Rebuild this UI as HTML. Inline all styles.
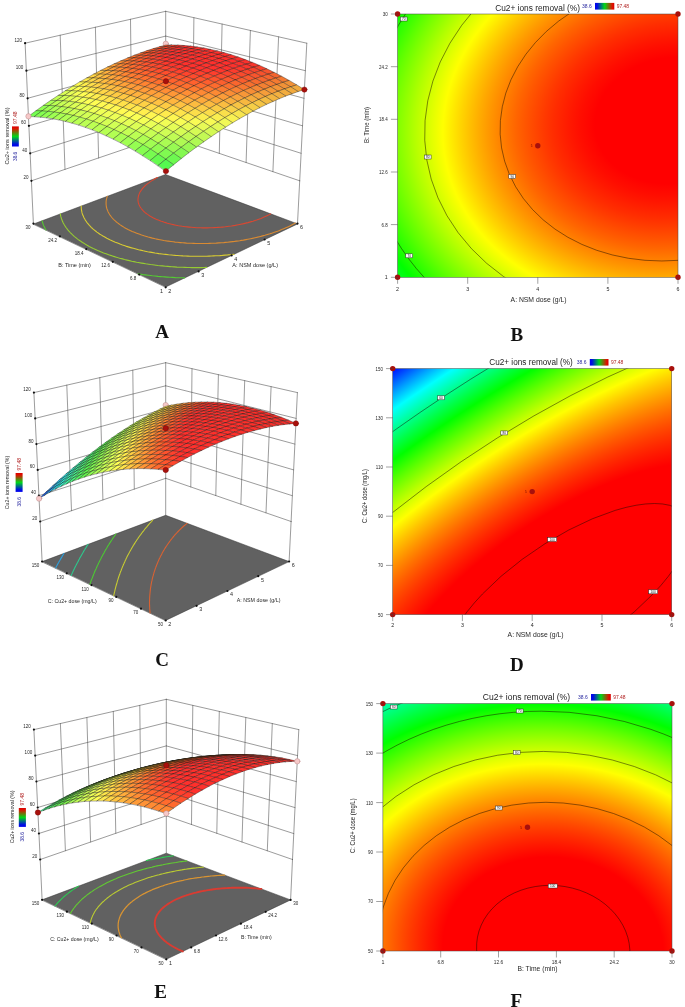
<!DOCTYPE html>
<html><head><meta charset="utf-8"><title>Figure</title><style>html,body{margin:0;padding:0;background:#fff}svg{display:block}</style></head><body>
<svg width="685" height="1007" viewBox="0 0 685 1007" font-family="Liberation Sans, sans-serif">
<rect width="685" height="1007" fill="#fff"/>
<g stroke-linejoin="round" stroke-linecap="round">
<path d="M25.1 43.2L31.4 180.8M60.2 35.2L65.0 169.4M95.4 27.2L98.6 158.0M130.5 19.3L132.1 146.6M165.7 11.3L165.7 135.1M193.9 17.7L192.5 144.3M222.1 24.1L219.3 153.4M250.4 30.4L246.1 162.6M278.6 36.8L272.9 171.7M306.8 43.2L299.7 180.8M25.1 43.2L165.7 11.3M165.7 11.3L306.8 43.2M26.4 70.7L165.7 36.1M165.7 36.1L305.4 70.7M27.6 98.3L165.7 60.8M165.7 60.8L304.0 98.3M28.9 125.8L165.7 85.6M165.7 85.6L302.5 125.8M30.2 153.3L165.7 110.4M165.7 110.4L301.1 153.3M31.4 180.8L165.7 135.1M165.7 135.1L299.7 180.8M31.4 180.8L33.4 223.6M299.7 180.8L297.5 223.6M165.7 135.1L165.7 174.9" stroke="#4a4a4a" stroke-width="0.55" fill="none"/>
<polygon points="165.7,287.0 297.6,223.9 165.5,174.5 33.5,224.0" fill="#616161" stroke="#333" stroke-width="0.5"/>
<polyline points="184.7,277.9 182.4,277.8 180.1,277.8 177.8,277.7 175.4,277.6 172.6,277.4 169.8,277.3 167.0,277.1 164.7,276.9 162.6,276.8 160.5,276.6 158.0,276.4 154.9,276.0 152.4,275.8 150.5,275.5 148.5,275.3 145.1,274.9 142.8,274.6 141.0,274.3 138.1,273.9 138.1,273.9" fill="none" stroke="#54cb32" stroke-width="1.1"/>
<polyline points="45.9,229.9 45.2,228.7 44.9,228.0 44.4,227.0 43.8,225.9 43.5,225.2 43.2,224.4 42.8,223.1 42.5,222.3 42.3,221.5 42.1,220.8" fill="none" stroke="#54cb32" stroke-width="1.1"/>
<polyline points="206.6,267.4 204.0,267.5 201.5,267.6 199.1,267.6 196.6,267.6 194.2,267.6 191.9,267.6 189.5,267.5 187.2,267.5 184.9,267.4 182.3,267.3 179.6,267.2 176.9,267.1 174.1,266.9 171.9,266.8 169.9,266.6 167.8,266.4 165.4,266.2 162.4,265.9 159.9,265.7 157.9,265.5 156.0,265.2 152.7,264.8 150.5,264.5 148.7,264.2 145.7,263.8 143.4,263.4 141.6,263.1 138.3,262.5 136.6,262.2 133.9,261.6 131.7,261.2 129.4,260.6 127.1,260.1 124.5,259.5 122.5,258.9 119.6,258.2 118.2,257.8 115.4,256.9 112.7,256.1 111.3,255.6 108.7,254.8 106.1,253.8 103.6,252.9 102.4,252.4 100.1,251.5 97.7,250.5 95.5,249.5 93.3,248.5 91.2,247.4 89.2,246.4 87.2,245.3 86.2,244.7 84.4,243.6 82.5,242.5 80.8,241.3 79.6,240.5 78.3,239.6 76.7,238.4 75.8,237.6 74.5,236.6 73.1,235.3 72.4,234.7 71.1,233.4 70.5,232.8 69.3,231.5 68.7,230.9 67.6,229.6 67.1,228.9 66.4,228.0 65.6,226.9 65.2,226.2 64.4,225.0 63.9,224.1 63.5,223.4 62.9,222.3 62.5,221.3 62.2,220.6 61.9,219.8 61.4,218.6 61.2,217.7 60.9,216.9 60.8,216.2 60.5,215.2 60.4,214.1 60.3,213.9" fill="none" stroke="#96cb32" stroke-width="1.1"/>
<polyline points="234.2,254.2 231.5,254.5 229.6,254.7 227.7,254.9 225.2,255.1 222.4,255.4 219.8,255.6 217.8,255.7 215.7,255.8 213.6,255.9 211.5,256.0 209.1,256.1 206.6,256.2 204.1,256.2 201.7,256.3 199.3,256.3 196.9,256.3 194.6,256.3 192.4,256.2 190.1,256.2 187.9,256.1 185.5,256.0 182.9,255.9 180.2,255.7 177.4,255.5 175.4,255.4 173.4,255.2 171.4,255.0 168.6,254.8 165.7,254.4 163.9,254.2 162.0,254.0 158.8,253.6 156.7,253.2 155.0,253.0 151.6,252.4 150.0,252.1 147.6,251.7 145.1,251.2 143.3,250.8 140.5,250.1 138.6,249.7 136.0,249.0 133.3,248.3 131.7,247.9 129.0,247.1 126.6,246.4 125.0,245.8 122.5,245.0 120.0,244.1 117.6,243.1 115.3,242.2 114.2,241.7 112.0,240.7 109.8,239.7 108.8,239.2 106.8,238.2 104.8,237.1 102.9,236.0 101.1,234.9 99.9,234.2 98.6,233.2 96.9,232.1 95.9,231.3 94.7,230.3 93.2,229.1 92.5,228.5 91.2,227.3 90.6,226.6 89.4,225.4 88.8,224.7 87.9,223.6 87.2,222.8 86.7,222.1 85.8,220.8 85.3,220.1 84.9,219.3 84.1,218.0 83.8,217.3 83.5,216.6 83.0,215.6 82.6,214.5 82.3,213.7 82.1,213.0 81.9,212.2 81.7,211.2 81.5,210.2 81.4,209.2 81.3,208.5 81.3,207.7 81.2,206.9 81.2,206.1 81.2,206.1" fill="none" stroke="#d8cb32" stroke-width="1.1"/>
<polyline points="295.3,223.1 293.5,224.1 291.7,225.0 289.8,226.0 287.8,226.9 285.8,227.8 283.7,228.7 281.6,229.6 279.5,230.4 278.3,230.9 276.0,231.7 273.6,232.6 271.2,233.4 269.9,233.8 267.4,234.5 264.9,235.3 263.5,235.6 260.8,236.4 259.4,236.7 256.6,237.4 255.1,237.7 252.2,238.4 250.7,238.7 247.7,239.3 246.1,239.6 243.4,240.1 241.3,240.4 239.7,240.7 236.5,241.1 234.6,241.4 232.8,241.6 230.3,241.9 227.5,242.2 225.6,242.4 223.7,242.6 221.6,242.7 218.9,242.9 216.2,243.1 213.9,243.2 211.8,243.3 209.7,243.4 207.6,243.5 205.4,243.5 203.1,243.5 200.8,243.5 198.5,243.5 196.1,243.5 193.6,243.4 191.1,243.3 188.6,243.2 186.5,243.1 184.5,242.9 182.6,242.8 180.3,242.6 177.3,242.3 175.1,242.1 173.3,241.8 171.0,241.5 168.1,241.1 166.4,240.9 163.9,240.5 161.5,240.0 159.9,239.7 156.8,239.1 155.3,238.8 152.4,238.1 150.6,237.6 148.2,237.0 145.5,236.2 144.1,235.8 141.6,235.0 139.1,234.1 136.7,233.2 134.4,232.3 132.2,231.4 130.1,230.4 128.0,229.4 126.1,228.4 124.2,227.4 122.4,226.3 121.6,225.7 119.9,224.6 118.4,223.5 117.6,222.9 116.1,221.7 115.5,221.1 114.1,219.9 113.5,219.3 112.3,218.0 111.8,217.4 111.1,216.5 110.3,215.4 109.8,214.8 109.2,213.8 108.6,212.7 108.2,212.0 107.9,211.3 107.5,210.3 107.1,209.2 106.8,208.5 106.6,207.7 106.4,207.0 106.3,206.2 106.2,205.2 106.1,204.3 106.1,203.4 106.1,202.5 106.1,201.6 106.2,200.8 106.3,200.0 106.5,199.2 106.7,198.4 106.9,197.6 107.1,196.8 107.3,196.3" fill="none" stroke="#d98a32" stroke-width="1.1"/>
<polyline points="270.7,213.9 269.0,214.8 267.1,215.7 265.2,216.6 263.1,217.5 261.0,218.4 258.8,219.2 256.6,220.0 254.2,220.8 253.0,221.2 250.5,221.9 248.0,222.6 246.7,222.9 243.9,223.6 242.6,223.9 239.7,224.5 238.2,224.8 235.2,225.4 233.7,225.6 231.5,226.0 228.8,226.3 227.1,226.5 225.3,226.8 222.4,227.1 220.1,227.3 218.2,227.4 216.3,227.5 214.4,227.6 212.0,227.8 209.6,227.8 207.3,227.9 205.0,227.9 202.9,227.9 200.7,227.8 198.7,227.7 196.6,227.7 194.0,227.5 191.3,227.3 189.1,227.1 187.3,226.9 185.4,226.7 182.2,226.3 180.6,226.0 178.5,225.7 175.9,225.2 174.4,224.9 171.5,224.2 169.5,223.7 167.4,223.2 164.8,222.4 162.4,221.6 161.2,221.2 158.9,220.3 156.7,219.4 154.6,218.5 153.5,218.0 151.7,217.0 149.9,216.0 148.3,214.9 147.5,214.4 146.0,213.2 145.2,212.7 143.9,211.5 143.3,210.9 142.2,209.6 141.6,209.0 141.1,208.3 140.3,207.1 139.8,206.3 139.5,205.6 139.1,204.9 138.7,203.8 138.4,202.9 138.2,202.0 138.1,201.2 138.0,200.5 138.0,199.7 138.0,198.9 138.1,198.0 138.2,197.2 138.4,196.3 138.6,195.4 138.9,194.6 139.2,193.9 139.5,193.2 139.8,192.5 140.3,191.6 141.0,190.6 141.5,189.9 141.9,189.3 142.6,188.4 143.5,187.5 144.0,186.9 144.9,186.0 145.8,185.2 146.4,184.7 147.7,183.6 148.4,183.1 149.8,182.1 150.5,181.6 152.0,180.6 153.2,179.9 154.3,179.2 155.9,178.3 157.5,177.5 157.5,177.5" fill="none" stroke="#d94832" stroke-width="1.1"/>
<circle cx="33.4" cy="223.6" r="1.1" fill="#111"/>
<circle cx="59.9" cy="236.3" r="1.1" fill="#111"/>
<circle cx="86.3" cy="249.1" r="1.1" fill="#111"/>
<circle cx="112.8" cy="261.8" r="1.1" fill="#111"/>
<circle cx="139.2" cy="274.6" r="1.1" fill="#111"/>
<circle cx="165.7" cy="287.3" r="1.1" fill="#111"/>
<circle cx="198.6" cy="271.4" r="1.1" fill="#111"/>
<circle cx="231.6" cy="255.4" r="1.1" fill="#111"/>
<circle cx="264.6" cy="239.5" r="1.1" fill="#111"/>
<circle cx="297.5" cy="223.6" r="1.1" fill="#111"/>
<circle cx="25.1" cy="43.2" r="1.1" fill="#111"/>
<circle cx="26.4" cy="70.7" r="1.1" fill="#111"/>
<circle cx="27.6" cy="98.3" r="1.1" fill="#111"/>
<circle cx="28.9" cy="125.8" r="1.1" fill="#111"/>
<circle cx="30.2" cy="153.3" r="1.1" fill="#111"/>
<circle cx="31.4" cy="180.8" r="1.1" fill="#111"/>
<circle cx="165.8" cy="43.8" r="2.7" fill="#f6c9c9" stroke="#b88" stroke-width="0.5"/>
<polygon points="165.8,46.6 172.0,44.9 165.8,45.0 159.6,46.7" fill="#ff582e" stroke="#151510" stroke-opacity="0.85" stroke-width="0.42"/>
<polygon points="159.5,48.5 165.8,46.6 159.6,46.7 153.3,48.6" fill="#ff5a2e" stroke="#151510" stroke-opacity="0.85" stroke-width="0.42"/>
<polygon points="172.1,46.8 178.3,45.1 172.0,44.9 165.8,46.6" fill="#ff472d" stroke="#151510" stroke-opacity="0.85" stroke-width="0.42"/>
<polygon points="153.2,50.6 159.5,48.5 153.3,48.6 147.0,50.6" fill="#ff5e2e" stroke="#151510" stroke-opacity="0.85" stroke-width="0.42"/>
<polygon points="165.8,48.7 172.1,46.8 165.8,46.6 159.5,48.5" fill="#ff492d" stroke="#151510" stroke-opacity="0.85" stroke-width="0.42"/>
<polygon points="178.4,47.2 184.6,45.5 178.3,45.1 172.1,46.8" fill="#ff392d" stroke="#151510" stroke-opacity="0.85" stroke-width="0.42"/>
<polygon points="159.4,50.8 165.8,48.7 159.5,48.5 153.2,50.6" fill="#ff4d2d" stroke="#151510" stroke-opacity="0.85" stroke-width="0.42"/>
<polygon points="172.1,49.1 178.4,47.2 172.1,46.8 165.8,48.7" fill="#ff3b2d" stroke="#151510" stroke-opacity="0.85" stroke-width="0.42"/>
<polygon points="146.8,52.9 153.2,50.6 147.0,50.6 140.6,52.9" fill="#ff642e" stroke="#151510" stroke-opacity="0.85" stroke-width="0.42"/>
<polygon points="184.9,47.8 191.1,46.1 184.6,45.5 178.4,47.2" fill="#ff312d" stroke="#151510" stroke-opacity="0.85" stroke-width="0.42"/>
<polygon points="140.3,55.3 146.8,52.9 140.6,52.9 134.1,55.3" fill="#ff6b2e" stroke="#151510" stroke-opacity="0.85" stroke-width="0.42"/>
<polygon points="153.0,53.0 159.4,50.8 153.2,50.6 146.8,52.9" fill="#ff532d" stroke="#151510" stroke-opacity="0.85" stroke-width="0.42"/>
<polygon points="165.8,51.2 172.1,49.1 165.8,48.7 159.4,50.8" fill="#ff3e2d" stroke="#151510" stroke-opacity="0.85" stroke-width="0.42"/>
<polygon points="178.6,49.7 184.9,47.8 178.4,47.2 172.1,49.1" fill="#ff312d" stroke="#151510" stroke-opacity="0.85" stroke-width="0.42"/>
<polygon points="191.4,48.7 197.6,47.0 191.1,46.1 184.9,47.8" fill="#ff302d" stroke="#151510" stroke-opacity="0.85" stroke-width="0.42"/>
<polygon points="146.5,55.5 153.0,53.0 146.8,52.9 140.3,55.3" fill="#ff5a2e" stroke="#151510" stroke-opacity="0.85" stroke-width="0.42"/>
<polygon points="185.1,50.6 191.4,48.7 184.9,47.8 178.6,49.7" fill="#ff302d" stroke="#151510" stroke-opacity="0.85" stroke-width="0.42"/>
<polygon points="133.7,57.9 140.3,55.3 134.1,55.3 127.5,58.0" fill="#ff752f" stroke="#151510" stroke-opacity="0.85" stroke-width="0.42"/>
<polygon points="159.4,53.4 165.8,51.2 159.4,50.8 153.0,53.0" fill="#ff442d" stroke="#151510" stroke-opacity="0.85" stroke-width="0.42"/>
<polygon points="172.2,51.8 178.6,49.7 172.1,49.1 165.8,51.2" fill="#ff322d" stroke="#151510" stroke-opacity="0.85" stroke-width="0.42"/>
<polygon points="198.0,49.8 204.2,48.0 197.6,47.0 191.4,48.7" fill="#ff302c" stroke="#151510" stroke-opacity="0.85" stroke-width="0.42"/>
<polygon points="127.1,60.8 133.7,57.9 127.5,58.0 120.9,60.8" fill="#ff8232" stroke="#151510" stroke-opacity="0.85" stroke-width="0.42"/>
<polygon points="140.0,58.1 146.5,55.5 140.3,55.3 133.7,57.9" fill="#ff632e" stroke="#151510" stroke-opacity="0.85" stroke-width="0.42"/>
<polygon points="152.9,55.9 159.4,53.4 153.0,53.0 146.5,55.5" fill="#ff4b2d" stroke="#151510" stroke-opacity="0.85" stroke-width="0.42"/>
<polygon points="165.8,54.1 172.2,51.8 165.8,51.2 159.4,53.4" fill="#ff372d" stroke="#151510" stroke-opacity="0.85" stroke-width="0.42"/>
<polygon points="178.7,52.7 185.1,50.6 178.6,49.7 172.2,51.8" fill="#ff312d" stroke="#151510" stroke-opacity="0.85" stroke-width="0.42"/>
<polygon points="191.7,51.7 198.0,49.8 191.4,48.7 185.1,50.6" fill="#ff302c" stroke="#151510" stroke-opacity="0.85" stroke-width="0.42"/>
<polygon points="204.7,51.1 210.9,49.4 204.2,48.0 198.0,49.8" fill="#ff302c" stroke="#151510" stroke-opacity="0.85" stroke-width="0.42"/>
<polygon points="120.4,63.8 127.1,60.8 120.9,60.8 114.2,63.8" fill="#ff9035" stroke="#151510" stroke-opacity="0.85" stroke-width="0.42"/>
<polygon points="133.3,61.0 140.0,58.1 133.7,57.9 127.1,60.8" fill="#ff6e2e" stroke="#151510" stroke-opacity="0.85" stroke-width="0.42"/>
<polygon points="146.3,58.5 152.9,55.9 146.5,55.5 140.0,58.1" fill="#ff542d" stroke="#151510" stroke-opacity="0.85" stroke-width="0.42"/>
<polygon points="159.3,56.5 165.8,54.1 159.4,53.4 152.9,55.9" fill="#ff3e2d" stroke="#151510" stroke-opacity="0.85" stroke-width="0.42"/>
<polygon points="172.3,54.9 178.7,52.7 172.2,51.8 165.8,54.1" fill="#ff312d" stroke="#151510" stroke-opacity="0.85" stroke-width="0.42"/>
<polygon points="185.3,53.7 191.7,51.7 185.1,50.6 178.7,52.7" fill="#ff302d" stroke="#151510" stroke-opacity="0.85" stroke-width="0.42"/>
<polygon points="198.4,53.0 204.7,51.1 198.0,49.8 191.7,51.7" fill="#ff302c" stroke="#151510" stroke-opacity="0.85" stroke-width="0.42"/>
<polygon points="211.4,52.6 217.6,50.9 210.9,49.4 204.7,51.1" fill="#ff302c" stroke="#151510" stroke-opacity="0.85" stroke-width="0.42"/>
<polygon points="126.6,64.0 133.3,61.0 127.1,60.8 120.4,63.8" fill="#ff7c31" stroke="#151510" stroke-opacity="0.85" stroke-width="0.42"/>
<polygon points="139.7,61.4 146.3,58.5 140.0,58.1 133.3,61.0" fill="#ff5f2e" stroke="#151510" stroke-opacity="0.85" stroke-width="0.42"/>
<polygon points="165.8,57.4 172.3,54.9 165.8,54.1 159.3,56.5" fill="#ff342d" stroke="#151510" stroke-opacity="0.85" stroke-width="0.42"/>
<polygon points="192.0,55.1 198.4,53.0 191.7,51.7 185.3,53.7" fill="#ff302c" stroke="#151510" stroke-opacity="0.85" stroke-width="0.42"/>
<polygon points="205.1,54.5 211.4,52.6 204.7,51.1 198.4,53.0" fill="#ff302c" stroke="#151510" stroke-opacity="0.85" stroke-width="0.42"/>
<polygon points="113.6,67.0 120.4,63.8 114.2,63.8 107.5,67.0" fill="#ffa039" stroke="#151510" stroke-opacity="0.85" stroke-width="0.42"/>
<polygon points="152.7,59.2 159.3,56.5 152.9,55.9 146.3,58.5" fill="#ff472d" stroke="#151510" stroke-opacity="0.85" stroke-width="0.42"/>
<polygon points="178.9,56.0 185.3,53.7 178.7,52.7 172.3,54.9" fill="#ff302d" stroke="#151510" stroke-opacity="0.85" stroke-width="0.42"/>
<polygon points="218.2,54.4 224.4,52.7 217.6,50.9 211.4,52.6" fill="#ff302c" stroke="#151510" stroke-opacity="0.85" stroke-width="0.42"/>
<polygon points="106.8,70.4 113.6,67.0 107.5,67.0 100.6,70.4" fill="#ffb13d" stroke="#151510" stroke-opacity="0.85" stroke-width="0.42"/>
<polygon points="119.8,67.2 126.6,64.0 120.4,63.8 113.6,67.0" fill="#ff8c34" stroke="#151510" stroke-opacity="0.85" stroke-width="0.42"/>
<polygon points="132.9,64.4 139.7,61.4 133.3,61.0 126.6,64.0" fill="#ff6b2e" stroke="#151510" stroke-opacity="0.85" stroke-width="0.42"/>
<polygon points="146.1,62.0 152.7,59.2 146.3,58.5 139.7,61.4" fill="#ff522d" stroke="#151510" stroke-opacity="0.85" stroke-width="0.42"/>
<polygon points="159.2,60.1 165.8,57.4 159.3,56.5 152.7,59.2" fill="#ff3d2d" stroke="#151510" stroke-opacity="0.85" stroke-width="0.42"/>
<polygon points="172.4,58.5 178.9,56.0 172.3,54.9 165.8,57.4" fill="#ff312d" stroke="#151510" stroke-opacity="0.85" stroke-width="0.42"/>
<polygon points="185.6,57.4 192.0,55.1 185.3,53.7 178.9,56.0" fill="#ff302d" stroke="#151510" stroke-opacity="0.85" stroke-width="0.42"/>
<polygon points="198.8,56.7 205.1,54.5 198.4,53.0 192.0,55.1" fill="#ff302c" stroke="#151510" stroke-opacity="0.85" stroke-width="0.42"/>
<polygon points="212.0,56.4 218.2,54.4 211.4,52.6 205.1,54.5" fill="#ff302c" stroke="#151510" stroke-opacity="0.85" stroke-width="0.42"/>
<polygon points="225.1,56.5 231.3,54.7 224.4,52.7 218.2,54.4" fill="#fe302c" stroke="#151510" stroke-opacity="0.85" stroke-width="0.42"/>
<polygon points="113.0,70.7 119.8,67.2 113.6,67.0 106.8,70.4" fill="#ff9e39" stroke="#151510" stroke-opacity="0.85" stroke-width="0.42"/>
<polygon points="152.6,62.9 159.2,60.1 152.7,59.2 146.1,62.0" fill="#ff472d" stroke="#151510" stroke-opacity="0.85" stroke-width="0.42"/>
<polygon points="179.1,59.9 185.6,57.4 178.9,56.0 172.4,58.5" fill="#ff312d" stroke="#151510" stroke-opacity="0.85" stroke-width="0.42"/>
<polygon points="218.9,58.4 225.1,56.5 218.2,54.4 212.0,56.4" fill="#ff302c" stroke="#151510" stroke-opacity="0.85" stroke-width="0.42"/>
<polygon points="99.9,74.1 106.8,70.4 100.6,70.4 93.7,74.1" fill="#ffc342" stroke="#151510" stroke-opacity="0.85" stroke-width="0.42"/>
<polygon points="126.2,67.7 132.9,64.4 126.6,64.0 119.8,67.2" fill="#ff7b30" stroke="#151510" stroke-opacity="0.85" stroke-width="0.42"/>
<polygon points="139.4,65.1 146.1,62.0 139.7,61.4 132.9,64.4" fill="#ff5e2e" stroke="#151510" stroke-opacity="0.85" stroke-width="0.42"/>
<polygon points="165.8,61.2 172.4,58.5 165.8,57.4 159.2,60.1" fill="#ff352d" stroke="#151510" stroke-opacity="0.85" stroke-width="0.42"/>
<polygon points="192.3,59.0 198.8,56.7 192.0,55.1 185.6,57.4" fill="#ff302c" stroke="#151510" stroke-opacity="0.85" stroke-width="0.42"/>
<polygon points="205.6,58.5 212.0,56.4 205.1,54.5 198.8,56.7" fill="#ff302c" stroke="#151510" stroke-opacity="0.85" stroke-width="0.42"/>
<polygon points="232.1,58.8 238.3,57.0 231.3,54.7 225.1,56.5" fill="#fd302c" stroke="#151510" stroke-opacity="0.85" stroke-width="0.42"/>
<polygon points="92.9,77.9 99.9,74.1 93.7,74.1 86.8,77.9" fill="#ffd547" stroke="#151510" stroke-opacity="0.85" stroke-width="0.42"/>
<polygon points="106.1,74.3 113.0,70.7 106.8,70.4 99.9,74.1" fill="#ffb13d" stroke="#151510" stroke-opacity="0.85" stroke-width="0.42"/>
<polygon points="119.3,71.1 126.2,67.7 119.8,67.2 113.0,70.7" fill="#ff8d34" stroke="#151510" stroke-opacity="0.85" stroke-width="0.42"/>
<polygon points="132.6,68.4 139.4,65.1 132.9,64.4 126.2,67.7" fill="#ff6c2e" stroke="#151510" stroke-opacity="0.85" stroke-width="0.42"/>
<polygon points="145.9,66.0 152.6,62.9 146.1,62.0 139.4,65.1" fill="#ff542d" stroke="#151510" stroke-opacity="0.85" stroke-width="0.42"/>
<polygon points="159.2,64.1 165.8,61.2 159.2,60.1 152.6,62.9" fill="#ff3f2d" stroke="#151510" stroke-opacity="0.85" stroke-width="0.42"/>
<polygon points="172.5,62.6 179.1,59.9 172.4,58.5 165.8,61.2" fill="#ff312d" stroke="#151510" stroke-opacity="0.85" stroke-width="0.42"/>
<polygon points="185.8,61.5 192.3,59.0 185.6,57.4 179.1,59.9" fill="#ff302d" stroke="#151510" stroke-opacity="0.85" stroke-width="0.42"/>
<polygon points="199.2,60.8 205.6,58.5 198.8,56.7 192.3,59.0" fill="#ff302c" stroke="#151510" stroke-opacity="0.85" stroke-width="0.42"/>
<polygon points="212.5,60.6 218.9,58.4 212.0,56.4 205.6,58.5" fill="#ff302c" stroke="#151510" stroke-opacity="0.85" stroke-width="0.42"/>
<polygon points="225.9,60.7 232.1,58.8 225.1,56.5 218.9,58.4" fill="#fe302c" stroke="#151510" stroke-opacity="0.85" stroke-width="0.42"/>
<polygon points="239.2,61.3 245.3,59.6 238.3,57.0 232.1,58.8" fill="#fc302d" stroke="#151510" stroke-opacity="0.85" stroke-width="0.42"/>
<polygon points="85.8,82.0 92.9,77.9 86.8,77.9 79.7,81.9" fill="#ffe94d" stroke="#151510" stroke-opacity="0.85" stroke-width="0.42"/>
<polygon points="99.1,78.2 106.1,74.3 99.9,74.1 92.9,77.9" fill="#ffc442" stroke="#151510" stroke-opacity="0.85" stroke-width="0.42"/>
<polygon points="112.4,74.8 119.3,71.1 113.0,70.7 106.1,74.3" fill="#ffa039" stroke="#151510" stroke-opacity="0.85" stroke-width="0.42"/>
<polygon points="125.7,71.8 132.6,68.4 126.2,67.7 119.3,71.1" fill="#ff7e31" stroke="#151510" stroke-opacity="0.85" stroke-width="0.42"/>
<polygon points="139.0,69.3 145.9,66.0 139.4,65.1 132.6,68.4" fill="#ff622e" stroke="#151510" stroke-opacity="0.85" stroke-width="0.42"/>
<polygon points="152.4,67.1 159.2,64.1 152.6,62.9 145.9,66.0" fill="#ff4b2d" stroke="#151510" stroke-opacity="0.85" stroke-width="0.42"/>
<polygon points="165.8,65.4 172.5,62.6 165.8,61.2 159.2,64.1" fill="#ff392d" stroke="#151510" stroke-opacity="0.85" stroke-width="0.42"/>
<polygon points="179.2,64.2 185.8,61.5 179.1,59.9 172.5,62.6" fill="#ff312d" stroke="#151510" stroke-opacity="0.85" stroke-width="0.42"/>
<polygon points="192.7,63.3 199.2,60.8 192.3,59.0 185.8,61.5" fill="#ff302d" stroke="#151510" stroke-opacity="0.85" stroke-width="0.42"/>
<polygon points="206.1,62.9 212.5,60.6 205.6,58.5 199.2,60.8" fill="#ff302c" stroke="#151510" stroke-opacity="0.85" stroke-width="0.42"/>
<polygon points="219.5,62.9 225.9,60.7 218.9,58.4 212.5,60.6" fill="#ff302c" stroke="#151510" stroke-opacity="0.85" stroke-width="0.42"/>
<polygon points="232.9,63.3 239.2,61.3 232.1,58.8 225.9,60.7" fill="#fd302d" stroke="#151510" stroke-opacity="0.85" stroke-width="0.42"/>
<polygon points="246.3,64.2 252.5,62.4 245.3,59.6 239.2,61.3" fill="#fa312d" stroke="#151510" stroke-opacity="0.85" stroke-width="0.42"/>
<polygon points="92.0,82.3 99.1,78.2 92.9,77.9 85.8,82.0" fill="#ffd848" stroke="#151510" stroke-opacity="0.85" stroke-width="0.42"/>
<polygon points="105.3,78.7 112.4,74.8 106.1,74.3 99.1,78.2" fill="#ffb53e" stroke="#151510" stroke-opacity="0.85" stroke-width="0.42"/>
<polygon points="132.2,72.8 139.0,69.3 132.6,68.4 125.7,71.8" fill="#ff712e" stroke="#151510" stroke-opacity="0.85" stroke-width="0.42"/>
<polygon points="159.1,68.5 165.8,65.4 159.2,64.1 152.4,67.1" fill="#ff452d" stroke="#151510" stroke-opacity="0.85" stroke-width="0.42"/>
<polygon points="172.6,67.1 179.2,64.2 172.5,62.6 165.8,65.4" fill="#ff362d" stroke="#151510" stroke-opacity="0.85" stroke-width="0.42"/>
<polygon points="199.6,65.4 206.1,62.9 199.2,60.8 192.7,63.3" fill="#ff302d" stroke="#151510" stroke-opacity="0.85" stroke-width="0.42"/>
<polygon points="226.6,65.5 232.9,63.3 225.9,60.7 219.5,62.9" fill="#fe302d" stroke="#151510" stroke-opacity="0.85" stroke-width="0.42"/>
<polygon points="240.1,66.1 246.3,64.2 239.2,61.3 232.9,63.3" fill="#fb312d" stroke="#151510" stroke-opacity="0.85" stroke-width="0.42"/>
<polygon points="78.7,86.3 85.8,82.0 79.7,81.9 72.6,86.2" fill="#fffc53" stroke="#151510" stroke-opacity="0.85" stroke-width="0.42"/>
<polygon points="118.7,75.5 125.7,71.8 119.3,71.1 112.4,74.8" fill="#ff9236" stroke="#151510" stroke-opacity="0.85" stroke-width="0.42"/>
<polygon points="145.6,70.4 152.4,67.1 145.9,66.0 139.0,69.3" fill="#ff592e" stroke="#151510" stroke-opacity="0.85" stroke-width="0.42"/>
<polygon points="186.1,66.0 192.7,63.3 185.8,61.5 179.2,64.2" fill="#ff312d" stroke="#151510" stroke-opacity="0.85" stroke-width="0.42"/>
<polygon points="213.1,65.2 219.5,62.9 212.5,60.6 206.1,62.9" fill="#ff302d" stroke="#151510" stroke-opacity="0.85" stroke-width="0.42"/>
<polygon points="253.5,67.2 259.7,65.4 252.5,62.4 246.3,64.2" fill="#f9362d" stroke="#151510" stroke-opacity="0.85" stroke-width="0.42"/>
<polygon points="71.5,90.7 78.7,86.3 72.6,86.2 65.4,90.7" fill="#efff56" stroke="#151510" stroke-opacity="0.85" stroke-width="0.42"/>
<polygon points="84.8,86.5 92.0,82.3 85.8,82.0 78.7,86.3" fill="#ffed4e" stroke="#151510" stroke-opacity="0.85" stroke-width="0.42"/>
<polygon points="98.3,82.8 105.3,78.7 99.1,78.2 92.0,82.3" fill="#ffc944" stroke="#151510" stroke-opacity="0.85" stroke-width="0.42"/>
<polygon points="111.7,79.4 118.7,75.5 112.4,74.8 105.3,78.7" fill="#ffa73b" stroke="#151510" stroke-opacity="0.85" stroke-width="0.42"/>
<polygon points="125.2,76.5 132.2,72.8 125.7,71.8 118.7,75.5" fill="#ff8633" stroke="#151510" stroke-opacity="0.85" stroke-width="0.42"/>
<polygon points="138.7,73.9 145.6,70.4 139.0,69.3 132.2,72.8" fill="#ff692e" stroke="#151510" stroke-opacity="0.85" stroke-width="0.42"/>
<polygon points="152.3,71.8 159.1,68.5 152.4,67.1 145.6,70.4" fill="#ff532d" stroke="#151510" stroke-opacity="0.85" stroke-width="0.42"/>
<polygon points="165.8,70.2 172.6,67.1 165.8,65.4 159.1,68.5" fill="#ff422d" stroke="#151510" stroke-opacity="0.85" stroke-width="0.42"/>
<polygon points="179.4,69.0 186.1,66.0 179.2,64.2 172.6,67.1" fill="#ff352d" stroke="#151510" stroke-opacity="0.85" stroke-width="0.42"/>
<polygon points="193.0,68.1 199.6,65.4 192.7,63.3 186.1,66.0" fill="#ff312d" stroke="#151510" stroke-opacity="0.85" stroke-width="0.42"/>
<polygon points="206.6,67.8 213.1,65.2 206.1,62.9 199.6,65.4" fill="#ff312d" stroke="#151510" stroke-opacity="0.85" stroke-width="0.42"/>
<polygon points="220.2,67.8 226.6,65.5 219.5,62.9 213.1,65.2" fill="#fe312d" stroke="#151510" stroke-opacity="0.85" stroke-width="0.42"/>
<polygon points="233.7,68.3 240.1,66.1 232.9,63.3 226.6,65.5" fill="#fc312d" stroke="#151510" stroke-opacity="0.85" stroke-width="0.42"/>
<polygon points="247.3,69.2 253.5,67.2 246.3,64.2 240.1,66.1" fill="#fa362d" stroke="#151510" stroke-opacity="0.85" stroke-width="0.42"/>
<polygon points="260.8,70.6 266.9,68.8 259.7,65.4 253.5,67.2" fill="#f7432d" stroke="#151510" stroke-opacity="0.85" stroke-width="0.42"/>
<polygon points="77.6,91.1 84.8,86.5 78.7,86.3 71.5,90.7" fill="#fdff54" stroke="#151510" stroke-opacity="0.85" stroke-width="0.42"/>
<polygon points="118.2,80.4 125.2,76.5 118.7,75.5 111.7,79.4" fill="#ff9b38" stroke="#151510" stroke-opacity="0.85" stroke-width="0.42"/>
<polygon points="145.4,75.4 152.3,71.8 145.6,70.4 138.7,73.9" fill="#ff632e" stroke="#151510" stroke-opacity="0.85" stroke-width="0.42"/>
<polygon points="186.3,71.1 193.0,68.1 186.1,66.0 179.4,69.0" fill="#ff362d" stroke="#151510" stroke-opacity="0.85" stroke-width="0.42"/>
<polygon points="213.7,70.4 220.2,67.8 213.1,65.2 206.6,67.8" fill="#ff312d" stroke="#151510" stroke-opacity="0.85" stroke-width="0.42"/>
<polygon points="254.6,72.6 260.8,70.6 253.5,67.2 247.3,69.2" fill="#f8442d" stroke="#151510" stroke-opacity="0.85" stroke-width="0.42"/>
<polygon points="64.2,95.4 71.5,90.7 65.4,90.7 58.2,95.4" fill="#daff55" stroke="#151510" stroke-opacity="0.85" stroke-width="0.42"/>
<polygon points="91.1,87.1 98.3,82.8 92.0,82.3 84.8,86.5" fill="#ffdf4a" stroke="#151510" stroke-opacity="0.85" stroke-width="0.42"/>
<polygon points="104.6,83.5 111.7,79.4 105.3,78.7 98.3,82.8" fill="#ffbc40" stroke="#151510" stroke-opacity="0.85" stroke-width="0.42"/>
<polygon points="131.8,77.7 138.7,73.9 132.2,72.8 125.2,76.5" fill="#ff7c31" stroke="#151510" stroke-opacity="0.85" stroke-width="0.42"/>
<polygon points="159.0,73.5 165.8,70.2 159.1,68.5 152.3,71.8" fill="#ff4f2d" stroke="#151510" stroke-opacity="0.85" stroke-width="0.42"/>
<polygon points="172.7,72.1 179.4,69.0 172.6,67.1 165.8,70.2" fill="#ff412d" stroke="#151510" stroke-opacity="0.85" stroke-width="0.42"/>
<polygon points="200.0,70.5 206.6,67.8 199.6,65.4 193.0,68.1" fill="#ff312d" stroke="#151510" stroke-opacity="0.85" stroke-width="0.42"/>
<polygon points="227.3,70.7 233.7,68.3 226.6,65.5 220.2,67.8" fill="#fd312d" stroke="#151510" stroke-opacity="0.85" stroke-width="0.42"/>
<polygon points="241.0,71.4 247.3,69.2 240.1,66.1 233.7,68.3" fill="#fb382d" stroke="#151510" stroke-opacity="0.85" stroke-width="0.42"/>
<polygon points="268.2,74.2 274.3,72.4 266.9,68.8 260.8,70.6" fill="#f6532d" stroke="#151510" stroke-opacity="0.85" stroke-width="0.42"/>
<polygon points="70.3,95.8 77.6,91.1 71.5,90.7 64.2,95.4" fill="#e8ff56" stroke="#151510" stroke-opacity="0.85" stroke-width="0.42"/>
<polygon points="261.9,76.3 268.2,74.2 260.8,70.6 254.6,72.6" fill="#f7532d" stroke="#151510" stroke-opacity="0.85" stroke-width="0.42"/>
<polygon points="56.9,100.4 64.2,95.4 58.2,95.4 50.8,100.3" fill="#c3ff54" stroke="#151510" stroke-opacity="0.85" stroke-width="0.42"/>
<polygon points="83.9,91.6 91.1,87.1 84.8,86.5 77.6,91.1" fill="#fff450" stroke="#151510" stroke-opacity="0.85" stroke-width="0.42"/>
<polygon points="97.4,87.8 104.6,83.5 98.3,82.8 91.1,87.1" fill="#ffd246" stroke="#151510" stroke-opacity="0.85" stroke-width="0.42"/>
<polygon points="111.1,84.5 118.2,80.4 111.7,79.4 104.6,83.5" fill="#ffb13d" stroke="#151510" stroke-opacity="0.85" stroke-width="0.42"/>
<polygon points="124.7,81.6 131.8,77.7 125.2,76.5 118.2,80.4" fill="#ff9135" stroke="#151510" stroke-opacity="0.85" stroke-width="0.42"/>
<polygon points="138.4,79.1 145.4,75.4 138.7,73.9 131.8,77.7" fill="#ff742f" stroke="#151510" stroke-opacity="0.85" stroke-width="0.42"/>
<polygon points="152.1,77.0 159.0,73.5 152.3,71.8 145.4,75.4" fill="#ff5f2e" stroke="#151510" stroke-opacity="0.85" stroke-width="0.42"/>
<polygon points="165.8,75.4 172.7,72.1 165.8,70.2 159.0,73.5" fill="#ff4e2d" stroke="#151510" stroke-opacity="0.85" stroke-width="0.42"/>
<polygon points="179.6,74.2 186.3,71.1 179.4,69.0 172.7,72.1" fill="#ff422d" stroke="#151510" stroke-opacity="0.85" stroke-width="0.42"/>
<polygon points="193.3,73.5 200.0,70.5 193.0,68.1 186.3,71.1" fill="#ff3a2d" stroke="#151510" stroke-opacity="0.85" stroke-width="0.42"/>
<polygon points="207.1,73.2 213.7,70.4 206.6,67.8 200.0,70.5" fill="#ff362d" stroke="#151510" stroke-opacity="0.85" stroke-width="0.42"/>
<polygon points="220.8,73.3 227.3,70.7 220.2,67.8 213.7,70.4" fill="#fe372d" stroke="#151510" stroke-opacity="0.85" stroke-width="0.42"/>
<polygon points="234.5,73.8 241.0,71.4 233.7,68.3 227.3,70.7" fill="#fc3c2d" stroke="#151510" stroke-opacity="0.85" stroke-width="0.42"/>
<polygon points="248.3,74.8 254.6,72.6 247.3,69.2 241.0,71.4" fill="#f9462d" stroke="#151510" stroke-opacity="0.85" stroke-width="0.42"/>
<polygon points="275.6,78.1 281.7,76.3 274.3,72.4 268.2,74.2" fill="#f4642e" stroke="#151510" stroke-opacity="0.85" stroke-width="0.42"/>
<polygon points="49.4,105.5 56.9,100.4 50.8,100.3 43.4,105.4" fill="#abff53" stroke="#151510" stroke-opacity="0.85" stroke-width="0.42"/>
<polygon points="63.0,100.7 70.3,95.8 64.2,95.4 56.9,100.4" fill="#d2ff55" stroke="#151510" stroke-opacity="0.85" stroke-width="0.42"/>
<polygon points="76.6,96.3 83.9,91.6 77.6,91.1 70.3,95.8" fill="#f5ff56" stroke="#151510" stroke-opacity="0.85" stroke-width="0.42"/>
<polygon points="90.2,92.4 97.4,87.8 91.1,87.1 83.9,91.6" fill="#ffe84c" stroke="#151510" stroke-opacity="0.85" stroke-width="0.42"/>
<polygon points="103.9,88.8 111.1,84.5 104.6,83.5 97.4,87.8" fill="#ffc743" stroke="#151510" stroke-opacity="0.85" stroke-width="0.42"/>
<polygon points="117.6,85.7 124.7,81.6 118.2,80.4 111.1,84.5" fill="#ffa83b" stroke="#151510" stroke-opacity="0.85" stroke-width="0.42"/>
<polygon points="131.4,83.1 138.4,79.1 131.8,77.7 124.7,81.6" fill="#ff8a34" stroke="#151510" stroke-opacity="0.85" stroke-width="0.42"/>
<polygon points="145.1,80.8 152.1,77.0 145.4,75.4 138.4,79.1" fill="#ff702e" stroke="#151510" stroke-opacity="0.85" stroke-width="0.42"/>
<polygon points="158.9,79.0 165.8,75.4 159.0,73.5 152.1,77.0" fill="#ff5d2e" stroke="#151510" stroke-opacity="0.85" stroke-width="0.42"/>
<polygon points="172.8,77.6 179.6,74.2 172.7,72.1 165.8,75.4" fill="#ff4f2d" stroke="#151510" stroke-opacity="0.85" stroke-width="0.42"/>
<polygon points="186.6,76.7 193.3,73.5 186.3,71.1 179.6,74.2" fill="#ff452d" stroke="#151510" stroke-opacity="0.85" stroke-width="0.42"/>
<polygon points="200.4,76.2 207.1,73.2 200.0,70.5 193.3,73.5" fill="#ff402d" stroke="#151510" stroke-opacity="0.85" stroke-width="0.42"/>
<polygon points="214.2,76.1 220.8,73.3 213.7,70.4 207.1,73.2" fill="#ff3f2d" stroke="#151510" stroke-opacity="0.85" stroke-width="0.42"/>
<polygon points="228.1,76.5 234.5,73.8 227.3,70.7 220.8,73.3" fill="#fc422d" stroke="#151510" stroke-opacity="0.85" stroke-width="0.42"/>
<polygon points="241.9,77.3 248.3,74.8 241.0,71.4 234.5,73.8" fill="#fa4a2d" stroke="#151510" stroke-opacity="0.85" stroke-width="0.42"/>
<polygon points="255.6,78.5 261.9,76.3 254.6,72.6 248.3,74.8" fill="#f8552e" stroke="#151510" stroke-opacity="0.85" stroke-width="0.42"/>
<polygon points="269.4,80.2 275.6,78.1 268.2,74.2 261.9,76.3" fill="#f5642e" stroke="#151510" stroke-opacity="0.85" stroke-width="0.42"/>
<polygon points="283.1,82.3 289.2,80.4 281.7,76.3 275.6,78.1" fill="#f37931" stroke="#151510" stroke-opacity="0.85" stroke-width="0.42"/>
<polygon points="42.0,110.9 49.4,105.5 43.4,105.4 36.0,110.7" fill="#90ff51" stroke="#151510" stroke-opacity="0.85" stroke-width="0.42"/>
<polygon points="55.5,105.9 63.0,100.7 56.9,100.4 49.4,105.5" fill="#baff53" stroke="#151510" stroke-opacity="0.85" stroke-width="0.42"/>
<polygon points="69.2,101.3 76.6,96.3 70.3,95.8 63.0,100.7" fill="#dfff55" stroke="#151510" stroke-opacity="0.85" stroke-width="0.42"/>
<polygon points="82.9,97.2 90.2,92.4 83.9,91.6 76.6,96.3" fill="#fffe53" stroke="#151510" stroke-opacity="0.85" stroke-width="0.42"/>
<polygon points="96.6,93.4 103.9,88.8 97.4,87.8 90.2,92.4" fill="#ffde49" stroke="#151510" stroke-opacity="0.85" stroke-width="0.42"/>
<polygon points="124.2,87.2 131.4,83.1 124.7,81.6 117.6,85.7" fill="#ffa139" stroke="#151510" stroke-opacity="0.85" stroke-width="0.42"/>
<polygon points="138.1,84.8 145.1,80.8 138.4,79.1 131.4,83.1" fill="#ff8633" stroke="#151510" stroke-opacity="0.85" stroke-width="0.42"/>
<polygon points="165.9,81.2 172.8,77.6 165.8,75.4 158.9,79.0" fill="#ff5e2e" stroke="#151510" stroke-opacity="0.85" stroke-width="0.42"/>
<polygon points="193.7,79.3 200.4,76.2 193.3,73.5 186.6,76.7" fill="#ff4b2d" stroke="#151510" stroke-opacity="0.85" stroke-width="0.42"/>
<polygon points="207.6,79.1 214.2,76.1 207.1,73.2 200.4,76.2" fill="#ff492d" stroke="#151510" stroke-opacity="0.85" stroke-width="0.42"/>
<polygon points="235.4,79.9 241.9,77.3 234.5,73.8 228.1,76.5" fill="#fb4f2d" stroke="#151510" stroke-opacity="0.85" stroke-width="0.42"/>
<polygon points="249.2,81.0 255.6,78.5 248.3,74.8 241.9,77.3" fill="#f9592e" stroke="#151510" stroke-opacity="0.85" stroke-width="0.42"/>
<polygon points="263.1,82.5 269.4,80.2 261.9,76.3 255.6,78.5" fill="#f6662e" stroke="#151510" stroke-opacity="0.85" stroke-width="0.42"/>
<polygon points="276.9,84.4 283.1,82.3 275.6,78.1 269.4,80.2" fill="#f47a31" stroke="#151510" stroke-opacity="0.85" stroke-width="0.42"/>
<polygon points="290.7,86.8 296.8,84.9 289.2,80.4 283.1,82.3" fill="#f19137" stroke="#151510" stroke-opacity="0.85" stroke-width="0.42"/>
<polygon points="110.4,90.1 117.6,85.7 111.1,84.5 103.9,88.8" fill="#ffbf41" stroke="#151510" stroke-opacity="0.85" stroke-width="0.42"/>
<polygon points="152.0,82.8 158.9,79.0 152.1,77.0 145.1,80.8" fill="#ff6e2e" stroke="#151510" stroke-opacity="0.85" stroke-width="0.42"/>
<polygon points="179.8,80.0 186.6,76.7 179.6,74.2 172.8,77.6" fill="#ff532d" stroke="#151510" stroke-opacity="0.85" stroke-width="0.42"/>
<polygon points="221.5,79.3 228.1,76.5 220.8,73.3 214.2,76.1" fill="#fd4a2d" stroke="#151510" stroke-opacity="0.85" stroke-width="0.42"/>
<polygon points="34.4,116.5 42.0,110.9 36.0,110.7 28.5,116.3" fill="#74ff50" stroke="#151510" stroke-opacity="0.85" stroke-width="0.42"/>
<polygon points="48.0,111.3 55.5,105.9 49.4,105.5 42.0,110.9" fill="#a0ff52" stroke="#151510" stroke-opacity="0.85" stroke-width="0.42"/>
<polygon points="61.7,106.5 69.2,101.3 63.0,100.7 55.5,105.9" fill="#c7ff54" stroke="#151510" stroke-opacity="0.85" stroke-width="0.42"/>
<polygon points="75.5,102.2 82.9,97.2 76.6,96.3 69.2,101.3" fill="#eaff56" stroke="#151510" stroke-opacity="0.85" stroke-width="0.42"/>
<polygon points="89.3,98.2 96.6,93.4 90.2,92.4 82.9,97.2" fill="#fff550" stroke="#151510" stroke-opacity="0.85" stroke-width="0.42"/>
<polygon points="103.1,94.7 110.4,90.1 103.9,88.8 96.6,93.4" fill="#ffd647" stroke="#151510" stroke-opacity="0.85" stroke-width="0.42"/>
<polygon points="117.0,91.6 124.2,87.2 117.6,85.7 110.4,90.1" fill="#ffb83f" stroke="#151510" stroke-opacity="0.85" stroke-width="0.42"/>
<polygon points="130.9,89.0 138.1,84.8 131.4,83.1 124.2,87.2" fill="#ff9c38" stroke="#151510" stroke-opacity="0.85" stroke-width="0.42"/>
<polygon points="144.9,86.8 152.0,82.8 145.1,80.8 138.1,84.8" fill="#ff8432" stroke="#151510" stroke-opacity="0.85" stroke-width="0.42"/>
<polygon points="158.9,85.0 165.9,81.2 158.9,79.0 152.0,82.8" fill="#ff6f2e" stroke="#151510" stroke-opacity="0.85" stroke-width="0.42"/>
<polygon points="172.8,83.7 179.8,80.0 172.8,77.6 165.9,81.2" fill="#ff622e" stroke="#151510" stroke-opacity="0.85" stroke-width="0.42"/>
<polygon points="186.8,82.8 193.7,79.3 186.6,76.7 179.8,80.0" fill="#ff592e" stroke="#151510" stroke-opacity="0.85" stroke-width="0.42"/>
<polygon points="200.8,82.3 207.6,79.1 200.4,76.2 193.7,79.3" fill="#ff542d" stroke="#151510" stroke-opacity="0.85" stroke-width="0.42"/>
<polygon points="214.8,82.3 221.5,79.3 214.2,76.1 207.6,79.1" fill="#fe532d" stroke="#151510" stroke-opacity="0.85" stroke-width="0.42"/>
<polygon points="228.8,82.7 235.4,79.9 228.1,76.5 221.5,79.3" fill="#fc572e" stroke="#151510" stroke-opacity="0.85" stroke-width="0.42"/>
<polygon points="242.8,83.6 249.2,81.0 241.9,77.3 235.4,79.9" fill="#f95e2e" stroke="#151510" stroke-opacity="0.85" stroke-width="0.42"/>
<polygon points="256.7,84.9 263.1,82.5 255.6,78.5 249.2,81.0" fill="#f76a2e" stroke="#151510" stroke-opacity="0.85" stroke-width="0.42"/>
<polygon points="270.6,86.7 276.9,84.4 269.4,80.2 263.1,82.5" fill="#f57c31" stroke="#151510" stroke-opacity="0.85" stroke-width="0.42"/>
<polygon points="284.5,88.9 290.7,86.8 283.1,82.3 276.9,84.4" fill="#f29237" stroke="#151510" stroke-opacity="0.85" stroke-width="0.42"/>
<polygon points="298.3,91.5 304.4,89.6 296.8,84.9 290.7,86.8" fill="#f0aa3e" stroke="#151510" stroke-opacity="0.85" stroke-width="0.42"/>
<polygon points="40.5,117.0 48.0,111.3 42.0,110.9 34.4,116.5" fill="#84ff51" stroke="#151510" stroke-opacity="0.85" stroke-width="0.42"/>
<polygon points="109.7,96.2 117.0,91.6 110.4,90.1 103.1,94.7" fill="#ffd045" stroke="#151510" stroke-opacity="0.85" stroke-width="0.42"/>
<polygon points="151.8,89.0 158.9,85.0 152.0,82.8 144.9,86.8" fill="#ff8533" stroke="#151510" stroke-opacity="0.85" stroke-width="0.42"/>
<polygon points="179.9,86.4 186.8,82.8 179.8,80.0 172.8,83.7" fill="#ff672e" stroke="#151510" stroke-opacity="0.85" stroke-width="0.42"/>
<polygon points="222.2,85.8 228.8,82.7 221.5,79.3 214.8,82.3" fill="#fc602e" stroke="#151510" stroke-opacity="0.85" stroke-width="0.42"/>
<polygon points="292.2,93.7 298.3,91.5 290.7,86.8 284.5,88.9" fill="#f1aa3e" stroke="#151510" stroke-opacity="0.85" stroke-width="0.42"/>
<polygon points="54.2,112.0 61.7,106.5 55.5,105.9 48.0,111.3" fill="#aeff53" stroke="#151510" stroke-opacity="0.85" stroke-width="0.42"/>
<polygon points="68.0,107.4 75.5,102.2 69.2,101.3 61.7,106.5" fill="#d3ff55" stroke="#151510" stroke-opacity="0.85" stroke-width="0.42"/>
<polygon points="81.9,103.2 89.3,98.2 82.9,97.2 75.5,102.2" fill="#f3ff56" stroke="#151510" stroke-opacity="0.85" stroke-width="0.42"/>
<polygon points="95.8,99.5 103.1,94.7 96.6,93.4 89.3,98.2" fill="#ffed4e" stroke="#151510" stroke-opacity="0.85" stroke-width="0.42"/>
<polygon points="123.7,93.4 130.9,89.0 124.2,87.2 117.0,91.6" fill="#ffb43e" stroke="#151510" stroke-opacity="0.85" stroke-width="0.42"/>
<polygon points="137.7,91.0 144.9,86.8 138.1,84.8 130.9,89.0" fill="#ff9a38" stroke="#151510" stroke-opacity="0.85" stroke-width="0.42"/>
<polygon points="165.9,87.5 172.8,83.7 165.9,81.2 158.9,85.0" fill="#ff732f" stroke="#151510" stroke-opacity="0.85" stroke-width="0.42"/>
<polygon points="194.0,85.7 200.8,82.3 193.7,79.3 186.8,82.8" fill="#ff612e" stroke="#151510" stroke-opacity="0.85" stroke-width="0.42"/>
<polygon points="208.1,85.5 214.8,82.3 207.6,79.1 200.8,82.3" fill="#fe5e2e" stroke="#151510" stroke-opacity="0.85" stroke-width="0.42"/>
<polygon points="236.2,86.5 242.8,83.6 235.4,79.9 228.8,82.7" fill="#fa662e" stroke="#151510" stroke-opacity="0.85" stroke-width="0.42"/>
<polygon points="250.3,87.6 256.7,84.9 249.2,81.0 242.8,83.6" fill="#f8702e" stroke="#151510" stroke-opacity="0.85" stroke-width="0.42"/>
<polygon points="264.3,89.2 270.6,86.7 263.1,82.5 256.7,84.9" fill="#f58032" stroke="#151510" stroke-opacity="0.85" stroke-width="0.42"/>
<polygon points="278.2,91.2 284.5,88.9 276.9,84.4 270.6,86.7" fill="#f39437" stroke="#151510" stroke-opacity="0.85" stroke-width="0.42"/>
<polygon points="46.6,117.6 54.2,112.0 48.0,111.3 40.5,117.0" fill="#92ff51" stroke="#151510" stroke-opacity="0.85" stroke-width="0.42"/>
<polygon points="74.4,108.5 81.9,103.2 75.5,102.2 68.0,107.4" fill="#dcff55" stroke="#151510" stroke-opacity="0.85" stroke-width="0.42"/>
<polygon points="102.4,101.1 109.7,96.2 103.1,94.7 95.8,99.5" fill="#ffe74c" stroke="#151510" stroke-opacity="0.85" stroke-width="0.42"/>
<polygon points="116.4,98.0 123.7,93.4 117.0,91.6 109.7,96.2" fill="#ffcb44" stroke="#151510" stroke-opacity="0.85" stroke-width="0.42"/>
<polygon points="144.6,93.3 151.8,89.0 144.9,86.8 137.7,91.0" fill="#ff9b38" stroke="#151510" stroke-opacity="0.85" stroke-width="0.42"/>
<polygon points="158.8,91.5 165.9,87.5 158.9,85.0 151.8,89.0" fill="#ff8833" stroke="#151510" stroke-opacity="0.85" stroke-width="0.42"/>
<polygon points="172.9,90.2 179.9,86.4 172.8,83.7 165.9,87.5" fill="#ff7930" stroke="#151510" stroke-opacity="0.85" stroke-width="0.42"/>
<polygon points="187.1,89.4 194.0,85.7 186.8,82.8 179.9,86.4" fill="#ff6f2e" stroke="#151510" stroke-opacity="0.85" stroke-width="0.42"/>
<polygon points="215.4,89.1 222.2,85.8 214.8,82.3 208.1,85.5" fill="#fd6b2e" stroke="#151510" stroke-opacity="0.85" stroke-width="0.42"/>
<polygon points="229.6,89.6 236.2,86.5 228.8,82.7 222.2,85.8" fill="#fb6f2e" stroke="#151510" stroke-opacity="0.85" stroke-width="0.42"/>
<polygon points="257.8,91.9 264.3,89.2 256.7,84.9 250.3,87.6" fill="#f68634" stroke="#151510" stroke-opacity="0.85" stroke-width="0.42"/>
<polygon points="285.9,96.0 292.2,93.7 284.5,88.9 278.2,91.2" fill="#f2ac3e" stroke="#151510" stroke-opacity="0.85" stroke-width="0.42"/>
<polygon points="60.5,112.9 68.0,107.4 61.7,106.5 54.2,112.0" fill="#b9ff53" stroke="#151510" stroke-opacity="0.85" stroke-width="0.42"/>
<polygon points="88.3,104.6 95.8,99.5 89.3,98.2 81.9,103.2" fill="#fbff55" stroke="#151510" stroke-opacity="0.85" stroke-width="0.42"/>
<polygon points="130.5,95.4 137.7,91.0 130.9,89.0 123.7,93.4" fill="#ffb23d" stroke="#151510" stroke-opacity="0.85" stroke-width="0.42"/>
<polygon points="201.3,89.0 208.1,85.5 200.8,82.3 194.0,85.7" fill="#ff6b2e" stroke="#151510" stroke-opacity="0.85" stroke-width="0.42"/>
<polygon points="243.7,90.5 250.3,87.6 242.8,83.6 236.2,86.5" fill="#f97830" stroke="#151510" stroke-opacity="0.85" stroke-width="0.42"/>
<polygon points="271.9,93.7 278.2,91.2 270.6,86.7 264.3,89.2" fill="#f49838" stroke="#151510" stroke-opacity="0.85" stroke-width="0.42"/>
<polygon points="66.8,114.0 74.4,108.5 68.0,107.4 60.5,112.9" fill="#c3ff54" stroke="#151510" stroke-opacity="0.85" stroke-width="0.42"/>
<polygon points="94.9,106.2 102.4,101.1 95.8,99.5 88.3,104.6" fill="#fffe53" stroke="#151510" stroke-opacity="0.85" stroke-width="0.42"/>
<polygon points="165.9,94.3 172.9,90.2 165.9,87.5 158.8,91.5" fill="#ff8e35" stroke="#151510" stroke-opacity="0.85" stroke-width="0.42"/>
<polygon points="237.1,93.6 243.7,90.5 236.2,86.5 229.6,89.6" fill="#f98233" stroke="#151510" stroke-opacity="0.85" stroke-width="0.42"/>
<polygon points="265.4,96.5 271.9,93.7 264.3,89.2 257.8,91.9" fill="#f59d3a" stroke="#151510" stroke-opacity="0.85" stroke-width="0.42"/>
<polygon points="52.8,118.6 60.5,112.9 54.2,112.0 46.6,117.6" fill="#9eff52" stroke="#151510" stroke-opacity="0.85" stroke-width="0.42"/>
<polygon points="80.8,109.9 88.3,104.6 81.9,103.2 74.4,108.5" fill="#e4ff55" stroke="#151510" stroke-opacity="0.85" stroke-width="0.42"/>
<polygon points="109.0,102.9 116.4,98.0 109.7,96.2 102.4,101.1" fill="#ffe34b" stroke="#151510" stroke-opacity="0.85" stroke-width="0.42"/>
<polygon points="123.2,100.1 130.5,95.4 123.7,93.4 116.4,98.0" fill="#ffc944" stroke="#151510" stroke-opacity="0.85" stroke-width="0.42"/>
<polygon points="137.4,97.7 144.6,93.3 137.7,91.0 130.5,95.4" fill="#ffb23e" stroke="#151510" stroke-opacity="0.85" stroke-width="0.42"/>
<polygon points="151.6,95.8 158.8,91.5 151.8,89.0 144.6,93.3" fill="#ff9e39" stroke="#151510" stroke-opacity="0.85" stroke-width="0.42"/>
<polygon points="180.1,93.3 187.1,89.4 179.9,86.4 172.9,90.2" fill="#ff8232" stroke="#151510" stroke-opacity="0.85" stroke-width="0.42"/>
<polygon points="194.4,92.7 201.3,89.0 194.0,85.7 187.1,89.4" fill="#ff7b30" stroke="#151510" stroke-opacity="0.85" stroke-width="0.42"/>
<polygon points="208.6,92.6 215.4,89.1 208.1,85.5 201.3,89.0" fill="#fd7930" stroke="#151510" stroke-opacity="0.85" stroke-width="0.42"/>
<polygon points="222.8,92.9 229.6,89.6 222.2,85.8 215.4,89.1" fill="#fb7b31" stroke="#151510" stroke-opacity="0.85" stroke-width="0.42"/>
<polygon points="251.3,94.8 257.8,91.9 250.3,87.6 243.7,90.5" fill="#f78e36" stroke="#151510" stroke-opacity="0.85" stroke-width="0.42"/>
<polygon points="279.6,98.6 285.9,96.0 278.2,91.2 271.9,93.7" fill="#f3b03f" stroke="#151510" stroke-opacity="0.85" stroke-width="0.42"/>
<polygon points="59.2,119.7 66.8,114.0 60.5,112.9 52.8,118.6" fill="#a8ff52" stroke="#151510" stroke-opacity="0.85" stroke-width="0.42"/>
<polygon points="73.3,115.4 80.8,109.9 74.4,108.5 66.8,114.0" fill="#cbff54" stroke="#151510" stroke-opacity="0.85" stroke-width="0.42"/>
<polygon points="87.4,111.5 94.9,106.2 88.3,104.6 80.8,109.9" fill="#e9ff56" stroke="#151510" stroke-opacity="0.85" stroke-width="0.42"/>
<polygon points="101.6,108.0 109.0,102.9 102.4,101.1 94.9,106.2" fill="#fffa52" stroke="#151510" stroke-opacity="0.85" stroke-width="0.42"/>
<polygon points="130.1,102.5 137.4,97.7 130.5,95.4 123.2,100.1" fill="#ffca44" stroke="#151510" stroke-opacity="0.85" stroke-width="0.42"/>
<polygon points="158.7,98.6 165.9,94.3 158.8,91.5 151.6,95.8" fill="#ffa43a" stroke="#151510" stroke-opacity="0.85" stroke-width="0.42"/>
<polygon points="173.0,97.4 180.1,93.3 172.9,90.2 165.9,94.3" fill="#ff9737" stroke="#151510" stroke-opacity="0.85" stroke-width="0.42"/>
<polygon points="201.7,96.3 208.6,92.6 201.3,89.0 194.4,92.7" fill="#fe8934" stroke="#151510" stroke-opacity="0.85" stroke-width="0.42"/>
<polygon points="230.3,97.0 237.1,93.6 229.6,89.6 222.8,92.9" fill="#fa8e35" stroke="#151510" stroke-opacity="0.85" stroke-width="0.42"/>
<polygon points="244.6,98.0 251.3,94.8 243.7,90.5 237.1,93.6" fill="#f89738" stroke="#151510" stroke-opacity="0.85" stroke-width="0.42"/>
<polygon points="258.9,99.4 265.4,96.5 257.8,91.9 251.3,94.8" fill="#f6a53b" stroke="#151510" stroke-opacity="0.85" stroke-width="0.42"/>
<polygon points="273.2,101.4 279.6,98.6 271.9,93.7 265.4,96.5" fill="#f3b540" stroke="#151510" stroke-opacity="0.85" stroke-width="0.42"/>
<polygon points="115.8,105.0 123.2,100.1 116.4,98.0 109.0,102.9" fill="#ffe14a" stroke="#151510" stroke-opacity="0.85" stroke-width="0.42"/>
<polygon points="144.4,100.3 151.6,95.8 144.6,93.3 137.4,97.7" fill="#ffb53e" stroke="#151510" stroke-opacity="0.85" stroke-width="0.42"/>
<polygon points="187.4,96.6 194.4,92.7 187.1,89.4 180.1,93.3" fill="#ff8e35" stroke="#151510" stroke-opacity="0.85" stroke-width="0.42"/>
<polygon points="216.0,96.4 222.8,92.9 215.4,89.1 208.6,92.6" fill="#fc8a34" stroke="#151510" stroke-opacity="0.85" stroke-width="0.42"/>
<polygon points="65.6,121.2 73.3,115.4 66.8,114.0 59.2,119.7" fill="#b0ff53" stroke="#151510" stroke-opacity="0.85" stroke-width="0.42"/>
<polygon points="79.8,117.1 87.4,111.5 80.8,109.9 73.3,115.4" fill="#d0ff55" stroke="#151510" stroke-opacity="0.85" stroke-width="0.42"/>
<polygon points="94.1,113.4 101.6,108.0 94.9,106.2 87.4,111.5" fill="#edff56" stroke="#151510" stroke-opacity="0.85" stroke-width="0.42"/>
<polygon points="108.4,110.2 115.8,105.0 109.0,102.9 101.6,108.0" fill="#fff852" stroke="#151510" stroke-opacity="0.85" stroke-width="0.42"/>
<polygon points="122.7,107.4 130.1,102.5 123.2,100.1 115.8,105.0" fill="#ffe14a" stroke="#151510" stroke-opacity="0.85" stroke-width="0.42"/>
<polygon points="137.1,105.1 144.4,100.3 137.4,97.7 130.1,102.5" fill="#ffcc44" stroke="#151510" stroke-opacity="0.85" stroke-width="0.42"/>
<polygon points="151.5,103.2 158.7,98.6 151.6,95.8 144.4,100.3" fill="#ffba40" stroke="#151510" stroke-opacity="0.85" stroke-width="0.42"/>
<polygon points="165.9,101.7 173.0,97.4 165.9,94.3 158.7,98.6" fill="#ffac3c" stroke="#151510" stroke-opacity="0.85" stroke-width="0.42"/>
<polygon points="180.3,100.8 187.4,96.6 180.1,93.3 173.0,97.4" fill="#ffa139" stroke="#151510" stroke-opacity="0.85" stroke-width="0.42"/>
<polygon points="194.7,100.2 201.7,96.3 194.4,92.7 187.4,96.6" fill="#fe9b38" stroke="#151510" stroke-opacity="0.85" stroke-width="0.42"/>
<polygon points="209.1,100.1 216.0,96.4 208.6,92.6 201.7,96.3" fill="#fd9938" stroke="#151510" stroke-opacity="0.85" stroke-width="0.42"/>
<polygon points="223.5,100.5 230.3,97.0 222.8,92.9 216.0,96.4" fill="#fb9c39" stroke="#151510" stroke-opacity="0.85" stroke-width="0.42"/>
<polygon points="237.9,101.3 244.6,98.0 237.1,93.6 230.3,97.0" fill="#f9a33b" stroke="#151510" stroke-opacity="0.85" stroke-width="0.42"/>
<polygon points="252.3,102.6 258.9,99.4 251.3,94.8 244.6,98.0" fill="#f6ad3e" stroke="#151510" stroke-opacity="0.85" stroke-width="0.42"/>
<polygon points="266.6,104.3 273.2,101.4 265.4,96.5 258.9,99.4" fill="#f4bc42" stroke="#151510" stroke-opacity="0.85" stroke-width="0.42"/>
<polygon points="72.1,122.9 79.8,117.1 73.3,115.4 65.6,121.2" fill="#b6ff53" stroke="#151510" stroke-opacity="0.85" stroke-width="0.42"/>
<polygon points="144.1,107.9 151.5,103.2 144.4,100.3 137.1,105.1" fill="#ffd146" stroke="#151510" stroke-opacity="0.85" stroke-width="0.42"/>
<polygon points="187.6,104.4 194.7,100.2 187.4,96.6 180.3,100.8" fill="#ffae3d" stroke="#151510" stroke-opacity="0.85" stroke-width="0.42"/>
<polygon points="260.0,107.6 266.6,104.3 258.9,99.4 252.3,102.6" fill="#f5c444" stroke="#151510" stroke-opacity="0.85" stroke-width="0.42"/>
<polygon points="86.5,119.0 94.1,113.4 87.4,111.5 79.8,117.1" fill="#d4ff55" stroke="#151510" stroke-opacity="0.85" stroke-width="0.42"/>
<polygon points="100.8,115.6 108.4,110.2 101.6,108.0 94.1,113.4" fill="#efff56" stroke="#151510" stroke-opacity="0.85" stroke-width="0.42"/>
<polygon points="115.2,112.6 122.7,107.4 115.8,105.0 108.4,110.2" fill="#fff852" stroke="#151510" stroke-opacity="0.85" stroke-width="0.42"/>
<polygon points="129.7,110.0 137.1,105.1 130.1,102.5 122.7,107.4" fill="#ffe34b" stroke="#151510" stroke-opacity="0.85" stroke-width="0.42"/>
<polygon points="158.6,106.3 165.9,101.7 158.7,98.6 151.5,103.2" fill="#ffc242" stroke="#151510" stroke-opacity="0.85" stroke-width="0.42"/>
<polygon points="173.1,105.1 180.3,100.8 173.0,97.4 165.9,101.7" fill="#ffb63f" stroke="#151510" stroke-opacity="0.85" stroke-width="0.42"/>
<polygon points="202.1,104.1 209.1,100.1 201.7,96.3 194.7,100.2" fill="#fdaa3c" stroke="#151510" stroke-opacity="0.85" stroke-width="0.42"/>
<polygon points="216.6,104.3 223.5,100.5 216.0,96.4 209.1,100.1" fill="#fbab3c" stroke="#151510" stroke-opacity="0.85" stroke-width="0.42"/>
<polygon points="231.1,104.9 237.9,101.3 230.3,97.0 223.5,100.5" fill="#f9af3e" stroke="#151510" stroke-opacity="0.85" stroke-width="0.42"/>
<polygon points="245.6,106.0 252.3,102.6 244.6,98.0 237.9,101.3" fill="#f7b840" stroke="#151510" stroke-opacity="0.85" stroke-width="0.42"/>
<polygon points="78.8,124.8 86.5,119.0 79.8,117.1 72.1,122.9" fill="#baff53" stroke="#151510" stroke-opacity="0.85" stroke-width="0.42"/>
<polygon points="107.7,118.0 115.2,112.6 108.4,110.2 100.8,115.6" fill="#efff56" stroke="#151510" stroke-opacity="0.85" stroke-width="0.42"/>
<polygon points="136.7,113.0 144.1,107.9 137.1,105.1 129.7,110.0" fill="#ffe84c" stroke="#151510" stroke-opacity="0.85" stroke-width="0.42"/>
<polygon points="151.3,111.1 158.6,106.3 151.5,103.2 144.1,107.9" fill="#ffd848" stroke="#151510" stroke-opacity="0.85" stroke-width="0.42"/>
<polygon points="180.5,108.8 187.6,104.4 180.3,100.8 173.1,105.1" fill="#ffc242" stroke="#151510" stroke-opacity="0.85" stroke-width="0.42"/>
<polygon points="195.1,108.3 202.1,104.1 194.7,100.2 187.6,104.4" fill="#fdbc40" stroke="#151510" stroke-opacity="0.85" stroke-width="0.42"/>
<polygon points="224.2,108.8 231.1,104.9 223.5,100.5 216.6,104.3" fill="#fabd41" stroke="#151510" stroke-opacity="0.85" stroke-width="0.42"/>
<polygon points="253.3,111.0 260.0,107.6 252.3,102.6 245.6,106.0" fill="#f6ce47" stroke="#151510" stroke-opacity="0.85" stroke-width="0.42"/>
<polygon points="93.2,121.2 100.8,115.6 94.1,113.4 86.5,119.0" fill="#d6ff55" stroke="#151510" stroke-opacity="0.85" stroke-width="0.42"/>
<polygon points="122.2,115.3 129.7,110.0 122.7,107.4 115.2,112.6" fill="#fffa52" stroke="#151510" stroke-opacity="0.85" stroke-width="0.42"/>
<polygon points="165.9,109.7 173.1,105.1 165.9,101.7 158.6,106.3" fill="#ffcb44" stroke="#151510" stroke-opacity="0.85" stroke-width="0.42"/>
<polygon points="209.7,108.3 216.6,104.3 209.1,100.1 202.1,104.1" fill="#fcbb40" stroke="#151510" stroke-opacity="0.85" stroke-width="0.42"/>
<polygon points="238.8,109.6 245.6,106.0 237.9,101.3 231.1,104.9" fill="#f8c444" stroke="#151510" stroke-opacity="0.85" stroke-width="0.42"/>
<polygon points="100.0,123.7 107.7,118.0 100.8,115.6 93.2,121.2" fill="#d7ff55" stroke="#151510" stroke-opacity="0.85" stroke-width="0.42"/>
<polygon points="129.2,118.2 136.7,113.0 129.7,110.0 122.2,115.3" fill="#fffe53" stroke="#151510" stroke-opacity="0.85" stroke-width="0.42"/>
<polygon points="202.6,112.6 209.7,108.3 202.1,104.1 195.1,108.3" fill="#fccc45" stroke="#151510" stroke-opacity="0.85" stroke-width="0.42"/>
<polygon points="231.9,113.5 238.8,109.6 231.1,104.9 224.2,108.8" fill="#f8d147" stroke="#151510" stroke-opacity="0.85" stroke-width="0.42"/>
<polygon points="85.5,127.1 93.2,121.2 86.5,119.0 78.8,124.8" fill="#bcff53" stroke="#151510" stroke-opacity="0.85" stroke-width="0.42"/>
<polygon points="114.6,120.7 122.2,115.3 115.2,112.6 107.7,118.0" fill="#edff56" stroke="#151510" stroke-opacity="0.85" stroke-width="0.42"/>
<polygon points="143.9,116.2 151.3,111.1 144.1,107.9 136.7,113.0" fill="#ffee4e" stroke="#151510" stroke-opacity="0.85" stroke-width="0.42"/>
<polygon points="158.5,114.6 165.9,109.7 158.6,106.3 151.3,111.1" fill="#ffe14a" stroke="#151510" stroke-opacity="0.85" stroke-width="0.42"/>
<polygon points="173.2,113.5 180.5,108.8 173.1,105.1 165.9,109.7" fill="#ffd747" stroke="#151510" stroke-opacity="0.85" stroke-width="0.42"/>
<polygon points="187.9,112.8 195.1,108.3 187.6,104.4 180.5,108.8" fill="#fecf46" stroke="#151510" stroke-opacity="0.85" stroke-width="0.42"/>
<polygon points="217.3,112.8 224.2,108.8 216.6,104.3 209.7,108.3" fill="#facc45" stroke="#151510" stroke-opacity="0.85" stroke-width="0.42"/>
<polygon points="246.6,114.7 253.3,111.0 245.6,106.0 238.8,109.6" fill="#f6d94a" stroke="#151510" stroke-opacity="0.85" stroke-width="0.42"/>
<polygon points="92.3,129.6 100.0,123.7 93.2,121.2 85.5,127.1" fill="#bcff53" stroke="#151510" stroke-opacity="0.85" stroke-width="0.42"/>
<polygon points="107.0,126.4 114.6,120.7 107.7,118.0 100.0,123.7" fill="#d5ff55" stroke="#151510" stroke-opacity="0.85" stroke-width="0.42"/>
<polygon points="121.6,123.7 129.2,118.2 122.2,115.3 114.6,120.7" fill="#e9ff56" stroke="#151510" stroke-opacity="0.85" stroke-width="0.42"/>
<polygon points="136.4,121.5 143.9,116.2 136.7,113.0 129.2,118.2" fill="#faff55" stroke="#151510" stroke-opacity="0.85" stroke-width="0.42"/>
<polygon points="165.9,118.3 173.2,113.5 165.9,109.7 158.5,114.6" fill="#ffeb4d" stroke="#151510" stroke-opacity="0.85" stroke-width="0.42"/>
<polygon points="195.4,117.0 202.6,112.6 195.1,108.3 187.9,112.8" fill="#fcde4a" stroke="#151510" stroke-opacity="0.85" stroke-width="0.42"/>
<polygon points="210.2,117.1 217.3,112.8 209.7,108.3 202.6,112.6" fill="#fbdc4a" stroke="#151510" stroke-opacity="0.85" stroke-width="0.42"/>
<polygon points="224.9,117.6 231.9,113.5 224.2,108.8 217.3,112.8" fill="#f9df4b" stroke="#151510" stroke-opacity="0.85" stroke-width="0.42"/>
<polygon points="239.7,118.6 246.6,114.7 238.8,109.6 231.9,113.5" fill="#f7e54e" stroke="#151510" stroke-opacity="0.85" stroke-width="0.42"/>
<polygon points="151.1,119.7 158.5,114.6 151.3,111.1 143.9,116.2" fill="#fff651" stroke="#151510" stroke-opacity="0.85" stroke-width="0.42"/>
<polygon points="180.6,117.5 187.9,112.8 180.5,108.8 173.2,113.5" fill="#fee34b" stroke="#151510" stroke-opacity="0.85" stroke-width="0.42"/>
<polygon points="99.2,132.4 107.0,126.4 100.0,123.7 92.3,129.6" fill="#bbff53" stroke="#151510" stroke-opacity="0.85" stroke-width="0.42"/>
<polygon points="114.0,129.5 121.6,123.7 114.6,120.7 107.0,126.4" fill="#d1ff55" stroke="#151510" stroke-opacity="0.85" stroke-width="0.42"/>
<polygon points="128.8,127.0 136.4,121.5 129.2,118.2 121.6,123.7" fill="#e4ff56" stroke="#151510" stroke-opacity="0.85" stroke-width="0.42"/>
<polygon points="158.4,123.5 165.9,118.3 158.5,114.6 151.1,119.7" fill="#feff54" stroke="#151510" stroke-opacity="0.85" stroke-width="0.42"/>
<polygon points="173.3,122.4 180.6,117.5 173.2,113.5 165.9,118.3" fill="#fef651" stroke="#151510" stroke-opacity="0.85" stroke-width="0.42"/>
<polygon points="203.0,121.6 210.2,117.1 202.6,112.6 195.4,117.0" fill="#fbed4f" stroke="#151510" stroke-opacity="0.85" stroke-width="0.42"/>
<polygon points="217.9,121.9 224.9,117.6 217.3,112.8 210.2,117.1" fill="#f9ee50" stroke="#151510" stroke-opacity="0.85" stroke-width="0.42"/>
<polygon points="232.7,122.7 239.7,118.6 231.9,113.5 224.9,117.6" fill="#f8f152" stroke="#151510" stroke-opacity="0.85" stroke-width="0.42"/>
<polygon points="143.6,125.0 151.1,119.7 143.9,116.2 136.4,121.5" fill="#f3ff56" stroke="#151510" stroke-opacity="0.85" stroke-width="0.42"/>
<polygon points="188.2,121.8 195.4,117.0 187.9,112.8 180.6,117.5" fill="#fdf050" stroke="#151510" stroke-opacity="0.85" stroke-width="0.42"/>
<polygon points="106.2,135.5 114.0,129.5 107.0,126.4 99.2,132.4" fill="#b7ff53" stroke="#151510" stroke-opacity="0.85" stroke-width="0.42"/>
<polygon points="225.7,127.1 232.7,122.7 224.9,117.6 217.9,121.9" fill="#f1f856" stroke="#151510" stroke-opacity="0.85" stroke-width="0.42"/>
<polygon points="121.1,132.8 128.8,127.0 121.6,123.7 114.0,129.5" fill="#ccff54" stroke="#151510" stroke-opacity="0.85" stroke-width="0.42"/>
<polygon points="150.9,128.8 158.4,123.5 151.1,119.7 143.6,125.0" fill="#eaff56" stroke="#151510" stroke-opacity="0.85" stroke-width="0.42"/>
<polygon points="165.9,127.6 173.3,122.4 165.9,118.3 158.4,123.5" fill="#f2fe56" stroke="#151510" stroke-opacity="0.85" stroke-width="0.42"/>
<polygon points="180.8,126.7 188.2,121.8 180.6,117.5 173.3,122.4" fill="#f7fd56" stroke="#151510" stroke-opacity="0.85" stroke-width="0.42"/>
<polygon points="210.7,126.5 217.9,121.9 210.2,117.1 203.0,121.6" fill="#f7fa55" stroke="#151510" stroke-opacity="0.85" stroke-width="0.42"/>
<polygon points="136.0,130.6 143.6,125.0 136.4,121.5 128.8,127.0" fill="#ddff55" stroke="#151510" stroke-opacity="0.85" stroke-width="0.42"/>
<polygon points="195.8,126.4 203.0,121.6 195.4,117.0 188.2,121.8" fill="#f9fb55" stroke="#151510" stroke-opacity="0.85" stroke-width="0.42"/>
<polygon points="113.4,138.9 121.1,132.8 114.0,129.5 106.2,135.5" fill="#b2ff53" stroke="#151510" stroke-opacity="0.85" stroke-width="0.42"/>
<polygon points="143.3,134.5 150.9,128.8 143.6,125.0 136.0,130.6" fill="#d3ff55" stroke="#151510" stroke-opacity="0.85" stroke-width="0.42"/>
<polygon points="158.4,133.0 165.9,127.6 158.4,123.5 150.9,128.8" fill="#defe55" stroke="#151510" stroke-opacity="0.85" stroke-width="0.42"/>
<polygon points="173.4,132.0 180.8,126.7 173.3,122.4 165.9,127.6" fill="#e5fd56" stroke="#151510" stroke-opacity="0.85" stroke-width="0.42"/>
<polygon points="188.4,131.4 195.8,126.4 188.2,121.8 180.8,126.7" fill="#e8fc56" stroke="#151510" stroke-opacity="0.85" stroke-width="0.42"/>
<polygon points="218.5,131.7 225.7,127.1 217.9,121.9 210.7,126.5" fill="#e3f856" stroke="#151510" stroke-opacity="0.85" stroke-width="0.42"/>
<polygon points="128.3,136.4 136.0,130.6 128.8,127.0 121.1,132.8" fill="#c4ff54" stroke="#151510" stroke-opacity="0.85" stroke-width="0.42"/>
<polygon points="203.5,131.3 210.7,126.5 203.0,121.6 195.8,126.4" fill="#e7fa56" stroke="#151510" stroke-opacity="0.85" stroke-width="0.42"/>
<polygon points="135.6,140.4 143.3,134.5 136.0,130.6 128.3,136.4" fill="#bbff53" stroke="#151510" stroke-opacity="0.85" stroke-width="0.42"/>
<polygon points="196.1,136.4 203.5,131.3 195.8,126.4 188.4,131.4" fill="#d6fa55" stroke="#151510" stroke-opacity="0.85" stroke-width="0.42"/>
<polygon points="120.6,142.5 128.3,136.4 121.1,132.8 113.4,138.9" fill="#aaff53" stroke="#151510" stroke-opacity="0.85" stroke-width="0.42"/>
<polygon points="150.8,138.7 158.4,133.0 150.9,128.8 143.3,134.5" fill="#c7fe54" stroke="#151510" stroke-opacity="0.85" stroke-width="0.42"/>
<polygon points="165.9,137.4 173.4,132.0 165.9,127.6 158.4,133.0" fill="#d0fd55" stroke="#151510" stroke-opacity="0.85" stroke-width="0.42"/>
<polygon points="181.0,136.7 188.4,131.4 180.8,126.7 173.4,132.0" fill="#d5fc55" stroke="#151510" stroke-opacity="0.85" stroke-width="0.42"/>
<polygon points="211.3,136.6 218.5,131.7 210.7,126.5 203.5,131.3" fill="#d4f955" stroke="#151510" stroke-opacity="0.85" stroke-width="0.42"/>
<polygon points="127.9,146.5 135.6,140.4 128.3,136.4 120.6,142.5" fill="#a1ff52" stroke="#151510" stroke-opacity="0.85" stroke-width="0.42"/>
<polygon points="143.1,144.6 150.8,138.7 143.3,134.5 135.6,140.4" fill="#affe53" stroke="#151510" stroke-opacity="0.85" stroke-width="0.42"/>
<polygon points="188.7,141.7 196.1,136.4 188.4,131.4 181.0,136.7" fill="#c3fa54" stroke="#151510" stroke-opacity="0.85" stroke-width="0.42"/>
<polygon points="203.9,141.7 211.3,136.6 203.5,131.3 196.1,136.4" fill="#c3f954" stroke="#151510" stroke-opacity="0.85" stroke-width="0.42"/>
<polygon points="158.3,143.2 165.9,137.4 158.4,133.0 150.8,138.7" fill="#bafd53" stroke="#151510" stroke-opacity="0.85" stroke-width="0.42"/>
<polygon points="173.5,142.2 181.0,136.7 173.4,132.0 165.9,137.4" fill="#c0fc54" stroke="#151510" stroke-opacity="0.85" stroke-width="0.42"/>
<polygon points="135.3,150.8 143.1,144.6 135.6,140.4 127.9,146.5" fill="#95fe52" stroke="#151510" stroke-opacity="0.85" stroke-width="0.42"/>
<polygon points="150.6,149.1 158.3,143.2 150.8,138.7 143.1,144.6" fill="#a1fd52" stroke="#151510" stroke-opacity="0.85" stroke-width="0.42"/>
<polygon points="165.9,148.0 173.5,142.2 165.9,137.4 158.3,143.2" fill="#aafc53" stroke="#151510" stroke-opacity="0.85" stroke-width="0.42"/>
<polygon points="181.2,147.3 188.7,141.7 181.0,136.7 173.5,142.2" fill="#affa53" stroke="#151510" stroke-opacity="0.85" stroke-width="0.42"/>
<polygon points="196.5,147.0 203.9,141.7 196.1,136.4 188.7,141.7" fill="#b0f953" stroke="#151510" stroke-opacity="0.85" stroke-width="0.42"/>
<polygon points="158.2,154.0 165.9,148.0 158.3,143.2 150.6,149.1" fill="#92fb51" stroke="#151510" stroke-opacity="0.85" stroke-width="0.42"/>
<polygon points="173.6,153.1 181.2,147.3 173.5,142.2 165.9,148.0" fill="#98fa52" stroke="#151510" stroke-opacity="0.85" stroke-width="0.42"/>
<polygon points="142.8,155.4 150.6,149.1 143.1,144.6 135.3,150.8" fill="#87fd51" stroke="#151510" stroke-opacity="0.85" stroke-width="0.42"/>
<polygon points="189.0,152.6 196.5,147.0 188.7,141.7 181.2,147.3" fill="#9bf952" stroke="#151510" stroke-opacity="0.85" stroke-width="0.42"/>
<polygon points="165.9,159.2 173.6,153.1 165.9,148.0 158.2,154.0" fill="#80fa51" stroke="#151510" stroke-opacity="0.85" stroke-width="0.42"/>
<polygon points="150.4,160.3 158.2,154.0 150.6,149.1 142.8,155.4" fill="#78fb50" stroke="#151510" stroke-opacity="0.85" stroke-width="0.42"/>
<polygon points="181.4,158.5 189.0,152.6 181.2,147.3 173.6,153.1" fill="#85f951" stroke="#151510" stroke-opacity="0.85" stroke-width="0.42"/>
<polygon points="158.1,165.5 165.9,159.2 158.2,154.0 150.4,160.3" fill="#66fa4f" stroke="#151510" stroke-opacity="0.85" stroke-width="0.42"/>
<polygon points="173.7,164.7 181.4,158.5 173.6,153.1 165.9,159.2" fill="#6df950" stroke="#151510" stroke-opacity="0.85" stroke-width="0.42"/>
<polygon points="165.9,171.1 173.7,164.7 165.9,159.2 158.1,165.5" fill="#55f950" stroke="#151510" stroke-opacity="0.85" stroke-width="0.42"/>
<circle cx="28.5" cy="116.3" r="2.7" fill="#f6c9c9" stroke="#b88" stroke-width="0.5"/>
<circle cx="165.9" cy="171.1" r="2.7" fill="#a8100c" stroke="#7a0a08" stroke-width="0.4"/>
<circle cx="304.4" cy="89.6" r="2.7" fill="#a8100c" stroke="#7a0a08" stroke-width="0.4"/>
<circle cx="165.9" cy="81.2" r="2.7" fill="#a8100c" stroke="#7a0a08" stroke-width="0.4"/>
</g>
<text x="22.1" y="41.6" font-size="5.4" text-anchor="end" fill="#262626"  textLength="7.6" lengthAdjust="spacingAndGlyphs">120</text>
<text x="23.4" y="69.1" font-size="5.4" text-anchor="end" fill="#262626"  textLength="7.6" lengthAdjust="spacingAndGlyphs">100</text>
<text x="24.6" y="96.7" font-size="5.4" text-anchor="end" fill="#262626"  textLength="5.0" lengthAdjust="spacingAndGlyphs">80</text>
<text x="25.9" y="124.2" font-size="5.4" text-anchor="end" fill="#262626"  textLength="5.0" lengthAdjust="spacingAndGlyphs">60</text>
<text x="27.2" y="151.7" font-size="5.4" text-anchor="end" fill="#262626"  textLength="5.0" lengthAdjust="spacingAndGlyphs">40</text>
<text x="28.4" y="179.2" font-size="5.4" text-anchor="end" fill="#262626"  textLength="5.0" lengthAdjust="spacingAndGlyphs">20</text>
<text x="30.6" y="229.0" font-size="5.4" text-anchor="end" fill="#262626"  textLength="5.0" lengthAdjust="spacingAndGlyphs">30</text>
<text x="57.1" y="241.7" font-size="5.4" text-anchor="end" fill="#262626"  textLength="8.8" lengthAdjust="spacingAndGlyphs">24.2</text>
<text x="83.5" y="254.5" font-size="5.4" text-anchor="end" fill="#262626"  textLength="8.8" lengthAdjust="spacingAndGlyphs">18.4</text>
<text x="110.0" y="267.2" font-size="5.4" text-anchor="end" fill="#262626"  textLength="8.8" lengthAdjust="spacingAndGlyphs">12.6</text>
<text x="136.4" y="280.0" font-size="5.4" text-anchor="end" fill="#262626"  textLength="6.3" lengthAdjust="spacingAndGlyphs">6.8</text>
<text x="162.9" y="292.7" font-size="5.4" text-anchor="end" fill="#262626" >1</text>
<text x="168.3" y="292.7" font-size="5.4" text-anchor="start" fill="#262626" >2</text>
<text x="201.2" y="276.8" font-size="5.4" text-anchor="start" fill="#262626" >3</text>
<text x="234.2" y="260.8" font-size="5.4" text-anchor="start" fill="#262626" >4</text>
<text x="267.2" y="244.9" font-size="5.4" text-anchor="start" fill="#262626" >5</text>
<text x="300.1" y="229.0" font-size="5.4" text-anchor="start" fill="#262626" >6</text>
<text x="74.6" y="267.0" font-size="6.0" text-anchor="middle" fill="#262626"  textLength="32.6" lengthAdjust="spacingAndGlyphs">B: Time (min)</text>
<text x="255.2" y="267.3" font-size="6.0" text-anchor="middle" fill="#262626"  textLength="45.7" lengthAdjust="spacingAndGlyphs">A: NSM dose (g/L)</text>
<text x="8.7" y="136.0" font-size="5.9" text-anchor="middle" fill="#262626" transform="rotate(-90 8.7 136.0)"  textLength="57.0" lengthAdjust="spacingAndGlyphs">Cu2+ ions removal (%)</text>
<defs><linearGradient id="lg1" x1="0" x2="0" y1="1" y2="0"><stop offset="0" stop-color="#0000f0"/><stop offset="0.12" stop-color="#0010e0"/><stop offset="0.5" stop-color="#00d818"/><stop offset="0.9" stop-color="#e01000"/><stop offset="1" stop-color="#d80000"/></linearGradient></defs>
<rect x="12" y="126.4" width="6.8" height="20.1" fill="url(#lg1)"/>
<text x="17.2" y="151.8" font-size="5.3" text-anchor="end" fill="#2a2aa0" transform="rotate(-90 17.2 151.8)"  textLength="9.2" lengthAdjust="spacingAndGlyphs">38.6</text>
<text x="17.2" y="124.0" font-size="5.3" text-anchor="start" fill="#b02020" transform="rotate(-90 17.2 124.0)"  textLength="12.6" lengthAdjust="spacingAndGlyphs">97.48</text>
<g stroke-linejoin="round" stroke-linecap="round">
<path d="M33.9 392.6L40.2 521.5M66.8 385.1L71.5 510.7M99.8 377.6L102.9 499.9M132.8 370.2L134.3 489.1M165.7 362.7L165.7 478.3M192.0 368.7L190.8 486.9M218.4 374.7L215.8 495.6M244.7 380.6L240.9 504.2M271.1 386.6L266.0 512.8M297.4 392.6L291.1 521.5M33.9 392.6L165.7 362.7M165.7 362.7L297.4 392.6M35.2 418.4L165.7 385.8M165.7 385.8L296.1 418.4M36.4 444.1L165.7 408.9M165.7 408.9L294.9 444.1M37.7 469.9L165.7 432.1M165.7 432.1L293.6 469.9M38.9 495.7L165.7 455.2M165.7 455.2L292.3 495.7M40.2 521.5L165.7 478.3M165.7 478.3L291.1 521.5M40.2 521.5L42.1 561.5M291.1 521.5L289.1 561.5M165.7 478.3L165.7 515.4" stroke="#4a4a4a" stroke-width="0.55" fill="none"/>
<polygon points="165.7,620.4 289.1,561.6 165.7,515.3 42.1,561.6" fill="#616161" stroke="#333" stroke-width="0.5"/>
<polyline points="55.6,568.0 56.1,567.2 56.5,566.3 57.1,565.3 57.6,564.3 58.2,563.3 58.6,562.6 59.0,561.8 59.5,561.0 59.9,560.3 60.4,559.4 61.0,558.4 61.6,557.4 62.1,556.5 62.5,555.8 62.9,555.1 63.4,554.3 63.9,553.4 63.9,553.4" fill="none" stroke="#2ca1df" stroke-width="1.1"/>
<polyline points="71.2,575.5 71.6,574.6 72.0,573.8 72.3,573.0 72.7,572.2 73.1,571.3 73.6,570.3 74.1,569.2 74.6,568.2 75.0,567.3 75.4,566.5 75.8,565.8 76.2,565.0 76.6,564.2 77.1,563.2 77.7,562.2 78.2,561.2 78.6,560.4 79.0,559.6 79.4,558.9 79.8,558.1 80.3,557.2 80.9,556.2 81.5,555.2 81.9,554.5 82.3,553.8 82.7,553.0 83.2,552.3 83.7,551.3 84.3,550.3 84.8,549.5 85.2,548.8 85.7,548.1 86.1,547.4 86.7,546.4 87.3,545.4 87.8,544.7 88.0,544.4" fill="none" stroke="#2ccb8e" stroke-width="1.1"/>
<polyline points="89.9,584.3 90.2,583.4 90.5,582.6 90.8,581.7 91.1,580.8 91.4,580.0 91.8,579.1 92.2,578.1 92.6,577.1 93.0,576.0 93.4,575.0 93.7,574.1 94.1,573.2 94.4,572.4 94.8,571.6 95.1,570.8 95.5,569.9 96.0,568.9 96.4,567.9 96.9,566.8 97.2,566.0 97.6,565.3 98.0,564.5 98.3,563.7 98.8,562.8 99.3,561.8 99.8,560.8 100.2,559.9 100.6,559.2 101.0,558.4 101.3,557.7 101.8,556.8 102.4,555.8 102.9,554.8 103.3,554.1 103.7,553.4 104.1,552.7 104.5,551.8 105.1,550.8 105.6,549.8 106.0,549.2 106.5,548.5 106.9,547.8 107.4,546.8 108.0,545.8 108.5,545.1 108.9,544.4 109.3,543.7 109.9,542.9 110.5,541.9 111.0,541.1 111.4,540.5 111.9,539.8 112.5,538.9 113.1,537.9 113.6,537.3 114.0,536.7 114.5,535.9 115.2,535.0 115.7,534.2 115.9,534.0" fill="none" stroke="#4ccb32" stroke-width="1.1"/>
<polyline points="113.7,595.7 113.9,594.7 114.1,593.8 114.3,592.8 114.6,591.9 114.8,591.0 115.0,590.0 115.2,589.1 115.5,588.1 115.7,587.1 116.0,586.1 116.3,585.0 116.6,584.0 116.9,583.0 117.2,581.9 117.4,581.1 117.7,580.2 118.0,579.3 118.2,578.5 118.5,577.6 118.8,576.8 119.1,575.8 119.5,574.7 119.9,573.7 120.2,572.7 120.5,571.8 120.9,571.0 121.2,570.2 121.5,569.4 121.8,568.6 122.2,567.6 122.6,566.5 123.1,565.5 123.4,564.7 123.7,564.0 124.1,563.2 124.4,562.4 124.9,561.4 125.3,560.4 125.8,559.5 126.1,558.7 126.5,558.0 126.8,557.3 127.3,556.3 127.8,555.3 128.3,554.4 128.7,553.7 129.1,553.0 129.4,552.3 130.0,551.3 130.6,550.2 131.0,549.5 131.3,548.9 131.7,548.2 132.3,547.2 132.9,546.2 133.3,545.5 133.7,544.9 134.2,544.1 134.8,543.1 135.4,542.3 135.8,541.6 136.2,541.0 136.8,540.0 137.5,539.1 137.9,538.5 138.3,537.9 138.9,537.0 139.6,536.0 140.0,535.4 140.5,534.8 141.2,533.9 141.8,533.0 142.3,532.4 142.7,531.8 143.6,530.8 144.1,530.1 144.5,529.5 145.2,528.7 145.9,527.8 146.4,527.3 147.0,526.6 147.8,525.6 148.3,525.0 148.8,524.5 149.7,523.4 150.2,522.9 150.7,522.3 151.7,521.3 152.2,520.7 152.7,520.2 152.7,520.2" fill="none" stroke="#c7cb32" stroke-width="1.1"/>
<polyline points="150.1,613.0 150.0,611.9 149.9,610.7 149.8,609.6 149.7,608.5 149.7,607.5 149.6,606.4 149.6,605.4 149.5,604.4 149.5,603.4 149.5,602.4 149.5,601.3 149.6,600.3 149.6,599.3 149.6,598.3 149.7,597.3 149.7,596.2 149.8,595.2 149.9,594.2 150.0,593.2 150.1,592.2 150.2,591.1 150.3,590.1 150.4,589.2 150.5,588.2 150.7,587.3 150.8,586.4 151.0,585.5 151.1,584.6 151.3,583.7 151.5,582.8 151.6,581.9 151.9,580.9 152.1,579.9 152.3,578.8 152.6,577.8 152.8,576.8 153.1,575.9 153.3,575.1 153.5,574.3 153.8,573.4 154.0,572.6 154.3,571.6 154.7,570.6 155.0,569.6 155.3,568.6 155.6,567.9 155.9,567.1 156.2,566.3 156.5,565.4 156.9,564.4 157.4,563.3 157.7,562.6 158.0,561.8 158.3,561.1 158.7,560.2 159.2,559.1 159.6,558.2 160.0,557.5 160.3,556.8 160.7,556.0 161.3,554.9 161.8,554.0 162.1,553.3 162.5,552.6 163.0,551.7 163.6,550.6 164.0,550.0 164.4,549.3 164.9,548.5 165.6,547.4 166.0,546.7 166.5,546.1 167.0,545.2 167.7,544.2 168.2,543.6 168.6,543.0 169.4,541.9 169.9,541.1 170.4,540.5 171.0,539.6 171.7,538.8 172.2,538.2 172.9,537.4 173.6,536.4 174.1,535.9 174.8,535.0 175.6,534.2 176.1,533.6 177.0,532.7 177.6,532.0 178.1,531.5 179.2,530.4 179.7,529.9 180.6,529.0 181.3,528.3 181.9,527.7 183.0,526.8 183.5,526.2 184.7,525.3 185.2,524.8 186.4,523.8 187.0,523.3 187.0,523.3" fill="none" stroke="#d96232" stroke-width="1.1"/>
<circle cx="42.1" cy="561.5" r="1.1" fill="#111"/>
<circle cx="66.8" cy="573.3" r="1.1" fill="#111"/>
<circle cx="91.5" cy="585.1" r="1.1" fill="#111"/>
<circle cx="116.3" cy="596.9" r="1.1" fill="#111"/>
<circle cx="141.0" cy="608.7" r="1.1" fill="#111"/>
<circle cx="165.7" cy="620.5" r="1.1" fill="#111"/>
<circle cx="196.6" cy="605.8" r="1.1" fill="#111"/>
<circle cx="227.4" cy="591.0" r="1.1" fill="#111"/>
<circle cx="258.2" cy="576.2" r="1.1" fill="#111"/>
<circle cx="289.1" cy="561.5" r="1.1" fill="#111"/>
<circle cx="33.9" cy="392.6" r="1.1" fill="#111"/>
<circle cx="35.2" cy="418.4" r="1.1" fill="#111"/>
<circle cx="36.4" cy="444.1" r="1.1" fill="#111"/>
<circle cx="37.7" cy="469.9" r="1.1" fill="#111"/>
<circle cx="38.9" cy="495.7" r="1.1" fill="#111"/>
<circle cx="40.2" cy="521.5" r="1.1" fill="#111"/>
<circle cx="165.7" cy="405.1" r="2.7" fill="#f6c9c9" stroke="#b88" stroke-width="0.5"/>
<polygon points="165.7,407.8 171.5,405.1 165.7,406.3 159.9,409.1" fill="#ffea4d" stroke="#151510" stroke-opacity="0.85" stroke-width="0.42"/>
<polygon points="159.8,410.6 165.7,407.8 159.9,409.1 154.1,412.1" fill="#fff751" stroke="#151510" stroke-opacity="0.85" stroke-width="0.42"/>
<polygon points="171.5,406.6 177.3,404.1 171.5,405.1 165.7,407.8" fill="#ffcd45" stroke="#151510" stroke-opacity="0.85" stroke-width="0.42"/>
<polygon points="153.9,413.7 159.8,410.6 154.1,412.1 148.2,415.2" fill="#faff55" stroke="#151510" stroke-opacity="0.85" stroke-width="0.42"/>
<polygon points="165.7,409.4 171.5,406.6 165.7,407.8 159.8,410.6" fill="#ffda48" stroke="#151510" stroke-opacity="0.85" stroke-width="0.42"/>
<polygon points="177.5,405.7 183.3,403.2 177.3,404.1 171.5,406.6" fill="#ffb03d" stroke="#151510" stroke-opacity="0.85" stroke-width="0.42"/>
<polygon points="159.8,412.3 165.7,409.4 159.8,410.6 153.9,413.7" fill="#ffe74c" stroke="#151510" stroke-opacity="0.85" stroke-width="0.42"/>
<polygon points="171.6,408.3 177.5,405.7 171.5,406.6 165.7,409.4" fill="#ffbc40" stroke="#151510" stroke-opacity="0.85" stroke-width="0.42"/>
<polygon points="148.0,416.9 153.9,413.7 148.2,415.2 142.2,418.6" fill="#ecff56" stroke="#151510" stroke-opacity="0.85" stroke-width="0.42"/>
<polygon points="183.5,405.0 189.3,402.6 183.3,403.2 177.5,405.7" fill="#ff9236" stroke="#151510" stroke-opacity="0.85" stroke-width="0.42"/>
<polygon points="141.9,420.3 148.0,416.9 142.2,418.6 136.2,422.1" fill="#dcff55" stroke="#151510" stroke-opacity="0.85" stroke-width="0.42"/>
<polygon points="153.8,415.4 159.8,412.3 153.9,413.7 148.0,416.9" fill="#fff651" stroke="#151510" stroke-opacity="0.85" stroke-width="0.42"/>
<polygon points="165.7,411.2 171.6,408.3 165.7,409.4 159.8,412.3" fill="#ffc944" stroke="#151510" stroke-opacity="0.85" stroke-width="0.42"/>
<polygon points="177.6,407.5 183.5,405.0 177.5,405.7 171.6,408.3" fill="#ff9e39" stroke="#151510" stroke-opacity="0.85" stroke-width="0.42"/>
<polygon points="189.6,404.4 195.4,402.2 189.3,402.6 183.5,405.0" fill="#ff762f" stroke="#151510" stroke-opacity="0.85" stroke-width="0.42"/>
<polygon points="147.8,418.8 153.8,415.4 148.0,416.9 141.9,420.3" fill="#faff56" stroke="#151510" stroke-opacity="0.85" stroke-width="0.42"/>
<polygon points="183.7,406.8 189.6,404.4 183.5,405.0 177.6,407.5" fill="#ff8132" stroke="#151510" stroke-opacity="0.85" stroke-width="0.42"/>
<polygon points="135.9,423.9 141.9,420.3 136.2,422.1 130.1,425.8" fill="#caff54" stroke="#151510" stroke-opacity="0.85" stroke-width="0.42"/>
<polygon points="159.7,414.2 165.7,411.2 159.8,412.3 153.8,415.4" fill="#ffd848" stroke="#151510" stroke-opacity="0.85" stroke-width="0.42"/>
<polygon points="171.7,410.2 177.6,407.5 171.6,408.3 165.7,411.2" fill="#ffab3c" stroke="#151510" stroke-opacity="0.85" stroke-width="0.42"/>
<polygon points="195.7,404.1 201.6,402.0 195.4,402.2 189.6,404.4" fill="#ff5f2e" stroke="#151510" stroke-opacity="0.85" stroke-width="0.42"/>
<polygon points="129.7,427.7 135.9,423.9 130.1,425.8 124.0,429.7" fill="#b7ff53" stroke="#151510" stroke-opacity="0.85" stroke-width="0.42"/>
<polygon points="141.6,422.2 147.8,418.8 141.9,420.3 135.9,423.9" fill="#eaff56" stroke="#151510" stroke-opacity="0.85" stroke-width="0.42"/>
<polygon points="153.6,417.4 159.7,414.2 153.8,415.4 147.8,418.8" fill="#ffe74c" stroke="#151510" stroke-opacity="0.85" stroke-width="0.42"/>
<polygon points="165.7,413.1 171.7,410.2 165.7,411.2 159.7,414.2" fill="#ffb93f" stroke="#151510" stroke-opacity="0.85" stroke-width="0.42"/>
<polygon points="177.8,409.4 183.7,406.8 177.6,407.5 171.7,410.2" fill="#ff8d34" stroke="#151510" stroke-opacity="0.85" stroke-width="0.42"/>
<polygon points="189.9,406.4 195.7,404.1 189.6,404.4 183.7,406.8" fill="#ff662e" stroke="#151510" stroke-opacity="0.85" stroke-width="0.42"/>
<polygon points="202.0,404.0 207.8,402.0 201.6,402.0 195.7,404.1" fill="#ff4b2d" stroke="#151510" stroke-opacity="0.85" stroke-width="0.42"/>
<polygon points="123.5,431.7 129.7,427.7 124.0,429.7 117.8,433.8" fill="#a2ff52" stroke="#151510" stroke-opacity="0.85" stroke-width="0.42"/>
<polygon points="135.5,425.9 141.6,422.2 135.9,423.9 129.7,427.7" fill="#d8ff55" stroke="#151510" stroke-opacity="0.85" stroke-width="0.42"/>
<polygon points="147.5,420.7 153.6,417.4 147.8,418.8 141.6,422.2" fill="#fff751" stroke="#151510" stroke-opacity="0.85" stroke-width="0.42"/>
<polygon points="159.6,416.2 165.7,413.1 159.7,414.2 153.6,417.4" fill="#ffc944" stroke="#151510" stroke-opacity="0.85" stroke-width="0.42"/>
<polygon points="171.8,412.2 177.8,409.4 171.7,410.2 165.7,413.1" fill="#ff9b38" stroke="#151510" stroke-opacity="0.85" stroke-width="0.42"/>
<polygon points="183.9,408.9 189.9,406.4 183.7,406.8 177.8,409.4" fill="#ff702e" stroke="#151510" stroke-opacity="0.85" stroke-width="0.42"/>
<polygon points="196.1,406.2 202.0,404.0 195.7,404.1 189.9,406.4" fill="#ff512d" stroke="#151510" stroke-opacity="0.85" stroke-width="0.42"/>
<polygon points="208.3,404.1 214.1,402.2 207.8,402.0 202.0,404.0" fill="#ff392d" stroke="#151510" stroke-opacity="0.85" stroke-width="0.42"/>
<polygon points="129.3,429.8 135.5,425.9 129.7,427.7 123.5,431.7" fill="#c5ff54" stroke="#151510" stroke-opacity="0.85" stroke-width="0.42"/>
<polygon points="141.4,424.3 147.5,420.7 141.6,422.2 135.5,425.9" fill="#f6ff56" stroke="#151510" stroke-opacity="0.85" stroke-width="0.42"/>
<polygon points="165.7,415.2 171.8,412.2 165.7,413.1 159.6,416.2" fill="#ffaa3b" stroke="#151510" stroke-opacity="0.85" stroke-width="0.42"/>
<polygon points="190.2,408.5 196.1,406.2 189.9,406.4 183.9,408.9" fill="#ff592e" stroke="#151510" stroke-opacity="0.85" stroke-width="0.42"/>
<polygon points="202.4,406.2 208.3,404.1 202.0,404.0 196.1,406.2" fill="#ff3e2d" stroke="#151510" stroke-opacity="0.85" stroke-width="0.42"/>
<polygon points="117.2,435.9 123.5,431.7 117.8,433.8 111.6,438.1" fill="#8bfe51" stroke="#151510" stroke-opacity="0.85" stroke-width="0.42"/>
<polygon points="153.5,419.4 159.6,416.2 153.6,417.4 147.5,420.7" fill="#ffd948" stroke="#151510" stroke-opacity="0.85" stroke-width="0.42"/>
<polygon points="177.9,411.5 183.9,408.9 177.8,409.4 171.8,412.2" fill="#ff7d31" stroke="#151510" stroke-opacity="0.85" stroke-width="0.42"/>
<polygon points="214.7,404.4 220.5,402.7 214.1,402.2 208.3,404.1" fill="#ff312d" stroke="#151510" stroke-opacity="0.85" stroke-width="0.42"/>
<polygon points="110.9,440.3 117.2,435.9 111.6,438.1 105.3,442.6" fill="#73fe50" stroke="#151510" stroke-opacity="0.85" stroke-width="0.42"/>
<polygon points="123.0,433.9 129.3,429.8 123.5,431.7 117.2,435.9" fill="#b0ff53" stroke="#151510" stroke-opacity="0.85" stroke-width="0.42"/>
<polygon points="135.1,428.1 141.4,424.3 135.5,425.9 129.3,429.8" fill="#e5ff56" stroke="#151510" stroke-opacity="0.85" stroke-width="0.42"/>
<polygon points="147.3,422.9 153.5,419.4 147.5,420.7 141.4,424.3" fill="#ffea4d" stroke="#151510" stroke-opacity="0.85" stroke-width="0.42"/>
<polygon points="159.6,418.3 165.7,415.2 159.6,416.2 153.5,419.4" fill="#ffba40" stroke="#151510" stroke-opacity="0.85" stroke-width="0.42"/>
<polygon points="171.8,414.4 177.9,411.5 171.8,412.2 165.7,415.2" fill="#ff8b34" stroke="#151510" stroke-opacity="0.85" stroke-width="0.42"/>
<polygon points="184.2,411.1 190.2,408.5 183.9,408.9 177.9,411.5" fill="#ff622e" stroke="#151510" stroke-opacity="0.85" stroke-width="0.42"/>
<polygon points="196.5,408.4 202.4,406.2 196.1,406.2 190.2,408.5" fill="#ff442d" stroke="#151510" stroke-opacity="0.85" stroke-width="0.42"/>
<polygon points="208.8,406.4 214.7,404.4 208.3,404.1 202.4,406.2" fill="#ff312d" stroke="#151510" stroke-opacity="0.85" stroke-width="0.42"/>
<polygon points="221.2,405.0 227.0,403.3 220.5,402.7 214.7,404.4" fill="#ff302c" stroke="#151510" stroke-opacity="0.85" stroke-width="0.42"/>
<polygon points="116.6,438.1 123.0,433.9 117.2,435.9 110.9,440.3" fill="#99ff52" stroke="#151510" stroke-opacity="0.85" stroke-width="0.42"/>
<polygon points="153.3,421.7 159.6,418.3 153.5,419.4 147.3,422.9" fill="#ffcc44" stroke="#151510" stroke-opacity="0.85" stroke-width="0.42"/>
<polygon points="178.1,413.8 184.2,411.1 177.9,411.5 171.8,414.4" fill="#ff6e2e" stroke="#151510" stroke-opacity="0.85" stroke-width="0.42"/>
<polygon points="215.3,406.8 221.2,405.0 214.7,404.4 208.8,406.4" fill="#ff302c" stroke="#151510" stroke-opacity="0.85" stroke-width="0.42"/>
<polygon points="104.5,444.9 110.9,440.3 105.3,442.6 98.9,447.3" fill="#59fd4f" stroke="#151510" stroke-opacity="0.85" stroke-width="0.42"/>
<polygon points="128.8,432.0 135.1,428.1 129.3,429.8 123.0,433.9" fill="#d2ff55" stroke="#151510" stroke-opacity="0.85" stroke-width="0.42"/>
<polygon points="141.1,426.5 147.3,422.9 141.4,424.3 135.1,428.1" fill="#fffc53" stroke="#151510" stroke-opacity="0.85" stroke-width="0.42"/>
<polygon points="165.7,417.4 171.8,414.4 165.7,415.2 159.6,418.3" fill="#ff9b38" stroke="#151510" stroke-opacity="0.85" stroke-width="0.42"/>
<polygon points="190.5,410.8 196.5,408.4 190.2,408.5 184.2,411.1" fill="#ff4c2d" stroke="#151510" stroke-opacity="0.85" stroke-width="0.42"/>
<polygon points="202.9,408.5 208.8,406.4 202.4,406.2 196.5,408.4" fill="#ff322d" stroke="#151510" stroke-opacity="0.85" stroke-width="0.42"/>
<polygon points="227.8,405.8 233.5,404.2 227.0,403.3 221.2,405.0" fill="#ff302c" stroke="#151510" stroke-opacity="0.85" stroke-width="0.42"/>
<polygon points="98.1,449.6 104.5,444.9 98.9,447.3 92.5,452.2" fill="#54fc64" stroke="#151510" stroke-opacity="0.85" stroke-width="0.42"/>
<polygon points="110.2,442.6 116.6,438.1 110.9,440.3 104.5,444.9" fill="#81fe51" stroke="#151510" stroke-opacity="0.85" stroke-width="0.42"/>
<polygon points="122.4,436.2 128.8,432.0 123.0,433.9 116.6,438.1" fill="#bdff53" stroke="#151510" stroke-opacity="0.85" stroke-width="0.42"/>
<polygon points="134.7,430.4 141.1,426.5 135.1,428.1 128.8,432.0" fill="#f0ff56" stroke="#151510" stroke-opacity="0.85" stroke-width="0.42"/>
<polygon points="147.1,425.2 153.3,421.7 147.3,422.9 141.1,426.5" fill="#ffde49" stroke="#151510" stroke-opacity="0.85" stroke-width="0.42"/>
<polygon points="159.5,420.6 165.7,417.4 159.6,418.3 153.3,421.7" fill="#ffad3c" stroke="#151510" stroke-opacity="0.85" stroke-width="0.42"/>
<polygon points="171.9,416.7 178.1,413.8 171.8,414.4 165.7,417.4" fill="#ff7d31" stroke="#151510" stroke-opacity="0.85" stroke-width="0.42"/>
<polygon points="184.4,413.4 190.5,410.8 184.2,411.1 178.1,413.8" fill="#ff562e" stroke="#151510" stroke-opacity="0.85" stroke-width="0.42"/>
<polygon points="196.9,410.8 202.9,408.5 196.5,408.4 190.5,410.8" fill="#ff392d" stroke="#151510" stroke-opacity="0.85" stroke-width="0.42"/>
<polygon points="209.4,408.8 215.3,406.8 208.8,406.4 202.9,408.5" fill="#ff302d" stroke="#151510" stroke-opacity="0.85" stroke-width="0.42"/>
<polygon points="221.9,407.5 227.8,405.8 221.2,405.0 215.3,406.8" fill="#ff302c" stroke="#151510" stroke-opacity="0.85" stroke-width="0.42"/>
<polygon points="234.4,406.8 240.2,405.4 233.5,404.2 227.8,405.8" fill="#ff302c" stroke="#151510" stroke-opacity="0.85" stroke-width="0.42"/>
<polygon points="91.6,454.6 98.1,449.6 92.5,452.2 86.0,457.2" fill="#4cfb7b" stroke="#151510" stroke-opacity="0.85" stroke-width="0.42"/>
<polygon points="103.7,447.3 110.2,442.6 104.5,444.9 98.1,449.6" fill="#67fd4f" stroke="#151510" stroke-opacity="0.85" stroke-width="0.42"/>
<polygon points="116.0,440.5 122.4,436.2 116.6,438.1 110.2,442.6" fill="#a6ff52" stroke="#151510" stroke-opacity="0.85" stroke-width="0.42"/>
<polygon points="128.3,434.4 134.7,430.4 128.8,432.0 122.4,436.2" fill="#ddff55" stroke="#151510" stroke-opacity="0.85" stroke-width="0.42"/>
<polygon points="140.7,428.9 147.1,425.2 141.1,426.5 134.7,430.4" fill="#fff04f" stroke="#151510" stroke-opacity="0.85" stroke-width="0.42"/>
<polygon points="153.2,424.1 159.5,420.6 153.3,421.7 147.1,425.2" fill="#ffbf41" stroke="#151510" stroke-opacity="0.85" stroke-width="0.42"/>
<polygon points="165.7,419.8 171.9,416.7 165.7,417.4 159.5,420.6" fill="#ff8e35" stroke="#151510" stroke-opacity="0.85" stroke-width="0.42"/>
<polygon points="178.2,416.2 184.4,413.4 178.1,413.8 171.9,416.7" fill="#ff622e" stroke="#151510" stroke-opacity="0.85" stroke-width="0.42"/>
<polygon points="190.8,413.3 196.9,410.8 190.5,410.8 184.4,413.4" fill="#ff412d" stroke="#151510" stroke-opacity="0.85" stroke-width="0.42"/>
<polygon points="203.4,411.0 209.4,408.8 202.9,408.5 196.9,410.8" fill="#ff312d" stroke="#151510" stroke-opacity="0.85" stroke-width="0.42"/>
<polygon points="215.9,409.3 221.9,407.5 215.3,406.8 209.4,408.8" fill="#ff302c" stroke="#151510" stroke-opacity="0.85" stroke-width="0.42"/>
<polygon points="228.5,408.4 234.4,406.8 227.8,405.8 221.9,407.5" fill="#ff302c" stroke="#151510" stroke-opacity="0.85" stroke-width="0.42"/>
<polygon points="241.1,408.0 246.9,406.7 240.2,405.4 234.4,406.8" fill="#fe302c" stroke="#151510" stroke-opacity="0.85" stroke-width="0.42"/>
<polygon points="97.2,452.1 103.7,447.3 98.1,449.6 91.6,454.6" fill="#55fd58" stroke="#151510" stroke-opacity="0.85" stroke-width="0.42"/>
<polygon points="109.5,445.1 116.0,440.5 110.2,442.6 103.7,447.3" fill="#8dff51" stroke="#151510" stroke-opacity="0.85" stroke-width="0.42"/>
<polygon points="134.3,432.9 140.7,428.9 134.7,430.4 128.3,434.4" fill="#fbff55" stroke="#151510" stroke-opacity="0.85" stroke-width="0.42"/>
<polygon points="159.4,423.1 165.7,419.8 159.5,420.6 153.2,424.1" fill="#ffa039" stroke="#151510" stroke-opacity="0.85" stroke-width="0.42"/>
<polygon points="172.0,419.2 178.2,416.2 171.9,416.7 165.7,419.8" fill="#ff6f2e" stroke="#151510" stroke-opacity="0.85" stroke-width="0.42"/>
<polygon points="197.3,413.4 203.4,411.0 196.9,410.8 190.8,413.3" fill="#ff312d" stroke="#151510" stroke-opacity="0.85" stroke-width="0.42"/>
<polygon points="222.6,410.1 228.5,408.4 221.9,407.5 215.9,409.3" fill="#ff302c" stroke="#151510" stroke-opacity="0.85" stroke-width="0.42"/>
<polygon points="235.2,409.5 241.1,408.0 234.4,406.8 228.5,408.4" fill="#ff302c" stroke="#151510" stroke-opacity="0.85" stroke-width="0.42"/>
<polygon points="85.0,459.8 91.6,454.6 86.0,457.2 79.5,462.5" fill="#44fa95" stroke="#151510" stroke-opacity="0.85" stroke-width="0.42"/>
<polygon points="121.9,438.7 128.3,434.4 122.4,436.2 116.0,440.5" fill="#c8ff54" stroke="#151510" stroke-opacity="0.85" stroke-width="0.42"/>
<polygon points="146.8,427.7 153.2,424.1 147.1,425.2 140.7,428.9" fill="#ffd246" stroke="#151510" stroke-opacity="0.85" stroke-width="0.42"/>
<polygon points="184.6,416.0 190.8,413.3 184.4,413.4 178.2,416.2" fill="#ff4b2d" stroke="#151510" stroke-opacity="0.85" stroke-width="0.42"/>
<polygon points="209.9,411.4 215.9,409.3 209.4,408.8 203.4,411.0" fill="#ff302c" stroke="#151510" stroke-opacity="0.85" stroke-width="0.42"/>
<polygon points="247.9,409.5 253.7,408.4 246.9,406.7 241.1,408.0" fill="#fc302c" stroke="#151510" stroke-opacity="0.85" stroke-width="0.42"/>
<polygon points="78.4,465.2 85.0,459.8 79.5,462.5 72.9,468.0" fill="#3cf9b3" stroke="#151510" stroke-opacity="0.85" stroke-width="0.42"/>
<polygon points="90.6,457.2 97.2,452.1 91.6,454.6 85.0,459.8" fill="#50fc70" stroke="#151510" stroke-opacity="0.85" stroke-width="0.42"/>
<polygon points="103.0,449.9 109.5,445.1 103.7,447.3 97.2,452.1" fill="#73fe50" stroke="#151510" stroke-opacity="0.85" stroke-width="0.42"/>
<polygon points="115.4,443.1 121.9,438.7 116.0,440.5 109.5,445.1" fill="#b1ff53" stroke="#151510" stroke-opacity="0.85" stroke-width="0.42"/>
<polygon points="127.9,437.0 134.3,432.9 128.3,434.4 121.9,438.7" fill="#e8ff56" stroke="#151510" stroke-opacity="0.85" stroke-width="0.42"/>
<polygon points="140.4,431.5 146.8,427.7 140.7,428.9 134.3,432.9" fill="#ffe64c" stroke="#151510" stroke-opacity="0.85" stroke-width="0.42"/>
<polygon points="153.0,426.6 159.4,423.1 153.2,424.1 146.8,427.7" fill="#ffb33e" stroke="#151510" stroke-opacity="0.85" stroke-width="0.42"/>
<polygon points="165.7,422.4 172.0,419.2 165.7,419.8 159.4,423.1" fill="#ff8132" stroke="#151510" stroke-opacity="0.85" stroke-width="0.42"/>
<polygon points="178.4,418.8 184.6,416.0 178.2,416.2 172.0,419.2" fill="#ff572e" stroke="#151510" stroke-opacity="0.85" stroke-width="0.42"/>
<polygon points="191.1,415.9 197.3,413.4 190.8,413.3 184.6,416.0" fill="#ff372d" stroke="#151510" stroke-opacity="0.85" stroke-width="0.42"/>
<polygon points="203.8,413.7 209.9,411.4 203.4,411.0 197.3,413.4" fill="#ff302c" stroke="#151510" stroke-opacity="0.85" stroke-width="0.42"/>
<polygon points="216.6,412.1 222.6,410.1 215.9,409.3 209.9,411.4" fill="#ff302c" stroke="#151510" stroke-opacity="0.85" stroke-width="0.42"/>
<polygon points="229.3,411.1 235.2,409.5 228.5,408.4 222.6,410.1" fill="#ff302c" stroke="#151510" stroke-opacity="0.85" stroke-width="0.42"/>
<polygon points="242.0,410.9 247.9,409.5 241.1,408.0 235.2,409.5" fill="#fe302c" stroke="#151510" stroke-opacity="0.85" stroke-width="0.42"/>
<polygon points="254.8,411.3 260.5,410.2 253.7,408.4 247.9,409.5" fill="#fb302c" stroke="#151510" stroke-opacity="0.85" stroke-width="0.42"/>
<polygon points="84.0,462.5 90.6,457.2 85.0,459.8 78.4,465.2" fill="#48fb8a" stroke="#151510" stroke-opacity="0.85" stroke-width="0.42"/>
<polygon points="121.3,441.3 127.9,437.0 121.9,438.7 115.4,443.1" fill="#d3ff55" stroke="#151510" stroke-opacity="0.85" stroke-width="0.42"/>
<polygon points="146.6,430.3 153.0,426.6 146.8,427.7 140.4,431.5" fill="#ffc743" stroke="#151510" stroke-opacity="0.85" stroke-width="0.42"/>
<polygon points="184.9,418.7 191.1,415.9 184.6,416.0 178.4,418.8" fill="#ff422d" stroke="#151510" stroke-opacity="0.85" stroke-width="0.42"/>
<polygon points="210.5,414.2 216.6,412.1 209.9,411.4 203.8,413.7" fill="#ff302c" stroke="#151510" stroke-opacity="0.85" stroke-width="0.42"/>
<polygon points="248.9,412.5 254.8,411.3 247.9,409.5 242.0,410.9" fill="#fc302c" stroke="#151510" stroke-opacity="0.85" stroke-width="0.42"/>
<polygon points="71.7,470.8 78.4,465.2 72.9,468.0 66.2,473.7" fill="#33f8d6" stroke="#151510" stroke-opacity="0.85" stroke-width="0.42"/>
<polygon points="96.3,454.8 103.0,449.9 97.2,452.1 90.6,457.2" fill="#57fd4f" stroke="#151510" stroke-opacity="0.85" stroke-width="0.42"/>
<polygon points="108.8,447.8 115.4,443.1 109.5,445.1 103.0,449.9" fill="#99ff52" stroke="#151510" stroke-opacity="0.85" stroke-width="0.42"/>
<polygon points="133.9,435.5 140.4,431.5 134.3,432.9 127.9,437.0" fill="#fff952" stroke="#151510" stroke-opacity="0.85" stroke-width="0.42"/>
<polygon points="159.3,425.8 165.7,422.4 159.4,423.1 153.0,426.6" fill="#ff9436" stroke="#151510" stroke-opacity="0.85" stroke-width="0.42"/>
<polygon points="172.1,421.9 178.4,418.8 172.0,419.2 165.7,422.4" fill="#ff652e" stroke="#151510" stroke-opacity="0.85" stroke-width="0.42"/>
<polygon points="197.7,416.1 203.8,413.7 197.3,413.4 191.1,415.9" fill="#ff302d" stroke="#151510" stroke-opacity="0.85" stroke-width="0.42"/>
<polygon points="223.3,413.0 229.3,411.1 222.6,410.1 216.6,412.1" fill="#ff302c" stroke="#151510" stroke-opacity="0.85" stroke-width="0.42"/>
<polygon points="236.1,412.4 242.0,410.9 235.2,409.5 229.3,411.1" fill="#ff302c" stroke="#151510" stroke-opacity="0.85" stroke-width="0.42"/>
<polygon points="261.7,413.3 267.4,412.3 260.5,410.2 254.8,411.3" fill="#f9302c" stroke="#151510" stroke-opacity="0.85" stroke-width="0.42"/>
<polygon points="77.3,468.0 84.0,462.5 78.4,465.2 71.7,470.8" fill="#3ffaa7" stroke="#151510" stroke-opacity="0.85" stroke-width="0.42"/>
<polygon points="255.9,414.4 261.7,413.3 254.8,411.3 248.9,412.5" fill="#fb302c" stroke="#151510" stroke-opacity="0.85" stroke-width="0.42"/>
<polygon points="65.0,476.6 71.7,470.8 66.2,473.7 59.5,479.6" fill="#2aedf3" stroke="#151510" stroke-opacity="0.85" stroke-width="0.42"/>
<polygon points="89.7,460.0 96.3,454.8 90.6,457.2 84.0,462.5" fill="#53fc67" stroke="#151510" stroke-opacity="0.85" stroke-width="0.42"/>
<polygon points="102.2,452.6 108.8,447.8 103.0,449.9 96.3,454.8" fill="#7efe50" stroke="#151510" stroke-opacity="0.85" stroke-width="0.42"/>
<polygon points="114.7,445.9 121.3,441.3 115.4,443.1 108.8,447.8" fill="#bcff53" stroke="#151510" stroke-opacity="0.85" stroke-width="0.42"/>
<polygon points="127.4,439.7 133.9,435.5 127.9,437.0 121.3,441.3" fill="#f1ff56" stroke="#151510" stroke-opacity="0.85" stroke-width="0.42"/>
<polygon points="140.1,434.3 146.6,430.3 140.4,431.5 133.9,435.5" fill="#ffdb49" stroke="#151510" stroke-opacity="0.85" stroke-width="0.42"/>
<polygon points="152.9,429.4 159.3,425.8 153.0,426.6 146.6,430.3" fill="#ffa83b" stroke="#151510" stroke-opacity="0.85" stroke-width="0.42"/>
<polygon points="165.7,425.2 172.1,421.9 165.7,422.4 159.3,425.8" fill="#ff752f" stroke="#151510" stroke-opacity="0.85" stroke-width="0.42"/>
<polygon points="178.5,421.7 184.9,418.7 178.4,418.8 172.1,421.9" fill="#ff4e2d" stroke="#151510" stroke-opacity="0.85" stroke-width="0.42"/>
<polygon points="191.4,418.8 197.7,416.1 191.1,415.9 184.9,418.7" fill="#ff312d" stroke="#151510" stroke-opacity="0.85" stroke-width="0.42"/>
<polygon points="204.3,416.5 210.5,414.2 203.8,413.7 197.7,416.1" fill="#ff302c" stroke="#151510" stroke-opacity="0.85" stroke-width="0.42"/>
<polygon points="217.2,415.0 223.3,413.0 216.6,412.1 210.5,414.2" fill="#ff302c" stroke="#151510" stroke-opacity="0.85" stroke-width="0.42"/>
<polygon points="230.1,414.1 236.1,412.4 229.3,411.1 223.3,413.0" fill="#ff302c" stroke="#151510" stroke-opacity="0.85" stroke-width="0.42"/>
<polygon points="243.0,413.9 248.9,412.5 242.0,410.9 236.1,412.4" fill="#fe302c" stroke="#151510" stroke-opacity="0.85" stroke-width="0.42"/>
<polygon points="268.7,415.5 274.4,414.7 267.4,412.3 261.7,413.3" fill="#f7302c" stroke="#151510" stroke-opacity="0.85" stroke-width="0.42"/>
<polygon points="58.2,482.6 65.0,476.6 59.5,479.6 52.8,485.7" fill="#25c1f2" stroke="#151510" stroke-opacity="0.85" stroke-width="0.42"/>
<polygon points="70.5,473.7 77.3,468.0 71.7,470.8 65.0,476.6" fill="#37f8c9" stroke="#151510" stroke-opacity="0.85" stroke-width="0.42"/>
<polygon points="82.9,465.4 89.7,460.0 84.0,462.5 77.3,468.0" fill="#4bfb80" stroke="#151510" stroke-opacity="0.85" stroke-width="0.42"/>
<polygon points="95.5,457.7 102.2,452.6 96.3,454.8 89.7,460.0" fill="#62fe4f" stroke="#151510" stroke-opacity="0.85" stroke-width="0.42"/>
<polygon points="108.1,450.6 114.7,445.9 108.8,447.8 102.2,452.6" fill="#a3ff52" stroke="#151510" stroke-opacity="0.85" stroke-width="0.42"/>
<polygon points="120.8,444.2 127.4,439.7 121.3,441.3 114.7,445.9" fill="#dcff55" stroke="#151510" stroke-opacity="0.85" stroke-width="0.42"/>
<polygon points="133.5,438.4 140.1,434.3 133.9,435.5 127.4,439.7" fill="#fff04f" stroke="#151510" stroke-opacity="0.85" stroke-width="0.42"/>
<polygon points="146.4,433.2 152.9,429.4 146.6,430.3 140.1,434.3" fill="#ffbd40" stroke="#151510" stroke-opacity="0.85" stroke-width="0.42"/>
<polygon points="159.2,428.7 165.7,425.2 159.3,425.8 152.9,429.4" fill="#ff8934" stroke="#151510" stroke-opacity="0.85" stroke-width="0.42"/>
<polygon points="172.2,424.8 178.5,421.7 172.1,421.9 165.7,425.2" fill="#ff5c2e" stroke="#151510" stroke-opacity="0.85" stroke-width="0.42"/>
<polygon points="185.1,421.6 191.4,418.8 184.9,418.7 178.5,421.7" fill="#ff392d" stroke="#151510" stroke-opacity="0.85" stroke-width="0.42"/>
<polygon points="198.1,419.1 204.3,416.5 197.7,416.1 191.4,418.8" fill="#ff302c" stroke="#151510" stroke-opacity="0.85" stroke-width="0.42"/>
<polygon points="211.1,417.2 217.2,415.0 210.5,414.2 204.3,416.5" fill="#ff302c" stroke="#151510" stroke-opacity="0.85" stroke-width="0.42"/>
<polygon points="224.0,416.0 230.1,414.1 223.3,413.0 217.2,415.0" fill="#ff302c" stroke="#151510" stroke-opacity="0.85" stroke-width="0.42"/>
<polygon points="237.0,415.5 243.0,413.9 236.1,412.4 230.1,414.1" fill="#ff302c" stroke="#151510" stroke-opacity="0.85" stroke-width="0.42"/>
<polygon points="250.0,415.7 255.9,414.4 248.9,412.5 243.0,413.9" fill="#fc302c" stroke="#151510" stroke-opacity="0.85" stroke-width="0.42"/>
<polygon points="262.9,416.5 268.7,415.5 261.7,413.3 255.9,414.4" fill="#f9302c" stroke="#151510" stroke-opacity="0.85" stroke-width="0.42"/>
<polygon points="275.8,418.0 281.5,417.3 274.4,414.7 268.7,415.5" fill="#f4302c" stroke="#151510" stroke-opacity="0.85" stroke-width="0.42"/>
<polygon points="51.3,488.8 58.2,482.6 52.8,485.7 45.9,492.1" fill="#2191f1" stroke="#151510" stroke-opacity="0.85" stroke-width="0.42"/>
<polygon points="63.7,479.6 70.5,473.7 65.0,476.6 58.2,482.6" fill="#2df7ef" stroke="#151510" stroke-opacity="0.85" stroke-width="0.42"/>
<polygon points="76.1,471.0 82.9,465.4 77.3,468.0 70.5,473.7" fill="#42fa9c" stroke="#151510" stroke-opacity="0.85" stroke-width="0.42"/>
<polygon points="88.7,463.0 95.5,457.7 89.7,460.0 82.9,465.4" fill="#54fd5e" stroke="#151510" stroke-opacity="0.85" stroke-width="0.42"/>
<polygon points="101.3,455.6 108.1,450.6 102.2,452.6 95.5,457.7" fill="#89ff51" stroke="#151510" stroke-opacity="0.85" stroke-width="0.42"/>
<polygon points="126.9,442.7 133.5,438.4 127.4,439.7 120.8,444.2" fill="#faff56" stroke="#151510" stroke-opacity="0.85" stroke-width="0.42"/>
<polygon points="139.8,437.2 146.4,433.2 140.1,434.3 133.5,438.4" fill="#ffd246" stroke="#151510" stroke-opacity="0.85" stroke-width="0.42"/>
<polygon points="165.7,428.2 172.2,424.8 165.7,425.2 159.2,428.7" fill="#ff6c2e" stroke="#151510" stroke-opacity="0.85" stroke-width="0.42"/>
<polygon points="191.8,421.8 198.1,419.1 191.4,418.8 185.1,421.6" fill="#ff312d" stroke="#151510" stroke-opacity="0.85" stroke-width="0.42"/>
<polygon points="204.8,419.6 211.1,417.2 204.3,416.5 198.1,419.1" fill="#ff302c" stroke="#151510" stroke-opacity="0.85" stroke-width="0.42"/>
<polygon points="231.0,417.3 237.0,415.5 230.1,414.1 224.0,416.0" fill="#ff302c" stroke="#151510" stroke-opacity="0.85" stroke-width="0.42"/>
<polygon points="244.0,417.2 250.0,415.7 243.0,413.9 237.0,415.5" fill="#fe302c" stroke="#151510" stroke-opacity="0.85" stroke-width="0.42"/>
<polygon points="257.0,417.7 262.9,416.5 255.9,414.4 250.0,415.7" fill="#fa302c" stroke="#151510" stroke-opacity="0.85" stroke-width="0.42"/>
<polygon points="270.0,418.9 275.8,418.0 268.7,415.5 262.9,416.5" fill="#f6302c" stroke="#151510" stroke-opacity="0.85" stroke-width="0.42"/>
<polygon points="283.0,420.8 288.7,420.2 281.5,417.3 275.8,418.0" fill="#f2302c" stroke="#151510" stroke-opacity="0.85" stroke-width="0.42"/>
<polygon points="114.1,448.8 120.8,444.2 114.7,445.9 108.1,450.6" fill="#c5ff54" stroke="#151510" stroke-opacity="0.85" stroke-width="0.42"/>
<polygon points="152.7,432.3 159.2,428.7 152.9,429.4 146.4,433.2" fill="#ff9e39" stroke="#151510" stroke-opacity="0.85" stroke-width="0.42"/>
<polygon points="178.7,424.6 185.1,421.6 178.5,421.7 172.2,424.8" fill="#ff462d" stroke="#151510" stroke-opacity="0.85" stroke-width="0.42"/>
<polygon points="217.9,418.1 224.0,416.0 217.2,415.0 211.1,417.2" fill="#ff302c" stroke="#151510" stroke-opacity="0.85" stroke-width="0.42"/>
<polygon points="44.4,495.3 51.3,488.8 45.9,492.1 39.1,498.6" fill="#1c5ef0" stroke="#151510" stroke-opacity="0.85" stroke-width="0.42"/>
<polygon points="56.8,485.8 63.7,479.6 58.2,482.6 51.3,488.8" fill="#26cff3" stroke="#151510" stroke-opacity="0.85" stroke-width="0.42"/>
<polygon points="69.3,476.8 76.1,471.0 70.5,473.7 63.7,479.6" fill="#3af9bd" stroke="#151510" stroke-opacity="0.85" stroke-width="0.42"/>
<polygon points="81.8,468.5 88.7,463.0 82.9,465.4 76.1,471.0" fill="#4efc77" stroke="#151510" stroke-opacity="0.85" stroke-width="0.42"/>
<polygon points="94.5,460.8 101.3,455.6 95.5,457.7 88.7,463.0" fill="#6cfe50" stroke="#151510" stroke-opacity="0.85" stroke-width="0.42"/>
<polygon points="107.3,453.7 114.1,448.8 108.1,450.6 101.3,455.6" fill="#adff53" stroke="#151510" stroke-opacity="0.85" stroke-width="0.42"/>
<polygon points="120.2,447.2 126.9,442.7 120.8,444.2 114.1,448.8" fill="#e4ff56" stroke="#151510" stroke-opacity="0.85" stroke-width="0.42"/>
<polygon points="133.1,441.4 139.8,437.2 133.5,438.4 126.9,442.7" fill="#ffe84c" stroke="#151510" stroke-opacity="0.85" stroke-width="0.42"/>
<polygon points="146.1,436.2 152.7,432.3 146.4,433.2 139.8,437.2" fill="#ffb43e" stroke="#151510" stroke-opacity="0.85" stroke-width="0.42"/>
<polygon points="159.1,431.7 165.7,428.2 159.2,428.7 152.7,432.3" fill="#ff7f31" stroke="#151510" stroke-opacity="0.85" stroke-width="0.42"/>
<polygon points="172.2,427.9 178.7,424.6 172.2,424.8 165.7,428.2" fill="#ff542d" stroke="#151510" stroke-opacity="0.85" stroke-width="0.42"/>
<polygon points="185.4,424.7 191.8,421.8 185.1,421.6 178.7,424.6" fill="#ff322d" stroke="#151510" stroke-opacity="0.85" stroke-width="0.42"/>
<polygon points="198.5,422.2 204.8,419.6 198.1,419.1 191.8,421.8" fill="#ff302c" stroke="#151510" stroke-opacity="0.85" stroke-width="0.42"/>
<polygon points="211.6,420.4 217.9,418.1 211.1,417.2 204.8,419.6" fill="#ff302c" stroke="#151510" stroke-opacity="0.85" stroke-width="0.42"/>
<polygon points="224.8,419.3 231.0,417.3 224.0,416.0 217.9,418.1" fill="#ff302c" stroke="#151510" stroke-opacity="0.85" stroke-width="0.42"/>
<polygon points="237.9,418.8 244.0,417.2 237.0,415.5 231.0,417.3" fill="#ff302c" stroke="#151510" stroke-opacity="0.85" stroke-width="0.42"/>
<polygon points="251.1,419.1 257.0,417.7 250.0,415.7 244.0,417.2" fill="#fc302c" stroke="#151510" stroke-opacity="0.85" stroke-width="0.42"/>
<polygon points="264.2,420.0 270.0,418.9 262.9,416.5 257.0,417.7" fill="#f8302c" stroke="#151510" stroke-opacity="0.85" stroke-width="0.42"/>
<polygon points="277.2,421.6 283.0,420.8 275.8,418.0 270.0,418.9" fill="#f4302c" stroke="#151510" stroke-opacity="0.85" stroke-width="0.42"/>
<polygon points="290.2,423.9 295.9,423.4 288.7,420.2 283.0,420.8" fill="#ef312d" stroke="#151510" stroke-opacity="0.85" stroke-width="0.42"/>
<polygon points="49.8,492.1 56.8,485.8 51.3,488.8 44.4,495.3" fill="#22a0f2" stroke="#151510" stroke-opacity="0.85" stroke-width="0.42"/>
<polygon points="113.4,452.0 120.2,447.2 114.1,448.8 107.3,453.7" fill="#cdff54" stroke="#151510" stroke-opacity="0.85" stroke-width="0.42"/>
<polygon points="152.5,435.5 159.1,431.7 152.7,432.3 146.1,436.2" fill="#ff9536" stroke="#151510" stroke-opacity="0.85" stroke-width="0.42"/>
<polygon points="178.9,427.8 185.4,424.7 178.7,424.6 172.2,427.9" fill="#ff3f2d" stroke="#151510" stroke-opacity="0.85" stroke-width="0.42"/>
<polygon points="218.6,421.4 224.8,419.3 217.9,418.1 211.6,420.4" fill="#ff302c" stroke="#151510" stroke-opacity="0.85" stroke-width="0.42"/>
<polygon points="284.5,424.5 290.2,423.9 283.0,420.8 277.2,421.6" fill="#f2302c" stroke="#151510" stroke-opacity="0.85" stroke-width="0.42"/>
<polygon points="62.3,482.9 69.3,476.8 63.7,479.6 56.8,485.8" fill="#30f8e2" stroke="#151510" stroke-opacity="0.85" stroke-width="0.42"/>
<polygon points="75.0,474.2 81.8,468.5 76.1,471.0 69.3,476.8" fill="#45fb93" stroke="#151510" stroke-opacity="0.85" stroke-width="0.42"/>
<polygon points="87.7,466.2 94.5,460.8 88.7,463.0 81.8,468.5" fill="#55fd55" stroke="#151510" stroke-opacity="0.85" stroke-width="0.42"/>
<polygon points="100.5,458.8 107.3,453.7 101.3,455.6 94.5,460.8" fill="#92ff51" stroke="#151510" stroke-opacity="0.85" stroke-width="0.42"/>
<polygon points="126.4,445.8 133.1,441.4 126.9,442.7 120.2,447.2" fill="#fffd53" stroke="#151510" stroke-opacity="0.85" stroke-width="0.42"/>
<polygon points="139.4,440.3 146.1,436.2 139.8,437.2 133.1,441.4" fill="#ffca44" stroke="#151510" stroke-opacity="0.85" stroke-width="0.42"/>
<polygon points="165.7,431.3 172.2,427.9 165.7,428.2 159.1,431.7" fill="#ff642e" stroke="#151510" stroke-opacity="0.85" stroke-width="0.42"/>
<polygon points="192.1,425.0 198.5,422.2 191.8,421.8 185.4,424.7" fill="#ff302d" stroke="#151510" stroke-opacity="0.85" stroke-width="0.42"/>
<polygon points="205.3,422.9 211.6,420.4 204.8,419.6 198.5,422.2" fill="#ff302c" stroke="#151510" stroke-opacity="0.85" stroke-width="0.42"/>
<polygon points="231.8,420.7 237.9,418.8 231.0,417.3 224.8,419.3" fill="#ff302c" stroke="#151510" stroke-opacity="0.85" stroke-width="0.42"/>
<polygon points="245.0,420.6 251.1,419.1 244.0,417.2 237.9,418.8" fill="#fe302c" stroke="#151510" stroke-opacity="0.85" stroke-width="0.42"/>
<polygon points="258.2,421.2 264.2,420.0 257.0,417.7 251.1,419.1" fill="#fa302c" stroke="#151510" stroke-opacity="0.85" stroke-width="0.42"/>
<polygon points="271.4,422.5 277.2,421.6 270.0,418.9 264.2,420.0" fill="#f6302c" stroke="#151510" stroke-opacity="0.85" stroke-width="0.42"/>
<polygon points="55.3,489.1 62.3,482.9 56.8,485.8 49.8,492.1" fill="#27ddf3" stroke="#151510" stroke-opacity="0.85" stroke-width="0.42"/>
<polygon points="80.8,471.8 87.7,466.2 81.8,468.5 75.0,474.2" fill="#50fc6f" stroke="#151510" stroke-opacity="0.85" stroke-width="0.42"/>
<polygon points="106.6,456.9 113.4,452.0 107.3,453.7 100.5,458.8" fill="#b5ff53" stroke="#151510" stroke-opacity="0.85" stroke-width="0.42"/>
<polygon points="119.6,450.5 126.4,445.8 120.2,447.2 113.4,452.0" fill="#ecff56" stroke="#151510" stroke-opacity="0.85" stroke-width="0.42"/>
<polygon points="145.8,439.5 152.5,435.5 146.1,436.2 139.4,440.3" fill="#ffab3c" stroke="#151510" stroke-opacity="0.85" stroke-width="0.42"/>
<polygon points="159.1,435.0 165.7,431.3 159.1,431.7 152.5,435.5" fill="#ff772f" stroke="#151510" stroke-opacity="0.85" stroke-width="0.42"/>
<polygon points="172.3,431.2 178.9,427.8 172.2,427.9 165.7,431.3" fill="#ff4e2d" stroke="#151510" stroke-opacity="0.85" stroke-width="0.42"/>
<polygon points="185.6,428.0 192.1,425.0 185.4,424.7 178.9,427.8" fill="#ff312d" stroke="#151510" stroke-opacity="0.85" stroke-width="0.42"/>
<polygon points="212.2,423.8 218.6,421.4 211.6,420.4 205.3,422.9" fill="#ff302c" stroke="#151510" stroke-opacity="0.85" stroke-width="0.42"/>
<polygon points="225.6,422.7 231.8,420.7 224.8,419.3 218.6,421.4" fill="#ff302c" stroke="#151510" stroke-opacity="0.85" stroke-width="0.42"/>
<polygon points="252.2,422.6 258.2,421.2 251.1,419.1 245.0,420.6" fill="#fc302c" stroke="#151510" stroke-opacity="0.85" stroke-width="0.42"/>
<polygon points="278.7,425.3 284.5,424.5 277.2,421.6 271.4,422.5" fill="#f4302c" stroke="#151510" stroke-opacity="0.85" stroke-width="0.42"/>
<polygon points="68.0,480.1 75.0,474.2 69.3,476.8 62.3,482.9" fill="#3cfab3" stroke="#151510" stroke-opacity="0.85" stroke-width="0.42"/>
<polygon points="93.6,464.0 100.5,458.8 94.5,460.8 87.7,466.2" fill="#76fe50" stroke="#151510" stroke-opacity="0.85" stroke-width="0.42"/>
<polygon points="132.7,444.6 139.4,440.3 133.1,441.4 126.4,445.8" fill="#ffe04a" stroke="#151510" stroke-opacity="0.85" stroke-width="0.42"/>
<polygon points="198.9,425.6 205.3,422.9 198.5,422.2 192.1,425.0" fill="#ff302c" stroke="#151510" stroke-opacity="0.85" stroke-width="0.42"/>
<polygon points="238.9,422.3 245.0,420.6 237.9,418.8 231.8,420.7" fill="#ff302c" stroke="#151510" stroke-opacity="0.85" stroke-width="0.42"/>
<polygon points="265.4,423.6 271.4,422.5 264.2,420.0 258.2,421.2" fill="#f8302c" stroke="#151510" stroke-opacity="0.85" stroke-width="0.42"/>
<polygon points="73.8,477.6 80.8,471.8 75.0,474.2 68.0,480.1" fill="#48fb8b" stroke="#151510" stroke-opacity="0.85" stroke-width="0.42"/>
<polygon points="99.6,462.1 106.6,456.9 100.5,458.8 93.6,464.0" fill="#9aff52" stroke="#151510" stroke-opacity="0.85" stroke-width="0.42"/>
<polygon points="165.7,434.7 172.3,431.2 165.7,431.3 159.1,435.0" fill="#ff5e2e" stroke="#151510" stroke-opacity="0.85" stroke-width="0.42"/>
<polygon points="232.7,424.3 238.9,422.3 231.8,420.7 225.6,422.7" fill="#ff302c" stroke="#151510" stroke-opacity="0.85" stroke-width="0.42"/>
<polygon points="259.4,424.9 265.4,423.6 258.2,421.2 252.2,422.6" fill="#fa302c" stroke="#151510" stroke-opacity="0.85" stroke-width="0.42"/>
<polygon points="61.0,486.3 68.0,480.1 62.3,482.9 55.3,489.1" fill="#33f8d8" stroke="#151510" stroke-opacity="0.85" stroke-width="0.42"/>
<polygon points="86.7,469.6 93.6,464.0 87.7,466.2 80.8,471.8" fill="#57fd4f" stroke="#151510" stroke-opacity="0.85" stroke-width="0.42"/>
<polygon points="112.7,455.3 119.6,450.5 113.4,452.0 106.6,456.9" fill="#d5ff55" stroke="#151510" stroke-opacity="0.85" stroke-width="0.42"/>
<polygon points="125.9,449.2 132.7,444.6 126.4,445.8 119.6,450.5" fill="#fff651" stroke="#151510" stroke-opacity="0.85" stroke-width="0.42"/>
<polygon points="139.1,443.7 145.8,439.5 139.4,440.3 132.7,444.6" fill="#ffc242" stroke="#151510" stroke-opacity="0.85" stroke-width="0.42"/>
<polygon points="152.4,438.8 159.1,435.0 152.5,435.5 145.8,439.5" fill="#ff8d35" stroke="#151510" stroke-opacity="0.85" stroke-width="0.42"/>
<polygon points="179.0,431.2 185.6,428.0 178.9,427.8 172.3,431.2" fill="#ff392d" stroke="#151510" stroke-opacity="0.85" stroke-width="0.42"/>
<polygon points="192.4,428.4 198.9,425.6 192.1,425.0 185.6,428.0" fill="#ff302c" stroke="#151510" stroke-opacity="0.85" stroke-width="0.42"/>
<polygon points="205.8,426.4 212.2,423.8 205.3,422.9 198.9,425.6" fill="#ff302c" stroke="#151510" stroke-opacity="0.85" stroke-width="0.42"/>
<polygon points="219.3,425.0 225.6,422.7 218.6,421.4 212.2,423.8" fill="#ff302c" stroke="#151510" stroke-opacity="0.85" stroke-width="0.42"/>
<polygon points="246.1,424.2 252.2,422.6 245.0,420.6 238.9,422.3" fill="#fd302c" stroke="#151510" stroke-opacity="0.85" stroke-width="0.42"/>
<polygon points="272.8,426.3 278.7,425.3 271.4,422.5 265.4,423.6" fill="#f6302c" stroke="#151510" stroke-opacity="0.85" stroke-width="0.42"/>
<polygon points="66.7,483.7 73.8,477.6 68.0,480.1 61.0,486.3" fill="#3ffaaa" stroke="#151510" stroke-opacity="0.85" stroke-width="0.42"/>
<polygon points="79.6,475.3 86.7,469.6 80.8,471.8 73.8,477.6" fill="#53fd69" stroke="#151510" stroke-opacity="0.85" stroke-width="0.42"/>
<polygon points="92.7,467.5 99.6,462.1 93.6,464.0 86.7,469.6" fill="#7eff50" stroke="#151510" stroke-opacity="0.85" stroke-width="0.42"/>
<polygon points="105.8,460.4 112.7,455.3 106.6,456.9 99.6,462.1" fill="#bcff53" stroke="#151510" stroke-opacity="0.85" stroke-width="0.42"/>
<polygon points="132.2,448.1 139.1,443.7 132.7,444.6 125.9,449.2" fill="#ffd948" stroke="#151510" stroke-opacity="0.85" stroke-width="0.42"/>
<polygon points="159.0,438.4 165.7,434.7 159.1,435.0 152.4,438.8" fill="#ff702e" stroke="#151510" stroke-opacity="0.85" stroke-width="0.42"/>
<polygon points="172.4,434.6 179.0,431.2 172.3,431.2 165.7,434.7" fill="#ff482d" stroke="#151510" stroke-opacity="0.85" stroke-width="0.42"/>
<polygon points="199.4,429.1 205.8,426.4 198.9,425.6 192.4,428.4" fill="#ff302c" stroke="#151510" stroke-opacity="0.85" stroke-width="0.42"/>
<polygon points="226.4,426.4 232.7,424.3 225.6,422.7 219.3,425.0" fill="#ff302c" stroke="#151510" stroke-opacity="0.85" stroke-width="0.42"/>
<polygon points="239.8,426.1 246.1,424.2 238.9,422.3 232.7,424.3" fill="#ff302c" stroke="#151510" stroke-opacity="0.85" stroke-width="0.42"/>
<polygon points="253.3,426.4 259.4,424.9 252.2,422.6 246.1,424.2" fill="#fc302c" stroke="#151510" stroke-opacity="0.85" stroke-width="0.42"/>
<polygon points="266.7,427.5 272.8,426.3 265.4,423.6 259.4,424.9" fill="#f8302c" stroke="#151510" stroke-opacity="0.85" stroke-width="0.42"/>
<polygon points="119.0,453.9 125.9,449.2 119.6,450.5 112.7,455.3" fill="#f2ff56" stroke="#151510" stroke-opacity="0.85" stroke-width="0.42"/>
<polygon points="145.6,442.9 152.4,438.8 145.8,439.5 139.1,443.7" fill="#ffa43a" stroke="#151510" stroke-opacity="0.85" stroke-width="0.42"/>
<polygon points="185.9,431.5 192.4,428.4 185.6,428.0 179.0,431.2" fill="#ff312d" stroke="#151510" stroke-opacity="0.85" stroke-width="0.42"/>
<polygon points="212.9,427.4 219.3,425.0 212.2,423.8 205.8,426.4" fill="#ff302c" stroke="#151510" stroke-opacity="0.85" stroke-width="0.42"/>
<polygon points="72.5,481.2 79.6,475.3 73.8,477.6 66.7,483.7" fill="#4afc83" stroke="#151510" stroke-opacity="0.85" stroke-width="0.42"/>
<polygon points="85.6,473.1 92.7,467.5 86.7,469.6 79.6,475.3" fill="#5ffe4f" stroke="#151510" stroke-opacity="0.85" stroke-width="0.42"/>
<polygon points="98.8,465.7 105.8,460.4 99.6,462.1 92.7,467.5" fill="#a1ff52" stroke="#151510" stroke-opacity="0.85" stroke-width="0.42"/>
<polygon points="112.0,458.9 119.0,453.9 112.7,455.3 105.8,460.4" fill="#dbff55" stroke="#151510" stroke-opacity="0.85" stroke-width="0.42"/>
<polygon points="125.3,452.7 132.2,448.1 125.9,449.2 119.0,453.9" fill="#fff04f" stroke="#151510" stroke-opacity="0.85" stroke-width="0.42"/>
<polygon points="138.7,447.2 145.6,442.9 139.1,443.7 132.2,448.1" fill="#ffbc40" stroke="#151510" stroke-opacity="0.85" stroke-width="0.42"/>
<polygon points="152.2,442.4 159.0,438.4 152.4,438.8 145.6,442.9" fill="#ff8733" stroke="#151510" stroke-opacity="0.85" stroke-width="0.42"/>
<polygon points="165.7,438.3 172.4,434.6 165.7,434.7 159.0,438.4" fill="#ff592e" stroke="#151510" stroke-opacity="0.85" stroke-width="0.42"/>
<polygon points="179.2,434.8 185.9,431.5 179.0,431.2 172.4,434.6" fill="#ff352d" stroke="#151510" stroke-opacity="0.85" stroke-width="0.42"/>
<polygon points="192.8,432.1 199.4,429.1 192.4,428.4 185.9,431.5" fill="#ff302c" stroke="#151510" stroke-opacity="0.85" stroke-width="0.42"/>
<polygon points="206.4,430.0 212.9,427.4 205.8,426.4 199.4,429.1" fill="#ff302c" stroke="#151510" stroke-opacity="0.85" stroke-width="0.42"/>
<polygon points="220.0,428.7 226.4,426.4 219.3,425.0 212.9,427.4" fill="#ff302c" stroke="#151510" stroke-opacity="0.85" stroke-width="0.42"/>
<polygon points="233.5,428.1 239.8,426.1 232.7,424.3 226.4,426.4" fill="#ff302c" stroke="#151510" stroke-opacity="0.85" stroke-width="0.42"/>
<polygon points="247.1,428.1 253.3,426.4 246.1,424.2 239.8,426.1" fill="#fd302c" stroke="#151510" stroke-opacity="0.85" stroke-width="0.42"/>
<polygon points="260.7,428.9 266.7,427.5 259.4,424.9 253.3,426.4" fill="#fa302c" stroke="#151510" stroke-opacity="0.85" stroke-width="0.42"/>
<polygon points="78.5,479.0 85.6,473.1 79.6,475.3 72.5,481.2" fill="#54fd63" stroke="#151510" stroke-opacity="0.85" stroke-width="0.42"/>
<polygon points="145.3,446.6 152.2,442.4 145.6,442.9 138.7,447.2" fill="#ff9f39" stroke="#151510" stroke-opacity="0.85" stroke-width="0.42"/>
<polygon points="186.1,435.3 192.8,432.1 185.9,431.5 179.2,434.8" fill="#ff302d" stroke="#151510" stroke-opacity="0.85" stroke-width="0.42"/>
<polygon points="254.5,430.5 260.7,428.9 253.3,426.4 247.1,428.1" fill="#fb302c" stroke="#151510" stroke-opacity="0.85" stroke-width="0.42"/>
<polygon points="91.7,471.2 98.8,465.7 92.7,467.5 85.6,473.1" fill="#85ff51" stroke="#151510" stroke-opacity="0.85" stroke-width="0.42"/>
<polygon points="105.0,464.1 112.0,458.9 105.8,460.4 98.8,465.7" fill="#c2ff54" stroke="#151510" stroke-opacity="0.85" stroke-width="0.42"/>
<polygon points="118.4,457.6 125.3,452.7 119.0,453.9 112.0,458.9" fill="#f7ff56" stroke="#151510" stroke-opacity="0.85" stroke-width="0.42"/>
<polygon points="131.8,451.7 138.7,447.2 132.2,448.1 125.3,452.7" fill="#ffd447" stroke="#151510" stroke-opacity="0.85" stroke-width="0.42"/>
<polygon points="158.9,442.1 165.7,438.3 159.0,438.4 152.2,442.4" fill="#ff6b2e" stroke="#151510" stroke-opacity="0.85" stroke-width="0.42"/>
<polygon points="172.5,438.3 179.2,434.8 172.4,434.6 165.7,438.3" fill="#ff442d" stroke="#151510" stroke-opacity="0.85" stroke-width="0.42"/>
<polygon points="199.8,432.9 206.4,430.0 199.4,429.1 192.8,432.1" fill="#ff302c" stroke="#151510" stroke-opacity="0.85" stroke-width="0.42"/>
<polygon points="213.5,431.2 220.0,428.7 212.9,427.4 206.4,430.0" fill="#ff302c" stroke="#151510" stroke-opacity="0.85" stroke-width="0.42"/>
<polygon points="227.2,430.3 233.5,428.1 226.4,426.4 220.0,428.7" fill="#ff302c" stroke="#151510" stroke-opacity="0.85" stroke-width="0.42"/>
<polygon points="240.8,430.0 247.1,428.1 239.8,426.1 233.5,428.1" fill="#ff302c" stroke="#151510" stroke-opacity="0.85" stroke-width="0.42"/>
<polygon points="84.5,476.9 91.7,471.2 85.6,473.1 78.5,479.0" fill="#66fe4f" stroke="#151510" stroke-opacity="0.85" stroke-width="0.42"/>
<polygon points="111.3,462.6 118.4,457.6 112.0,458.9 105.0,464.1" fill="#e0ff55" stroke="#151510" stroke-opacity="0.85" stroke-width="0.42"/>
<polygon points="138.4,451.0 145.3,446.6 138.7,447.2 131.8,451.7" fill="#ffb73f" stroke="#151510" stroke-opacity="0.85" stroke-width="0.42"/>
<polygon points="152.0,446.2 158.9,442.1 152.2,442.4 145.3,446.6" fill="#ff8232" stroke="#151510" stroke-opacity="0.85" stroke-width="0.42"/>
<polygon points="179.4,438.7 186.1,435.3 179.2,434.8 172.5,438.3" fill="#ff322d" stroke="#151510" stroke-opacity="0.85" stroke-width="0.42"/>
<polygon points="193.2,436.0 199.8,432.9 192.8,432.1 186.1,435.3" fill="#ff302c" stroke="#151510" stroke-opacity="0.85" stroke-width="0.42"/>
<polygon points="220.7,432.7 227.2,430.3 220.0,428.7 213.5,431.2" fill="#ff302c" stroke="#151510" stroke-opacity="0.85" stroke-width="0.42"/>
<polygon points="248.2,432.2 254.5,430.5 247.1,428.1 240.8,430.0" fill="#fd302c" stroke="#151510" stroke-opacity="0.85" stroke-width="0.42"/>
<polygon points="97.9,469.5 105.0,464.1 98.8,465.7 91.7,471.2" fill="#a7ff52" stroke="#151510" stroke-opacity="0.85" stroke-width="0.42"/>
<polygon points="124.8,456.5 131.8,451.7 125.3,452.7 118.4,457.6" fill="#ffeb4d" stroke="#151510" stroke-opacity="0.85" stroke-width="0.42"/>
<polygon points="165.7,442.1 172.5,438.3 165.7,438.3 158.9,442.1" fill="#ff552d" stroke="#151510" stroke-opacity="0.85" stroke-width="0.42"/>
<polygon points="206.9,434.0 213.5,431.2 206.4,430.0 199.8,432.9" fill="#ff302c" stroke="#151510" stroke-opacity="0.85" stroke-width="0.42"/>
<polygon points="234.5,432.1 240.8,430.0 233.5,428.1 227.2,430.3" fill="#ff302c" stroke="#151510" stroke-opacity="0.85" stroke-width="0.42"/>
<polygon points="104.2,467.9 111.3,462.6 105.0,464.1 97.9,469.5" fill="#c7ff54" stroke="#151510" stroke-opacity="0.85" stroke-width="0.42"/>
<polygon points="131.3,455.6 138.4,451.0 131.8,451.7 124.8,456.5" fill="#ffcf45" stroke="#151510" stroke-opacity="0.85" stroke-width="0.42"/>
<polygon points="200.3,436.9 206.9,434.0 199.8,432.9 193.2,436.0" fill="#ff302c" stroke="#151510" stroke-opacity="0.85" stroke-width="0.42"/>
<polygon points="228.0,434.4 234.5,432.1 227.2,430.3 220.7,432.7" fill="#ff302c" stroke="#151510" stroke-opacity="0.85" stroke-width="0.42"/>
<polygon points="90.7,475.1 97.9,469.5 91.7,471.2 84.5,476.9" fill="#8aff51" stroke="#151510" stroke-opacity="0.85" stroke-width="0.42"/>
<polygon points="117.7,461.4 124.8,456.5 118.4,457.6 111.3,462.6" fill="#fcff55" stroke="#151510" stroke-opacity="0.85" stroke-width="0.42"/>
<polygon points="145.0,450.5 152.0,446.2 145.3,446.6 138.4,451.0" fill="#ff9a38" stroke="#151510" stroke-opacity="0.85" stroke-width="0.42"/>
<polygon points="158.8,446.0 165.7,442.1 158.9,442.1 152.0,446.2" fill="#ff682e" stroke="#151510" stroke-opacity="0.85" stroke-width="0.42"/>
<polygon points="172.6,442.3 179.4,438.7 172.5,438.3 165.7,442.1" fill="#ff422d" stroke="#151510" stroke-opacity="0.85" stroke-width="0.42"/>
<polygon points="186.4,439.2 193.2,436.0 186.1,435.3 179.4,438.7" fill="#ff302d" stroke="#151510" stroke-opacity="0.85" stroke-width="0.42"/>
<polygon points="214.1,435.3 220.7,432.7 213.5,431.2 206.9,434.0" fill="#ff302c" stroke="#151510" stroke-opacity="0.85" stroke-width="0.42"/>
<polygon points="241.8,434.2 248.2,432.2 240.8,430.0 234.5,432.1" fill="#ff302c" stroke="#151510" stroke-opacity="0.85" stroke-width="0.42"/>
<polygon points="96.9,473.5 104.2,467.9 97.9,469.5 90.7,475.1" fill="#acff53" stroke="#151510" stroke-opacity="0.85" stroke-width="0.42"/>
<polygon points="110.6,466.6 117.7,461.4 111.3,462.6 104.2,467.9" fill="#e4ff56" stroke="#151510" stroke-opacity="0.85" stroke-width="0.42"/>
<polygon points="124.2,460.5 131.3,455.6 124.8,456.5 117.7,461.4" fill="#ffe74c" stroke="#151510" stroke-opacity="0.85" stroke-width="0.42"/>
<polygon points="138.0,455.0 145.0,450.5 138.4,451.0 131.3,455.6" fill="#ffb33e" stroke="#151510" stroke-opacity="0.85" stroke-width="0.42"/>
<polygon points="165.7,446.1 172.6,442.3 165.7,442.1 158.8,446.0" fill="#ff532d" stroke="#151510" stroke-opacity="0.85" stroke-width="0.42"/>
<polygon points="193.5,440.1 200.3,436.9 193.2,436.0 186.4,439.2" fill="#ff302c" stroke="#151510" stroke-opacity="0.85" stroke-width="0.42"/>
<polygon points="207.5,438.1 214.1,435.3 206.9,434.0 200.3,436.9" fill="#ff302c" stroke="#151510" stroke-opacity="0.85" stroke-width="0.42"/>
<polygon points="221.4,436.9 228.0,434.4 220.7,432.7 214.1,435.3" fill="#ff302c" stroke="#151510" stroke-opacity="0.85" stroke-width="0.42"/>
<polygon points="235.4,436.3 241.8,434.2 234.5,432.1 228.0,434.4" fill="#ff302c" stroke="#151510" stroke-opacity="0.85" stroke-width="0.42"/>
<polygon points="151.8,450.2 158.8,446.0 152.0,446.2 145.0,450.5" fill="#ff7e31" stroke="#151510" stroke-opacity="0.85" stroke-width="0.42"/>
<polygon points="179.6,442.7 186.4,439.2 179.4,438.7 172.6,442.3" fill="#ff312d" stroke="#151510" stroke-opacity="0.85" stroke-width="0.42"/>
<polygon points="103.3,472.1 110.6,466.6 104.2,467.9 96.9,473.5" fill="#cbff54" stroke="#151510" stroke-opacity="0.85" stroke-width="0.42"/>
<polygon points="117.1,465.6 124.2,460.5 117.7,461.4 110.6,466.6" fill="#ffff54" stroke="#151510" stroke-opacity="0.85" stroke-width="0.42"/>
<polygon points="130.9,459.7 138.0,455.0 131.3,455.6 124.2,460.5" fill="#ffcc44" stroke="#151510" stroke-opacity="0.85" stroke-width="0.42"/>
<polygon points="158.7,450.2 165.7,446.1 158.8,446.0 151.8,450.2" fill="#ff662e" stroke="#151510" stroke-opacity="0.85" stroke-width="0.42"/>
<polygon points="172.7,446.4 179.6,442.7 172.6,442.3 165.7,446.1" fill="#ff402d" stroke="#151510" stroke-opacity="0.85" stroke-width="0.42"/>
<polygon points="200.7,441.1 207.5,438.1 200.3,436.9 193.5,440.1" fill="#ff302c" stroke="#151510" stroke-opacity="0.85" stroke-width="0.42"/>
<polygon points="214.8,439.6 221.4,436.9 214.1,435.3 207.5,438.1" fill="#ff302c" stroke="#151510" stroke-opacity="0.85" stroke-width="0.42"/>
<polygon points="228.8,438.7 235.4,436.3 228.0,434.4 221.4,436.9" fill="#ff302c" stroke="#151510" stroke-opacity="0.85" stroke-width="0.42"/>
<polygon points="144.8,454.6 151.8,450.2 145.0,450.5 138.0,455.0" fill="#ff9737" stroke="#151510" stroke-opacity="0.85" stroke-width="0.42"/>
<polygon points="186.7,443.4 193.5,440.1 186.4,439.2 179.6,442.7" fill="#ff302d" stroke="#151510" stroke-opacity="0.85" stroke-width="0.42"/>
<polygon points="109.8,470.9 117.1,465.6 110.6,466.6 103.3,472.1" fill="#e7ff56" stroke="#151510" stroke-opacity="0.85" stroke-width="0.42"/>
<polygon points="222.2,441.3 228.8,438.7 221.4,436.9 214.8,439.6" fill="#ff302c" stroke="#151510" stroke-opacity="0.85" stroke-width="0.42"/>
<polygon points="123.7,464.7 130.9,459.7 124.2,460.5 117.1,465.6" fill="#ffe44b" stroke="#151510" stroke-opacity="0.85" stroke-width="0.42"/>
<polygon points="151.6,454.4 158.7,450.2 151.8,450.2 144.8,454.6" fill="#ff7c31" stroke="#151510" stroke-opacity="0.85" stroke-width="0.42"/>
<polygon points="165.7,450.4 172.7,446.4 165.7,446.1 158.7,450.2" fill="#ff522d" stroke="#151510" stroke-opacity="0.85" stroke-width="0.42"/>
<polygon points="179.8,447.0 186.7,443.4 179.6,442.7 172.7,446.4" fill="#ff312d" stroke="#151510" stroke-opacity="0.85" stroke-width="0.42"/>
<polygon points="208.0,442.5 214.8,439.6 207.5,438.1 200.7,441.1" fill="#ff302c" stroke="#151510" stroke-opacity="0.85" stroke-width="0.42"/>
<polygon points="137.6,459.2 144.8,454.6 138.0,455.0 130.9,459.7" fill="#ffb03d" stroke="#151510" stroke-opacity="0.85" stroke-width="0.42"/>
<polygon points="193.9,444.4 200.7,441.1 193.5,440.1 186.7,443.4" fill="#ff302c" stroke="#151510" stroke-opacity="0.85" stroke-width="0.42"/>
<polygon points="116.4,469.9 123.7,464.7 117.1,465.6 109.8,470.9" fill="#fffd53" stroke="#151510" stroke-opacity="0.85" stroke-width="0.42"/>
<polygon points="144.5,459.0 151.6,454.4 144.8,454.6 137.6,459.2" fill="#ff9536" stroke="#151510" stroke-opacity="0.85" stroke-width="0.42"/>
<polygon points="158.6,454.5 165.7,450.4 158.7,450.2 151.6,454.4" fill="#ff652e" stroke="#151510" stroke-opacity="0.85" stroke-width="0.42"/>
<polygon points="172.8,450.8 179.8,447.0 172.7,446.4 165.7,450.4" fill="#ff402d" stroke="#151510" stroke-opacity="0.85" stroke-width="0.42"/>
<polygon points="187.0,447.9 193.9,444.4 186.7,443.4 179.8,447.0" fill="#ff302d" stroke="#151510" stroke-opacity="0.85" stroke-width="0.42"/>
<polygon points="215.5,444.1 222.2,441.3 214.8,439.6 208.0,442.5" fill="#ff302c" stroke="#151510" stroke-opacity="0.85" stroke-width="0.42"/>
<polygon points="130.4,464.1 137.6,459.2 130.9,459.7 123.7,464.7" fill="#ffc944" stroke="#151510" stroke-opacity="0.85" stroke-width="0.42"/>
<polygon points="201.2,445.6 208.0,442.5 200.7,441.1 193.9,444.4" fill="#ff302c" stroke="#151510" stroke-opacity="0.85" stroke-width="0.42"/>
<polygon points="137.2,463.7 144.5,459.0 137.6,459.2 130.4,464.1" fill="#ffaf3d" stroke="#151510" stroke-opacity="0.85" stroke-width="0.42"/>
<polygon points="194.3,449.0 201.2,445.6 193.9,444.4 187.0,447.9" fill="#ff302c" stroke="#151510" stroke-opacity="0.85" stroke-width="0.42"/>
<polygon points="123.1,469.2 130.4,464.1 123.7,464.7 116.4,469.9" fill="#ffe34b" stroke="#151510" stroke-opacity="0.85" stroke-width="0.42"/>
<polygon points="151.4,458.9 158.6,454.5 151.6,454.4 144.5,459.0" fill="#ff7b30" stroke="#151510" stroke-opacity="0.85" stroke-width="0.42"/>
<polygon points="165.7,454.9 172.8,450.8 165.7,450.4 158.6,454.5" fill="#ff522d" stroke="#151510" stroke-opacity="0.85" stroke-width="0.42"/>
<polygon points="180.0,451.6 187.0,447.9 179.8,447.0 172.8,450.8" fill="#ff312d" stroke="#151510" stroke-opacity="0.85" stroke-width="0.42"/>
<polygon points="208.6,447.1 215.5,444.1 208.0,442.5 201.2,445.6" fill="#ff302c" stroke="#151510" stroke-opacity="0.85" stroke-width="0.42"/>
<polygon points="129.9,468.7 137.2,463.7 130.4,464.1 123.1,469.2" fill="#ffc843" stroke="#151510" stroke-opacity="0.85" stroke-width="0.42"/>
<polygon points="144.2,463.6 151.4,458.9 144.5,459.0 137.2,463.7" fill="#ff9536" stroke="#151510" stroke-opacity="0.85" stroke-width="0.42"/>
<polygon points="187.3,452.6 194.3,449.0 187.0,447.9 180.0,451.6" fill="#ff302d" stroke="#151510" stroke-opacity="0.85" stroke-width="0.42"/>
<polygon points="201.7,450.4 208.6,447.1 201.2,445.6 194.3,449.0" fill="#ff302c" stroke="#151510" stroke-opacity="0.85" stroke-width="0.42"/>
<polygon points="158.5,459.2 165.7,454.9 158.6,454.5 151.4,458.9" fill="#ff652e" stroke="#151510" stroke-opacity="0.85" stroke-width="0.42"/>
<polygon points="172.9,455.5 180.0,451.6 172.8,450.8 165.7,454.9" fill="#ff412d" stroke="#151510" stroke-opacity="0.85" stroke-width="0.42"/>
<polygon points="136.8,468.4 144.2,463.6 137.2,463.7 129.9,468.7" fill="#ffaf3d" stroke="#151510" stroke-opacity="0.85" stroke-width="0.42"/>
<polygon points="151.2,463.7 158.5,459.2 151.4,458.9 144.2,463.6" fill="#ff7c31" stroke="#151510" stroke-opacity="0.85" stroke-width="0.42"/>
<polygon points="165.7,459.7 172.9,455.5 165.7,454.9 158.5,459.2" fill="#ff532d" stroke="#151510" stroke-opacity="0.85" stroke-width="0.42"/>
<polygon points="180.2,456.4 187.3,452.6 180.0,451.6 172.9,455.5" fill="#ff332d" stroke="#151510" stroke-opacity="0.85" stroke-width="0.42"/>
<polygon points="194.7,453.8 201.7,450.4 194.3,449.0 187.3,452.6" fill="#ff302c" stroke="#151510" stroke-opacity="0.85" stroke-width="0.42"/>
<polygon points="158.4,464.1 165.7,459.7 158.5,459.2 151.2,463.7" fill="#ff672e" stroke="#151510" stroke-opacity="0.85" stroke-width="0.42"/>
<polygon points="173.0,460.4 180.2,456.4 172.9,455.5 165.7,459.7" fill="#ff432d" stroke="#151510" stroke-opacity="0.85" stroke-width="0.42"/>
<polygon points="143.9,468.4 151.2,463.7 144.2,463.6 136.8,468.4" fill="#ff9637" stroke="#151510" stroke-opacity="0.85" stroke-width="0.42"/>
<polygon points="187.6,457.5 194.7,453.8 187.3,452.6 180.2,456.4" fill="#ff312d" stroke="#151510" stroke-opacity="0.85" stroke-width="0.42"/>
<polygon points="165.7,464.7 173.0,460.4 165.7,459.7 158.4,464.1" fill="#ff552d" stroke="#151510" stroke-opacity="0.85" stroke-width="0.42"/>
<polygon points="151.0,468.7 158.4,464.1 151.2,463.7 143.9,468.4" fill="#ff7e31" stroke="#151510" stroke-opacity="0.85" stroke-width="0.42"/>
<polygon points="180.4,461.4 187.6,457.5 180.2,456.4 173.0,460.4" fill="#ff362d" stroke="#151510" stroke-opacity="0.85" stroke-width="0.42"/>
<polygon points="158.3,469.2 165.7,464.7 158.4,464.1 151.0,468.7" fill="#ff692e" stroke="#151510" stroke-opacity="0.85" stroke-width="0.42"/>
<polygon points="173.1,465.6 180.4,461.4 173.0,460.4 165.7,464.7" fill="#ff472d" stroke="#151510" stroke-opacity="0.85" stroke-width="0.42"/>
<polygon points="165.7,470.0 173.1,465.6 165.7,464.7 158.3,469.2" fill="#ff592e" stroke="#151510" stroke-opacity="0.85" stroke-width="0.42"/>
<circle cx="39.1" cy="498.6" r="2.7" fill="#f6c9c9" stroke="#b88" stroke-width="0.5"/>
<circle cx="165.7" cy="470.0" r="2.7" fill="#a8100c" stroke="#7a0a08" stroke-width="0.4"/>
<circle cx="295.9" cy="423.4" r="2.7" fill="#a8100c" stroke="#7a0a08" stroke-width="0.4"/>
<circle cx="165.7" cy="428.2" r="2.7" fill="#a8100c" stroke="#7a0a08" stroke-width="0.4"/>
</g>
<text x="30.9" y="391.0" font-size="5.4" text-anchor="end" fill="#262626"  textLength="7.6" lengthAdjust="spacingAndGlyphs">120</text>
<text x="32.2" y="416.8" font-size="5.4" text-anchor="end" fill="#262626"  textLength="7.6" lengthAdjust="spacingAndGlyphs">100</text>
<text x="33.4" y="442.5" font-size="5.4" text-anchor="end" fill="#262626"  textLength="5.0" lengthAdjust="spacingAndGlyphs">80</text>
<text x="34.7" y="468.3" font-size="5.4" text-anchor="end" fill="#262626"  textLength="5.0" lengthAdjust="spacingAndGlyphs">60</text>
<text x="35.9" y="494.1" font-size="5.4" text-anchor="end" fill="#262626"  textLength="5.0" lengthAdjust="spacingAndGlyphs">40</text>
<text x="37.2" y="519.9" font-size="5.4" text-anchor="end" fill="#262626"  textLength="5.0" lengthAdjust="spacingAndGlyphs">20</text>
<text x="39.3" y="566.9" font-size="5.4" text-anchor="end" fill="#262626"  textLength="7.6" lengthAdjust="spacingAndGlyphs">150</text>
<text x="64.0" y="578.7" font-size="5.4" text-anchor="end" fill="#262626"  textLength="7.6" lengthAdjust="spacingAndGlyphs">130</text>
<text x="88.7" y="590.5" font-size="5.4" text-anchor="end" fill="#262626"  textLength="7.2" lengthAdjust="spacingAndGlyphs">110</text>
<text x="113.5" y="602.3" font-size="5.4" text-anchor="end" fill="#262626"  textLength="5.0" lengthAdjust="spacingAndGlyphs">90</text>
<text x="138.2" y="614.1" font-size="5.4" text-anchor="end" fill="#262626"  textLength="5.0" lengthAdjust="spacingAndGlyphs">70</text>
<text x="162.9" y="625.9" font-size="5.4" text-anchor="end" fill="#262626"  textLength="5.0" lengthAdjust="spacingAndGlyphs">50</text>
<text x="168.3" y="625.9" font-size="5.4" text-anchor="start" fill="#262626" >2</text>
<text x="199.2" y="611.1" font-size="5.4" text-anchor="start" fill="#262626" >3</text>
<text x="230.0" y="596.4" font-size="5.4" text-anchor="start" fill="#262626" >4</text>
<text x="260.9" y="581.6" font-size="5.4" text-anchor="start" fill="#262626" >5</text>
<text x="291.7" y="566.9" font-size="5.4" text-anchor="start" fill="#262626" >6</text>
<text x="72.2" y="602.7" font-size="6.0" text-anchor="middle" fill="#262626"  textLength="49.0" lengthAdjust="spacingAndGlyphs">C: Cu2+ dose (mg/L)</text>
<text x="258.6" y="602.0" font-size="6.0" text-anchor="middle" fill="#262626"  textLength="43.7" lengthAdjust="spacingAndGlyphs">A: NSM dose (g/L)</text>
<text x="8.7" y="482.5" font-size="5.9" text-anchor="middle" fill="#262626" transform="rotate(-90 8.7 482.5)"  textLength="53.5" lengthAdjust="spacingAndGlyphs">Cu2+ ions removal (%)</text>
<defs><linearGradient id="lg2" x1="0" x2="0" y1="1" y2="0"><stop offset="0" stop-color="#0000f0"/><stop offset="0.12" stop-color="#0010e0"/><stop offset="0.5" stop-color="#00d818"/><stop offset="0.9" stop-color="#e01000"/><stop offset="1" stop-color="#d80000"/></linearGradient></defs>
<rect x="15.6" y="473" width="7.0" height="18.9" fill="url(#lg2)"/>
<text x="20.9" y="497.2" font-size="5.3" text-anchor="end" fill="#2a2aa0" transform="rotate(-90 20.9 497.2)"  textLength="9.2" lengthAdjust="spacingAndGlyphs">38.6</text>
<text x="20.9" y="470.6" font-size="5.3" text-anchor="start" fill="#b02020" transform="rotate(-90 20.9 470.6)"  textLength="12.6" lengthAdjust="spacingAndGlyphs">97.48</text>
<g stroke-linejoin="round" stroke-linecap="round">
<path d="M33.9 729.6L40.2 859.5M60.4 723.5L65.4 850.7M86.9 717.5L90.6 842.0M113.3 711.4L115.8 833.3M139.8 705.4L141.1 824.5M166.3 699.3L166.3 815.8M192.8 705.4L191.5 824.5M219.3 711.4L216.8 833.3M245.8 717.5L242.0 842.0M272.3 723.5L267.3 850.8M298.8 729.6L292.5 859.5M33.9 729.6L166.3 699.3M166.3 699.3L298.8 729.6M35.2 755.6L166.3 722.6M166.3 722.6L297.5 755.6M36.4 781.5L166.3 745.9M166.3 745.9L296.3 781.6M37.7 807.5L166.3 769.2M166.3 769.2L295.0 807.6M38.9 833.5L166.3 792.5M166.3 792.5L293.8 833.6M40.2 859.5L166.3 815.8M166.3 815.8L292.5 859.5M40.2 859.5L42.1 899.8M292.5 859.5L290.6 899.9M166.3 815.8L166.3 853.2" stroke="#4a4a4a" stroke-width="0.55" fill="none"/>
<polygon points="166.3,959.3 290.6,899.9 166.3,853.2 42.1,899.8" fill="#616161" stroke="#333" stroke-width="0.5"/>
<polyline points="55.0,906.0 56.0,904.9 56.8,903.9 57.4,903.2 58.1,902.4 59.3,901.2 60.0,900.5 60.7,899.8 61.9,898.6 62.7,897.9 63.4,897.2 64.8,896.0 65.6,895.4 66.7,894.4 67.8,893.6 68.6,892.9 70.1,891.8 70.8,891.3 72.4,890.1 73.2,889.6 74.8,888.5 75.6,888.0 77.3,886.9 78.4,886.2 78.4,886.2" fill="none" stroke="#2ccb53" stroke-width="1.1"/>
<polyline points="146.5,860.6 147.7,860.3 150.2,859.8 151.4,859.6 153.9,859.1 155.1,858.8 157.6,858.4 158.9,858.1 161.4,857.7 162.7,857.4 165.3,857.0 166.6,856.8 168.7,856.5 170.6,856.2 171.9,856.0 173.3,855.8" fill="none" stroke="#2ccb53" stroke-width="1.1"/>
<polyline points="70.5,913.4 70.9,912.6 71.4,911.8 71.9,911.0 72.7,909.9 73.4,908.8 74.0,908.0 74.5,907.3 75.3,906.3 76.2,905.2 76.8,904.5 77.5,903.8 78.6,902.6 79.4,901.8 80.0,901.1 81.3,899.9 82.0,899.2 82.8,898.5 84.2,897.3 84.9,896.7 86.3,895.6 87.1,894.9 88.4,894.0 89.4,893.2 90.7,892.3 91.8,891.6 93.4,890.5 94.2,889.9 95.9,888.9 96.7,888.4 98.4,887.4 100.1,886.4 101.0,885.9 102.8,884.9 104.6,884.0 105.5,883.5 107.3,882.6 109.2,881.7 111.1,880.8 113.0,879.9 114.0,879.5 115.9,878.7 117.9,877.8 119.9,877.0 121.9,876.2 124.0,875.5 126.1,874.7 128.2,874.0 130.3,873.3 131.4,872.9 133.5,872.2 135.7,871.5 138.0,870.8 140.2,870.2 141.3,869.9 143.6,869.2 145.9,868.6 147.1,868.3 149.4,867.7 151.8,867.2 153.0,866.9 155.4,866.3 157.1,865.9 159.1,865.5 161.3,865.1 162.9,864.8 165.2,864.3 166.7,864.0 168.9,863.6 170.6,863.3 172.3,863.0 174.5,862.7 175.9,862.5 178.6,862.0 179.9,861.8 181.7,861.6 184.1,861.3 185.5,861.1 186.9,860.9" fill="none" stroke="#62cb32" stroke-width="1.1"/>
<polyline points="90.3,922.9 90.5,922.0 90.7,921.0 91.0,920.1 91.3,919.2 91.6,918.3 91.9,917.5 92.3,916.6 92.7,915.5 93.3,914.4 93.8,913.4 94.3,912.6 94.7,911.8 95.2,911.0 96.0,909.8 96.7,908.8 97.3,908.1 97.8,907.4 98.8,906.2 99.6,905.3 100.2,904.6 101.3,903.5 102.1,902.7 102.8,902.0 104.1,900.8 104.8,900.1 106.0,899.2 107.0,898.3 108.0,897.5 109.2,896.6 110.3,895.8 111.6,894.9 113.0,893.9 114.0,893.3 115.6,892.2 116.5,891.7 118.2,890.7 119.9,889.7 120.8,889.2 122.6,888.3 124.4,887.3 126.3,886.4 127.5,885.8 129.1,885.1 131.1,884.2 133.0,883.4 135.0,882.5 137.1,881.7 139.1,880.9 141.2,880.2 143.4,879.4 145.5,878.7 146.7,878.3 148.8,877.6 151.0,876.9 153.3,876.3 155.2,875.7 156.8,875.3 159.1,874.7 161.2,874.1 162.7,873.8 165.1,873.2 166.3,872.9 168.8,872.4 170.5,872.0 172.6,871.6 174.5,871.2 176.5,870.8 178.1,870.5 180.5,870.1 181.8,869.9 184.5,869.4 185.9,869.2 187.9,868.9 190.1,868.6 191.5,868.4 193.7,868.1 195.8,867.9 197.3,867.7 199.2,867.5 201.8,867.2 203.3,867.1 203.3,867.1" fill="none" stroke="#bacb32" stroke-width="1.1"/>
<polyline points="121.4,937.8 120.9,936.9 120.5,936.1 120.0,935.0 119.6,933.7 119.3,932.8 119.0,931.9 118.8,931.1 118.6,930.1 118.4,928.9 118.2,927.9 118.2,926.8 118.1,925.7 118.2,924.7 118.2,923.8 118.3,922.8 118.5,921.8 118.6,920.9 118.9,920.0 119.1,919.1 119.4,918.3 119.7,917.4 120.0,916.6 120.4,915.6 121.0,914.4 121.6,913.4 122.0,912.6 122.5,911.9 123.1,910.9 124.0,909.7 124.5,909.0 125.1,908.3 126.2,907.0 126.9,906.3 127.5,905.6 128.8,904.3 129.5,903.7 130.8,902.5 131.6,901.9 133.0,900.8 133.8,900.2 135.4,899.0 136.2,898.5 137.8,897.4 138.8,896.7 140.3,895.8 142.0,894.8 143.6,893.9 144.7,893.4 146.6,892.4 148.4,891.5 150.4,890.6 152.3,889.7 154.4,888.9 156.4,888.1 158.5,887.3 160.6,886.5 162.8,885.8 165.0,885.0 167.3,884.3 168.4,884.0 170.8,883.3 173.1,882.7 174.3,882.3 176.7,881.7 179.1,881.2 180.5,880.8 183.0,880.3 184.3,880.0 186.9,879.5 188.3,879.2 190.9,878.7 192.3,878.5 194.3,878.2 196.5,877.8 197.9,877.6 200.4,877.3 202.3,877.0 203.8,876.9 206.0,876.6 208.3,876.3 209.9,876.2 211.4,876.0 213.7,875.8 216.1,875.6 217.9,875.5 219.6,875.4 221.3,875.3 223.0,875.2 224.7,875.1" fill="none" stroke="#d99432" stroke-width="1.25"/>
<polyline points="182.8,951.4 180.4,950.3 178.1,949.3 175.8,948.1 173.7,947.0 171.6,945.8 169.7,944.6 168.8,943.9 167.0,942.7 165.6,941.6 164.5,940.7 163.0,939.3 162.2,938.6 161.1,937.4 160.2,936.4 159.6,935.7 158.5,934.2 158.0,933.4 157.5,932.6 156.8,931.4 156.3,930.2 155.9,929.4 155.6,928.5 155.4,927.7 155.1,926.6 154.9,925.5 154.8,924.5 154.8,923.5 154.8,922.6 154.9,921.6 155.0,920.7 155.2,919.8 155.4,919.0 155.7,917.9 156.2,916.8 156.7,915.7 157.1,914.9 157.5,914.2 158.2,913.2 159.0,912.0 159.6,911.4 160.4,910.4 161.3,909.4 162.0,908.7 163.3,907.5 164.0,906.9 165.5,905.7 166.3,905.2 167.8,904.1 169.5,903.0 170.4,902.5 172.1,901.5 173.9,900.5 175.8,899.5 177.8,898.6 179.8,897.8 181.9,896.9 184.1,896.1 186.3,895.4 188.6,894.6 190.4,894.1 192.1,893.6 194.5,892.9 196.0,892.6 198.3,892.0 200.4,891.5 202.3,891.1 204.2,890.8 206.5,890.4 207.9,890.1 210.8,889.7 212.3,889.5 213.8,889.3 216.6,888.9 218.5,888.7 220.1,888.6 221.9,888.4 224.3,888.2 226.7,888.1 228.6,888.0 230.4,887.9 232.2,887.8 234.1,887.8 236.0,887.7 238.0,887.7 240.0,887.7 242.1,887.7 244.2,887.8 246.4,887.8 248.6,887.9 250.9,888.1 252.7,888.2 254.4,888.3 256.1,888.4 258.6,888.7 261.1,888.9 261.4,888.9" fill="none" stroke="#d93c32" stroke-width="1.9"/>
<circle cx="42.1" cy="899.8" r="1.1" fill="#111"/>
<circle cx="66.9" cy="911.7" r="1.1" fill="#111"/>
<circle cx="91.8" cy="923.6" r="1.1" fill="#111"/>
<circle cx="116.6" cy="935.5" r="1.1" fill="#111"/>
<circle cx="141.5" cy="947.4" r="1.1" fill="#111"/>
<circle cx="166.3" cy="959.3" r="1.1" fill="#111"/>
<circle cx="191.2" cy="947.4" r="1.1" fill="#111"/>
<circle cx="216.0" cy="935.5" r="1.1" fill="#111"/>
<circle cx="240.9" cy="923.7" r="1.1" fill="#111"/>
<circle cx="265.7" cy="911.8" r="1.1" fill="#111"/>
<circle cx="290.6" cy="899.9" r="1.1" fill="#111"/>
<circle cx="33.9" cy="729.6" r="1.1" fill="#111"/>
<circle cx="35.2" cy="755.6" r="1.1" fill="#111"/>
<circle cx="36.4" cy="781.5" r="1.1" fill="#111"/>
<circle cx="37.7" cy="807.5" r="1.1" fill="#111"/>
<circle cx="38.9" cy="833.5" r="1.1" fill="#111"/>
<circle cx="40.2" cy="859.5" r="1.1" fill="#111"/>
<polygon points="166.3,768.0 172.1,767.9 166.3,770.3 160.5,770.3" fill="#4cec78" stroke="#151510" stroke-opacity="0.85" stroke-width="0.42"/>
<polygon points="160.5,768.2 166.3,768.0 160.5,770.3 154.7,770.5" fill="#50ee6d" stroke="#151510" stroke-opacity="0.85" stroke-width="0.42"/>
<polygon points="172.1,765.8 177.9,765.8 172.1,767.9 166.3,768.0" fill="#54ee5b" stroke="#151510" stroke-opacity="0.85" stroke-width="0.42"/>
<polygon points="154.6,768.6 160.5,768.2 154.7,770.5 148.8,771.0" fill="#54f063" stroke="#151510" stroke-opacity="0.85" stroke-width="0.42"/>
<polygon points="166.3,766.0 172.1,765.8 166.3,768.0 160.5,768.2" fill="#56f04f" stroke="#151510" stroke-opacity="0.85" stroke-width="0.42"/>
<polygon points="178.1,763.8 183.8,763.8 177.9,765.8 172.1,765.8" fill="#6bef50" stroke="#151510" stroke-opacity="0.85" stroke-width="0.42"/>
<polygon points="160.4,766.4 166.3,766.0 160.5,768.2 154.6,768.6" fill="#63f14f" stroke="#151510" stroke-opacity="0.85" stroke-width="0.42"/>
<polygon points="172.2,764.0 178.1,763.8 172.1,765.8 166.3,766.0" fill="#79f150" stroke="#151510" stroke-opacity="0.85" stroke-width="0.42"/>
<polygon points="148.6,769.2 154.6,768.6 148.8,771.0 142.8,771.6" fill="#55f259" stroke="#151510" stroke-opacity="0.85" stroke-width="0.42"/>
<polygon points="184.1,762.0 189.9,761.9 183.8,763.8 178.1,763.8" fill="#8bf151" stroke="#151510" stroke-opacity="0.85" stroke-width="0.42"/>
<polygon points="142.5,770.1 148.6,769.2 142.8,771.6 136.8,772.4" fill="#55f351" stroke="#151510" stroke-opacity="0.85" stroke-width="0.42"/>
<polygon points="154.4,767.0 160.4,766.4 154.6,768.6 148.6,769.2" fill="#6ff350" stroke="#151510" stroke-opacity="0.85" stroke-width="0.42"/>
<polygon points="166.3,764.4 172.2,764.0 166.3,766.0 160.4,766.4" fill="#86f351" stroke="#151510" stroke-opacity="0.85" stroke-width="0.42"/>
<polygon points="178.2,762.2 184.1,762.0 178.1,763.8 172.2,764.0" fill="#9af252" stroke="#151510" stroke-opacity="0.85" stroke-width="0.42"/>
<polygon points="190.2,760.3 195.9,760.3 189.9,761.9 184.1,762.0" fill="#aaf253" stroke="#151510" stroke-opacity="0.85" stroke-width="0.42"/>
<polygon points="148.3,767.9 154.4,767.0 148.6,769.2 142.5,770.1" fill="#78f450" stroke="#151510" stroke-opacity="0.85" stroke-width="0.42"/>
<polygon points="184.3,760.5 190.2,760.3 184.1,762.0 178.2,762.2" fill="#b9f354" stroke="#151510" stroke-opacity="0.85" stroke-width="0.42"/>
<polygon points="136.4,771.1 142.5,770.1 136.8,772.4 130.7,773.5" fill="#5af44f" stroke="#151510" stroke-opacity="0.85" stroke-width="0.42"/>
<polygon points="160.3,765.0 166.3,764.4 160.4,766.4 154.4,767.0" fill="#92f452" stroke="#151510" stroke-opacity="0.85" stroke-width="0.42"/>
<polygon points="172.3,762.6 178.2,762.2 172.2,764.0 166.3,764.4" fill="#a7f453" stroke="#151510" stroke-opacity="0.85" stroke-width="0.42"/>
<polygon points="196.3,758.9 202.1,758.9 195.9,760.3 190.2,760.3" fill="#c6f254" stroke="#151510" stroke-opacity="0.85" stroke-width="0.42"/>
<polygon points="130.2,772.4 136.4,771.1 130.7,773.5 124.5,774.8" fill="#60f64f" stroke="#151510" stroke-opacity="0.85" stroke-width="0.42"/>
<polygon points="142.2,768.9 148.3,767.9 142.5,770.1 136.4,771.1" fill="#80f651" stroke="#151510" stroke-opacity="0.85" stroke-width="0.42"/>
<polygon points="154.2,765.9 160.3,765.0 154.4,767.0 148.3,767.9" fill="#9bf552" stroke="#151510" stroke-opacity="0.85" stroke-width="0.42"/>
<polygon points="166.3,763.2 172.3,762.6 166.3,764.4 160.3,765.0" fill="#b3f553" stroke="#151510" stroke-opacity="0.85" stroke-width="0.42"/>
<polygon points="178.4,761.0 184.3,760.5 178.2,762.2 172.3,762.6" fill="#c6f554" stroke="#151510" stroke-opacity="0.85" stroke-width="0.42"/>
<polygon points="190.5,759.1 196.3,758.9 190.2,760.3 184.3,760.5" fill="#d5f455" stroke="#151510" stroke-opacity="0.85" stroke-width="0.42"/>
<polygon points="202.6,757.6 208.4,757.6 202.1,758.9 196.3,758.9" fill="#e1f356" stroke="#151510" stroke-opacity="0.85" stroke-width="0.42"/>
<polygon points="123.9,773.9 130.2,772.4 124.5,774.8 118.2,776.2" fill="#64f74f" stroke="#151510" stroke-opacity="0.85" stroke-width="0.42"/>
<polygon points="136.0,770.2 142.2,768.9 136.4,771.1 130.2,772.4" fill="#86f751" stroke="#151510" stroke-opacity="0.85" stroke-width="0.42"/>
<polygon points="148.1,766.9 154.2,765.9 148.3,767.9 142.2,768.9" fill="#a3f752" stroke="#151510" stroke-opacity="0.85" stroke-width="0.42"/>
<polygon points="160.2,764.1 166.3,763.2 160.3,765.0 154.2,765.9" fill="#bcf654" stroke="#151510" stroke-opacity="0.85" stroke-width="0.42"/>
<polygon points="172.4,761.6 178.4,761.0 172.3,762.6 166.3,763.2" fill="#d1f655" stroke="#151510" stroke-opacity="0.85" stroke-width="0.42"/>
<polygon points="184.6,759.5 190.5,759.1 184.3,760.5 178.4,761.0" fill="#e2f656" stroke="#151510" stroke-opacity="0.85" stroke-width="0.42"/>
<polygon points="196.7,757.9 202.6,757.6 196.3,758.9 190.5,759.1" fill="#eff556" stroke="#151510" stroke-opacity="0.85" stroke-width="0.42"/>
<polygon points="208.9,756.6 214.7,756.6 208.4,757.6 202.6,757.6" fill="#f4ef52" stroke="#151510" stroke-opacity="0.85" stroke-width="0.42"/>
<polygon points="129.7,771.7 136.0,770.2 130.2,772.4 123.9,773.9" fill="#8af851" stroke="#151510" stroke-opacity="0.85" stroke-width="0.42"/>
<polygon points="141.9,768.2 148.1,766.9 142.2,768.9 136.0,770.2" fill="#a9f853" stroke="#151510" stroke-opacity="0.85" stroke-width="0.42"/>
<polygon points="166.3,762.5 172.4,761.6 166.3,763.2 160.2,764.1" fill="#dbf755" stroke="#151510" stroke-opacity="0.85" stroke-width="0.42"/>
<polygon points="190.8,758.3 196.7,757.9 190.5,759.1 184.6,759.5" fill="#f6f051" stroke="#151510" stroke-opacity="0.85" stroke-width="0.42"/>
<polygon points="203.1,756.8 208.9,756.6 202.6,757.6 196.7,757.9" fill="#f5e14d" stroke="#151510" stroke-opacity="0.85" stroke-width="0.42"/>
<polygon points="117.6,775.6 123.9,773.9 118.2,776.2 111.9,778.0" fill="#66f84f" stroke="#151510" stroke-opacity="0.85" stroke-width="0.42"/>
<polygon points="154.1,765.1 160.2,764.1 154.2,765.9 148.1,766.9" fill="#c4f854" stroke="#151510" stroke-opacity="0.85" stroke-width="0.42"/>
<polygon points="178.5,760.2 184.6,759.5 178.4,761.0 172.4,761.6" fill="#eef756" stroke="#151510" stroke-opacity="0.85" stroke-width="0.42"/>
<polygon points="215.4,755.8 221.1,755.8 214.7,756.6 208.9,756.6" fill="#f4d74a" stroke="#151510" stroke-opacity="0.85" stroke-width="0.42"/>
<polygon points="111.2,777.6 117.6,775.6 111.9,778.0 105.5,779.9" fill="#66f94f" stroke="#151510" stroke-opacity="0.85" stroke-width="0.42"/>
<polygon points="123.4,773.4 129.7,771.7 123.9,773.9 117.6,775.6" fill="#8cf951" stroke="#151510" stroke-opacity="0.85" stroke-width="0.42"/>
<polygon points="135.6,769.7 141.9,768.2 136.0,770.2 129.7,771.7" fill="#adf953" stroke="#151510" stroke-opacity="0.85" stroke-width="0.42"/>
<polygon points="147.9,766.4 154.1,765.1 148.1,766.9 141.9,768.2" fill="#caf954" stroke="#151510" stroke-opacity="0.85" stroke-width="0.42"/>
<polygon points="160.1,763.5 166.3,762.5 160.2,764.1 154.1,765.1" fill="#e3f956" stroke="#151510" stroke-opacity="0.85" stroke-width="0.42"/>
<polygon points="172.5,761.0 178.5,760.2 172.4,761.6 166.3,762.5" fill="#f7f854" stroke="#151510" stroke-opacity="0.85" stroke-width="0.42"/>
<polygon points="184.8,758.9 190.8,758.3 184.6,759.5 178.5,760.2" fill="#f7e64e" stroke="#151510" stroke-opacity="0.85" stroke-width="0.42"/>
<polygon points="197.1,757.3 203.1,756.8 196.7,757.9 190.8,758.3" fill="#f6d549" stroke="#151510" stroke-opacity="0.85" stroke-width="0.42"/>
<polygon points="209.5,756.0 215.4,755.8 208.9,756.6 203.1,756.8" fill="#f5c845" stroke="#151510" stroke-opacity="0.85" stroke-width="0.42"/>
<polygon points="221.9,755.1 227.6,755.1 221.1,755.8 215.4,755.8" fill="#f4bf43" stroke="#151510" stroke-opacity="0.85" stroke-width="0.42"/>
<polygon points="117.0,775.4 123.4,773.4 117.6,775.6 111.2,777.6" fill="#8cfa51" stroke="#151510" stroke-opacity="0.85" stroke-width="0.42"/>
<polygon points="153.9,764.8 160.1,763.5 154.1,765.1 147.9,766.4" fill="#e9fa56" stroke="#151510" stroke-opacity="0.85" stroke-width="0.42"/>
<polygon points="178.7,759.8 184.8,758.9 178.5,760.2 172.5,761.0" fill="#f9de4b" stroke="#151510" stroke-opacity="0.85" stroke-width="0.42"/>
<polygon points="216.0,755.4 221.9,755.1 215.4,755.8 209.5,756.0" fill="#f5af3e" stroke="#151510" stroke-opacity="0.85" stroke-width="0.42"/>
<polygon points="104.7,779.7 111.2,777.6 105.5,779.9 99.1,782.1" fill="#65fa4f" stroke="#151510" stroke-opacity="0.85" stroke-width="0.42"/>
<polygon points="129.2,771.5 135.6,769.7 129.7,771.7 123.4,773.4" fill="#b0fa53" stroke="#151510" stroke-opacity="0.85" stroke-width="0.42"/>
<polygon points="141.6,767.9 147.9,766.4 141.9,768.2 135.6,769.7" fill="#cffa55" stroke="#151510" stroke-opacity="0.85" stroke-width="0.42"/>
<polygon points="166.3,762.1 172.5,761.0 166.3,762.5 160.1,763.5" fill="#f9f352" stroke="#151510" stroke-opacity="0.85" stroke-width="0.42"/>
<polygon points="191.1,757.9 197.1,757.3 190.8,758.3 184.8,758.9" fill="#f8cb45" stroke="#151510" stroke-opacity="0.85" stroke-width="0.42"/>
<polygon points="203.6,756.4 209.5,756.0 203.1,756.8 197.1,757.3" fill="#f7bb41" stroke="#151510" stroke-opacity="0.85" stroke-width="0.42"/>
<polygon points="228.5,754.7 234.2,754.7 227.6,755.1 221.9,755.1" fill="#f4a73c" stroke="#151510" stroke-opacity="0.85" stroke-width="0.42"/>
<polygon points="98.2,782.2 104.7,779.7 99.1,782.1 92.5,784.5" fill="#61fa4f" stroke="#151510" stroke-opacity="0.85" stroke-width="0.42"/>
<polygon points="110.5,777.6 117.0,775.4 111.2,777.6 104.7,779.7" fill="#8bfb51" stroke="#151510" stroke-opacity="0.85" stroke-width="0.42"/>
<polygon points="122.8,773.4 129.2,771.5 123.4,773.4 117.0,775.4" fill="#b0fb53" stroke="#151510" stroke-opacity="0.85" stroke-width="0.42"/>
<polygon points="135.2,769.7 141.6,767.9 135.6,769.7 129.2,771.5" fill="#d1fb55" stroke="#151510" stroke-opacity="0.85" stroke-width="0.42"/>
<polygon points="147.6,766.4 153.9,764.8 147.9,766.4 141.6,767.9" fill="#edfb56" stroke="#151510" stroke-opacity="0.85" stroke-width="0.42"/>
<polygon points="160.1,763.4 166.3,762.1 160.1,763.5 153.9,764.8" fill="#fbef50" stroke="#151510" stroke-opacity="0.85" stroke-width="0.42"/>
<polygon points="172.5,760.9 178.7,759.8 172.5,761.0 166.3,762.1" fill="#fad749" stroke="#151510" stroke-opacity="0.85" stroke-width="0.42"/>
<polygon points="185.0,758.8 191.1,757.9 184.8,758.9 178.7,759.8" fill="#f9c143" stroke="#151510" stroke-opacity="0.85" stroke-width="0.42"/>
<polygon points="197.6,757.1 203.6,756.4 197.1,757.3 191.1,757.9" fill="#f8af3e" stroke="#151510" stroke-opacity="0.85" stroke-width="0.42"/>
<polygon points="210.1,755.8 216.0,755.4 209.5,756.0 203.6,756.4" fill="#f7a03a" stroke="#151510" stroke-opacity="0.85" stroke-width="0.42"/>
<polygon points="222.6,755.0 228.5,754.7 221.9,755.1 216.0,755.4" fill="#f59638" stroke="#151510" stroke-opacity="0.85" stroke-width="0.42"/>
<polygon points="235.1,754.5 240.9,754.5 234.2,754.7 228.5,754.7" fill="#f49036" stroke="#151510" stroke-opacity="0.85" stroke-width="0.42"/>
<polygon points="91.6,784.8 98.2,782.2 92.5,784.5 86.0,787.1" fill="#5bfb4f" stroke="#151510" stroke-opacity="0.85" stroke-width="0.42"/>
<polygon points="103.9,780.0 110.5,777.6 104.7,779.7 98.2,782.2" fill="#87fc51" stroke="#151510" stroke-opacity="0.85" stroke-width="0.42"/>
<polygon points="116.3,775.7 122.8,773.4 117.0,775.4 110.5,777.6" fill="#affc53" stroke="#151510" stroke-opacity="0.85" stroke-width="0.42"/>
<polygon points="128.8,771.7 135.2,769.7 129.2,771.5 122.8,773.4" fill="#d1fc55" stroke="#151510" stroke-opacity="0.85" stroke-width="0.42"/>
<polygon points="141.2,768.1 147.6,766.4 141.6,767.9 135.2,769.7" fill="#f0fc56" stroke="#151510" stroke-opacity="0.85" stroke-width="0.42"/>
<polygon points="153.8,765.0 160.1,763.4 153.9,764.8 147.6,766.4" fill="#fced4f" stroke="#151510" stroke-opacity="0.85" stroke-width="0.42"/>
<polygon points="166.3,762.2 172.5,760.9 166.3,762.1 160.1,763.4" fill="#fbd247" stroke="#151510" stroke-opacity="0.85" stroke-width="0.42"/>
<polygon points="178.9,759.9 185.0,758.8 178.7,759.8 172.5,760.9" fill="#faba40" stroke="#151510" stroke-opacity="0.85" stroke-width="0.42"/>
<polygon points="191.5,758.0 197.6,757.1 191.1,757.9 185.0,758.8" fill="#f9a43b" stroke="#151510" stroke-opacity="0.85" stroke-width="0.42"/>
<polygon points="204.1,756.5 210.1,755.8 203.6,756.4 197.6,757.1" fill="#f89337" stroke="#151510" stroke-opacity="0.85" stroke-width="0.42"/>
<polygon points="216.7,755.4 222.6,755.0 216.0,755.4 210.1,755.8" fill="#f78634" stroke="#151510" stroke-opacity="0.85" stroke-width="0.42"/>
<polygon points="229.3,754.8 235.1,754.5 228.5,754.7 222.6,755.0" fill="#f57d32" stroke="#151510" stroke-opacity="0.85" stroke-width="0.42"/>
<polygon points="241.9,754.6 247.7,754.5 240.9,754.5 235.1,754.5" fill="#f47a31" stroke="#151510" stroke-opacity="0.85" stroke-width="0.42"/>
<polygon points="97.3,782.7 103.9,780.0 98.2,782.2 91.6,784.8" fill="#82fc51" stroke="#151510" stroke-opacity="0.85" stroke-width="0.42"/>
<polygon points="109.7,778.1 116.3,775.7 110.5,777.6 103.9,780.0" fill="#abfd53" stroke="#151510" stroke-opacity="0.85" stroke-width="0.42"/>
<polygon points="134.8,770.1 141.2,768.1 135.2,769.7 128.8,771.7" fill="#f0fd56" stroke="#151510" stroke-opacity="0.85" stroke-width="0.42"/>
<polygon points="160.0,763.8 166.3,762.2 160.1,763.4 153.8,765.0" fill="#fccf46" stroke="#151510" stroke-opacity="0.85" stroke-width="0.42"/>
<polygon points="172.6,761.2 178.9,759.9 172.5,760.9 166.3,762.2" fill="#fcb43f" stroke="#151510" stroke-opacity="0.85" stroke-width="0.42"/>
<polygon points="198.0,757.4 204.1,756.5 197.6,757.1 191.5,758.0" fill="#fa8834" stroke="#151510" stroke-opacity="0.85" stroke-width="0.42"/>
<polygon points="223.4,755.3 229.3,754.8 222.6,755.0 216.7,755.4" fill="#f76d2e" stroke="#151510" stroke-opacity="0.85" stroke-width="0.42"/>
<polygon points="236.1,754.8 241.9,754.6 235.1,754.5 229.3,754.8" fill="#f6682e" stroke="#151510" stroke-opacity="0.85" stroke-width="0.42"/>
<polygon points="84.9,787.7 91.6,784.8 86.0,787.1 79.3,790.0" fill="#55fc50" stroke="#151510" stroke-opacity="0.85" stroke-width="0.42"/>
<polygon points="122.2,773.9 128.8,771.7 122.8,773.4 116.3,775.7" fill="#d0fd55" stroke="#151510" stroke-opacity="0.85" stroke-width="0.42"/>
<polygon points="147.4,766.7 153.8,765.0 147.6,766.4 141.2,768.1" fill="#fdec4e" stroke="#151510" stroke-opacity="0.85" stroke-width="0.42"/>
<polygon points="185.3,759.1 191.5,758.0 185.0,758.8 178.9,759.9" fill="#fb9c39" stroke="#151510" stroke-opacity="0.85" stroke-width="0.42"/>
<polygon points="210.7,756.1 216.7,755.4 210.1,755.8 204.1,756.5" fill="#f97830" stroke="#151510" stroke-opacity="0.85" stroke-width="0.42"/>
<polygon points="248.8,754.8 254.5,754.8 247.7,754.5 241.9,754.6" fill="#f4672e" stroke="#151510" stroke-opacity="0.85" stroke-width="0.42"/>
<polygon points="78.1,790.8 84.9,787.7 79.3,790.0 72.6,793.1" fill="#55fc59" stroke="#151510" stroke-opacity="0.85" stroke-width="0.42"/>
<polygon points="90.6,785.6 97.3,782.7 91.6,784.8 84.9,787.7" fill="#7afd50" stroke="#151510" stroke-opacity="0.85" stroke-width="0.42"/>
<polygon points="103.1,780.8 109.7,778.1 103.9,780.0 97.3,782.7" fill="#a6fd52" stroke="#151510" stroke-opacity="0.85" stroke-width="0.42"/>
<polygon points="115.6,776.4 122.2,773.9 116.3,775.7 109.7,778.1" fill="#cdfe54" stroke="#151510" stroke-opacity="0.85" stroke-width="0.42"/>
<polygon points="128.3,772.4 134.8,770.1 128.8,771.7 122.2,773.9" fill="#effe56" stroke="#151510" stroke-opacity="0.85" stroke-width="0.42"/>
<polygon points="140.9,768.8 147.4,766.7 141.2,768.1 134.8,770.1" fill="#feed4e" stroke="#151510" stroke-opacity="0.85" stroke-width="0.42"/>
<polygon points="153.6,765.6 160.0,763.8 153.8,765.0 147.4,766.7" fill="#fdce45" stroke="#151510" stroke-opacity="0.85" stroke-width="0.42"/>
<polygon points="166.3,762.8 172.6,761.2 166.3,762.2 160.0,763.8" fill="#fdb13e" stroke="#151510" stroke-opacity="0.85" stroke-width="0.42"/>
<polygon points="179.0,760.5 185.3,759.1 178.9,759.9 172.6,761.2" fill="#fc9637" stroke="#151510" stroke-opacity="0.85" stroke-width="0.42"/>
<polygon points="191.8,758.5 198.0,757.4 191.5,758.0 185.3,759.1" fill="#fb7f32" stroke="#151510" stroke-opacity="0.85" stroke-width="0.42"/>
<polygon points="204.6,757.0 210.7,756.1 204.1,756.5 198.0,757.4" fill="#fa6c2e" stroke="#151510" stroke-opacity="0.85" stroke-width="0.42"/>
<polygon points="217.4,756.0 223.4,755.3 216.7,755.4 210.7,756.1" fill="#f9612e" stroke="#151510" stroke-opacity="0.85" stroke-width="0.42"/>
<polygon points="230.1,755.3 236.1,754.8 229.3,754.8 223.4,755.3" fill="#f85a2e" stroke="#151510" stroke-opacity="0.85" stroke-width="0.42"/>
<polygon points="242.9,755.1 248.8,754.8 241.9,754.6 236.1,754.8" fill="#f6572e" stroke="#151510" stroke-opacity="0.85" stroke-width="0.42"/>
<polygon points="255.7,755.3 261.4,755.3 254.5,754.8 248.8,754.8" fill="#f4592e" stroke="#151510" stroke-opacity="0.85" stroke-width="0.42"/>
<polygon points="83.8,788.8 90.6,785.6 84.9,787.7 78.1,790.8" fill="#70fd50" stroke="#151510" stroke-opacity="0.85" stroke-width="0.42"/>
<polygon points="121.6,774.8 128.3,772.4 122.2,773.9 115.6,776.4" fill="#ecff56" stroke="#151510" stroke-opacity="0.85" stroke-width="0.42"/>
<polygon points="147.1,767.6 153.6,765.6 147.4,766.7 140.9,768.8" fill="#ffd046" stroke="#151510" stroke-opacity="0.85" stroke-width="0.42"/>
<polygon points="185.5,759.9 191.8,758.5 185.3,759.1 179.0,760.5" fill="#fd7830" stroke="#151510" stroke-opacity="0.85" stroke-width="0.42"/>
<polygon points="211.3,756.9 217.4,756.0 210.7,756.1 204.6,757.0" fill="#fb572e" stroke="#151510" stroke-opacity="0.85" stroke-width="0.42"/>
<polygon points="249.9,755.6 255.7,755.3 248.8,754.8 242.9,755.1" fill="#f6482d" stroke="#151510" stroke-opacity="0.85" stroke-width="0.42"/>
<polygon points="71.3,794.2 78.1,790.8 72.6,793.1 65.8,796.5" fill="#54fd64" stroke="#151510" stroke-opacity="0.85" stroke-width="0.42"/>
<polygon points="96.4,783.7 103.1,780.8 97.3,782.7 90.6,785.6" fill="#9efe52" stroke="#151510" stroke-opacity="0.85" stroke-width="0.42"/>
<polygon points="109.0,779.1 115.6,776.4 109.7,778.1 103.1,780.8" fill="#c7fe54" stroke="#151510" stroke-opacity="0.85" stroke-width="0.42"/>
<polygon points="134.4,771.0 140.9,768.8 134.8,770.1 128.3,772.4" fill="#fff04f" stroke="#151510" stroke-opacity="0.85" stroke-width="0.42"/>
<polygon points="159.9,764.6 166.3,762.8 160.0,763.8 153.6,765.6" fill="#feb03d" stroke="#151510" stroke-opacity="0.85" stroke-width="0.42"/>
<polygon points="172.7,762.0 179.0,760.5 172.6,761.2 166.3,762.8" fill="#fe9236" stroke="#151510" stroke-opacity="0.85" stroke-width="0.42"/>
<polygon points="198.4,758.2 204.6,757.0 198.0,757.4 191.8,758.5" fill="#fc642e" stroke="#151510" stroke-opacity="0.85" stroke-width="0.42"/>
<polygon points="224.1,756.0 230.1,755.3 223.4,755.3 217.4,756.0" fill="#f94d2d" stroke="#151510" stroke-opacity="0.85" stroke-width="0.42"/>
<polygon points="237.0,755.6 242.9,755.1 236.1,754.8 230.1,755.3" fill="#f8492d" stroke="#151510" stroke-opacity="0.85" stroke-width="0.42"/>
<polygon points="262.7,756.1 268.4,756.0 261.4,755.3 255.7,755.3" fill="#f44c2d" stroke="#151510" stroke-opacity="0.85" stroke-width="0.42"/>
<polygon points="77.0,792.2 83.8,788.8 78.1,790.8 71.3,794.2" fill="#64fe4f" stroke="#151510" stroke-opacity="0.85" stroke-width="0.42"/>
<polygon points="256.9,756.4 262.7,756.1 255.7,755.3 249.9,755.6" fill="#f63c2d" stroke="#151510" stroke-opacity="0.85" stroke-width="0.42"/>
<polygon points="64.4,797.9 71.3,794.2 65.8,796.5 58.9,800.1" fill="#50fd6f" stroke="#151510" stroke-opacity="0.85" stroke-width="0.42"/>
<polygon points="89.6,786.9 96.4,783.7 90.6,785.6 83.8,788.8" fill="#95fe52" stroke="#151510" stroke-opacity="0.85" stroke-width="0.42"/>
<polygon points="102.2,782.0 109.0,779.1 103.1,780.8 96.4,783.7" fill="#c0ff54" stroke="#151510" stroke-opacity="0.85" stroke-width="0.42"/>
<polygon points="115.0,777.6 121.6,774.8 115.6,776.4 109.0,779.1" fill="#e7ff56" stroke="#151510" stroke-opacity="0.85" stroke-width="0.42"/>
<polygon points="127.7,773.5 134.4,771.0 128.3,772.4 121.6,774.8" fill="#fff550" stroke="#151510" stroke-opacity="0.85" stroke-width="0.42"/>
<polygon points="140.6,769.9 147.1,767.6 140.9,768.8 134.4,771.0" fill="#ffd346" stroke="#151510" stroke-opacity="0.85" stroke-width="0.42"/>
<polygon points="153.4,766.7 159.9,764.6 153.6,765.6 147.1,767.6" fill="#ffb13d" stroke="#151510" stroke-opacity="0.85" stroke-width="0.42"/>
<polygon points="166.3,763.9 172.7,762.0 166.3,762.8 159.9,764.6" fill="#ff9135" stroke="#151510" stroke-opacity="0.85" stroke-width="0.42"/>
<polygon points="179.2,761.5 185.5,759.9 179.0,760.5 172.7,762.0" fill="#fe742f" stroke="#151510" stroke-opacity="0.85" stroke-width="0.42"/>
<polygon points="192.1,759.6 198.4,758.2 191.8,758.5 185.5,759.9" fill="#fd5f2e" stroke="#151510" stroke-opacity="0.85" stroke-width="0.42"/>
<polygon points="205.1,758.0 211.3,756.9 204.6,757.0 198.4,758.2" fill="#fc4e2d" stroke="#151510" stroke-opacity="0.85" stroke-width="0.42"/>
<polygon points="218.0,757.0 224.1,756.0 217.4,756.0 211.3,756.9" fill="#fb432d" stroke="#151510" stroke-opacity="0.85" stroke-width="0.42"/>
<polygon points="231.0,756.3 237.0,755.6 230.1,755.3 224.1,756.0" fill="#fa3c2d" stroke="#151510" stroke-opacity="0.85" stroke-width="0.42"/>
<polygon points="243.9,756.1 249.9,755.6 242.9,755.1 237.0,755.6" fill="#f83a2d" stroke="#151510" stroke-opacity="0.85" stroke-width="0.42"/>
<polygon points="269.8,757.0 275.5,756.9 268.4,756.0 262.7,756.1" fill="#f4432d" stroke="#151510" stroke-opacity="0.85" stroke-width="0.42"/>
<polygon points="57.5,801.8 64.4,797.9 58.9,800.1 52.0,804.0" fill="#4cfd7c" stroke="#151510" stroke-opacity="0.85" stroke-width="0.42"/>
<polygon points="70.1,795.9 77.0,792.2 71.3,794.2 64.4,797.9" fill="#56fe4e" stroke="#151510" stroke-opacity="0.85" stroke-width="0.42"/>
<polygon points="82.7,790.4 89.6,786.9 83.8,788.8 77.0,792.2" fill="#89ff51" stroke="#151510" stroke-opacity="0.85" stroke-width="0.42"/>
<polygon points="95.4,785.2 102.2,782.0 96.4,783.7 89.6,786.9" fill="#b6ff53" stroke="#151510" stroke-opacity="0.85" stroke-width="0.42"/>
<polygon points="108.2,780.5 115.0,777.6 109.0,779.1 102.2,782.0" fill="#dfff55" stroke="#151510" stroke-opacity="0.85" stroke-width="0.42"/>
<polygon points="121.1,776.3 127.7,773.5 121.6,774.8 115.0,777.6" fill="#fffb52" stroke="#151510" stroke-opacity="0.85" stroke-width="0.42"/>
<polygon points="133.9,772.4 140.6,769.9 134.4,771.0 127.7,773.5" fill="#ffd848" stroke="#151510" stroke-opacity="0.85" stroke-width="0.42"/>
<polygon points="146.9,768.9 153.4,766.7 147.1,767.6 140.6,769.9" fill="#ffb43e" stroke="#151510" stroke-opacity="0.85" stroke-width="0.42"/>
<polygon points="159.8,765.9 166.3,763.9 159.9,764.6 153.4,766.7" fill="#ff9236" stroke="#151510" stroke-opacity="0.85" stroke-width="0.42"/>
<polygon points="172.8,763.3 179.2,761.5 172.7,762.0 166.3,763.9" fill="#ff732e" stroke="#151510" stroke-opacity="0.85" stroke-width="0.42"/>
<polygon points="185.8,761.2 192.1,759.6 185.5,759.9 179.2,761.5" fill="#ff5b2e" stroke="#151510" stroke-opacity="0.85" stroke-width="0.42"/>
<polygon points="198.8,759.4 205.1,758.0 198.4,758.2 192.1,759.6" fill="#fe492d" stroke="#151510" stroke-opacity="0.85" stroke-width="0.42"/>
<polygon points="211.9,758.2 218.0,757.0 211.3,756.9 205.1,758.0" fill="#fd3b2d" stroke="#151510" stroke-opacity="0.85" stroke-width="0.42"/>
<polygon points="224.9,757.3 231.0,756.3 224.1,756.0 218.0,757.0" fill="#fb322d" stroke="#151510" stroke-opacity="0.85" stroke-width="0.42"/>
<polygon points="237.9,756.9 243.9,756.1 237.0,755.6 231.0,756.3" fill="#fa312d" stroke="#151510" stroke-opacity="0.85" stroke-width="0.42"/>
<polygon points="251.0,756.9 256.9,756.4 249.9,755.6 243.9,756.1" fill="#f8312d" stroke="#151510" stroke-opacity="0.85" stroke-width="0.42"/>
<polygon points="264.0,757.3 269.8,757.0 262.7,756.1 256.9,756.4" fill="#f6322d" stroke="#151510" stroke-opacity="0.85" stroke-width="0.42"/>
<polygon points="277.0,758.2 282.7,758.1 275.5,756.9 269.8,757.0" fill="#f33b2d" stroke="#151510" stroke-opacity="0.85" stroke-width="0.42"/>
<polygon points="50.4,806.0 57.5,801.8 52.0,804.0 45.0,808.1" fill="#48fe8c" stroke="#151510" stroke-opacity="0.85" stroke-width="0.42"/>
<polygon points="63.1,799.8 70.1,795.9 64.4,797.9 57.5,801.8" fill="#54ff5c" stroke="#151510" stroke-opacity="0.85" stroke-width="0.42"/>
<polygon points="75.8,794.1 82.7,790.4 77.0,792.2 70.1,795.9" fill="#7bff50" stroke="#151510" stroke-opacity="0.85" stroke-width="0.42"/>
<polygon points="88.6,788.7 95.4,785.2 89.6,786.9 82.7,790.4" fill="#abff53" stroke="#151510" stroke-opacity="0.85" stroke-width="0.42"/>
<polygon points="101.4,783.8 108.2,780.5 102.2,782.0 95.4,785.2" fill="#d5ff55" stroke="#151510" stroke-opacity="0.85" stroke-width="0.42"/>
<polygon points="127.2,775.2 133.9,772.4 127.7,773.5 121.1,776.3" fill="#ffde4a" stroke="#151510" stroke-opacity="0.85" stroke-width="0.42"/>
<polygon points="140.2,771.5 146.9,768.9 140.6,769.9 133.9,772.4" fill="#ffb93f" stroke="#151510" stroke-opacity="0.85" stroke-width="0.42"/>
<polygon points="166.3,765.4 172.8,763.3 166.3,763.9 159.8,765.9" fill="#ff742f" stroke="#151510" stroke-opacity="0.85" stroke-width="0.42"/>
<polygon points="192.5,761.1 198.8,759.4 192.1,759.6 185.8,761.2" fill="#ff452d" stroke="#151510" stroke-opacity="0.85" stroke-width="0.42"/>
<polygon points="205.6,759.6 211.9,758.2 205.1,758.0 198.8,759.4" fill="#fe352d" stroke="#151510" stroke-opacity="0.85" stroke-width="0.42"/>
<polygon points="231.9,757.9 237.9,756.9 231.0,756.3 224.9,757.3" fill="#fb302d" stroke="#151510" stroke-opacity="0.85" stroke-width="0.42"/>
<polygon points="245.0,757.7 251.0,756.9 243.9,756.1 237.9,756.9" fill="#fa302d" stroke="#151510" stroke-opacity="0.85" stroke-width="0.42"/>
<polygon points="258.1,757.9 264.0,757.3 256.9,756.4 251.0,756.9" fill="#f8302d" stroke="#151510" stroke-opacity="0.85" stroke-width="0.42"/>
<polygon points="271.2,758.6 277.0,758.2 269.8,757.0 264.0,757.3" fill="#f5312d" stroke="#151510" stroke-opacity="0.85" stroke-width="0.42"/>
<polygon points="284.2,759.7 289.9,759.6 282.7,758.1 277.0,758.2" fill="#f3362d" stroke="#151510" stroke-opacity="0.85" stroke-width="0.42"/>
<polygon points="114.3,779.3 121.1,776.3 115.0,777.6 108.2,780.5" fill="#fbff55" stroke="#151510" stroke-opacity="0.85" stroke-width="0.42"/>
<polygon points="153.2,768.2 159.8,765.9 153.4,766.7 146.9,768.9" fill="#ff9536" stroke="#151510" stroke-opacity="0.85" stroke-width="0.42"/>
<polygon points="179.4,763.0 185.8,761.2 179.2,761.5 172.8,763.3" fill="#ff5a2e" stroke="#151510" stroke-opacity="0.85" stroke-width="0.42"/>
<polygon points="218.7,758.5 224.9,757.3 218.0,757.0 211.9,758.2" fill="#fd312d" stroke="#151510" stroke-opacity="0.85" stroke-width="0.42"/>
<polygon points="43.4,810.4 50.4,806.0 45.0,808.1 37.9,812.5" fill="#42fe9e" stroke="#151510" stroke-opacity="0.85" stroke-width="0.42"/>
<polygon points="56.0,804.0 63.1,799.8 57.5,801.8 50.4,806.0" fill="#52ff6c" stroke="#151510" stroke-opacity="0.85" stroke-width="0.42"/>
<polygon points="68.8,798.0 75.8,794.1 70.1,795.9 63.1,799.8" fill="#6bff4f" stroke="#151510" stroke-opacity="0.85" stroke-width="0.42"/>
<polygon points="81.6,792.4 88.6,788.7 82.7,790.4 75.8,794.1" fill="#9dff52" stroke="#151510" stroke-opacity="0.85" stroke-width="0.42"/>
<polygon points="94.5,787.3 101.4,783.8 95.4,785.2 88.6,788.7" fill="#caff54" stroke="#151510" stroke-opacity="0.85" stroke-width="0.42"/>
<polygon points="107.4,782.5 114.3,779.3 108.2,780.5 101.4,783.8" fill="#f2ff56" stroke="#151510" stroke-opacity="0.85" stroke-width="0.42"/>
<polygon points="120.4,778.2 127.2,775.2 121.1,776.3 114.3,779.3" fill="#ffe74c" stroke="#151510" stroke-opacity="0.85" stroke-width="0.42"/>
<polygon points="133.5,774.3 140.2,771.5 133.9,772.4 127.2,775.2" fill="#ffc141" stroke="#151510" stroke-opacity="0.85" stroke-width="0.42"/>
<polygon points="146.6,770.8 153.2,768.2 146.9,768.9 140.2,771.5" fill="#ff9b38" stroke="#151510" stroke-opacity="0.85" stroke-width="0.42"/>
<polygon points="159.7,767.8 166.3,765.4 159.8,765.9 153.2,768.2" fill="#ff7730" stroke="#151510" stroke-opacity="0.85" stroke-width="0.42"/>
<polygon points="172.9,765.2 179.4,763.0 172.8,763.3 166.3,765.4" fill="#ff5b2e" stroke="#151510" stroke-opacity="0.85" stroke-width="0.42"/>
<polygon points="186.1,763.0 192.5,761.1 185.8,761.2 179.4,763.0" fill="#ff442d" stroke="#151510" stroke-opacity="0.85" stroke-width="0.42"/>
<polygon points="199.3,761.2 205.6,759.6 198.8,759.4 192.5,761.1" fill="#ff312d" stroke="#151510" stroke-opacity="0.85" stroke-width="0.42"/>
<polygon points="212.5,759.9 218.7,758.5 211.9,758.2 205.6,759.6" fill="#ff302d" stroke="#151510" stroke-opacity="0.85" stroke-width="0.42"/>
<polygon points="225.7,759.1 231.9,757.9 224.9,757.3 218.7,758.5" fill="#fd302c" stroke="#151510" stroke-opacity="0.85" stroke-width="0.42"/>
<polygon points="238.9,758.7 245.0,757.7 237.9,756.9 231.9,757.9" fill="#fb302c" stroke="#151510" stroke-opacity="0.85" stroke-width="0.42"/>
<polygon points="252.1,758.7 258.1,757.9 251.0,756.9 245.0,757.7" fill="#f9302c" stroke="#151510" stroke-opacity="0.85" stroke-width="0.42"/>
<polygon points="265.3,759.2 271.2,758.6 264.0,757.3 258.1,757.9" fill="#f7302c" stroke="#151510" stroke-opacity="0.85" stroke-width="0.42"/>
<polygon points="278.5,760.1 284.2,759.7 277.0,758.2 271.2,758.6" fill="#f5302d" stroke="#151510" stroke-opacity="0.85" stroke-width="0.42"/>
<polygon points="291.6,761.4 297.3,761.3 289.9,759.6 284.2,759.7" fill="#f2332d" stroke="#151510" stroke-opacity="0.85" stroke-width="0.42"/>
<polygon points="48.9,808.5 56.0,804.0 50.4,806.0 43.4,810.4" fill="#4cff7c" stroke="#151510" stroke-opacity="0.85" stroke-width="0.42"/>
<polygon points="113.6,781.5 120.4,778.2 114.3,779.3 107.4,782.5" fill="#fff24f" stroke="#151510" stroke-opacity="0.85" stroke-width="0.42"/>
<polygon points="153.1,770.4 159.7,767.8 153.2,768.2 146.6,770.8" fill="#ff7e31" stroke="#151510" stroke-opacity="0.85" stroke-width="0.42"/>
<polygon points="179.6,765.1 186.1,763.0 179.4,763.0 172.9,765.2" fill="#ff452d" stroke="#151510" stroke-opacity="0.85" stroke-width="0.42"/>
<polygon points="219.4,760.5 225.7,759.1 218.7,758.5 212.5,759.9" fill="#ff302c" stroke="#151510" stroke-opacity="0.85" stroke-width="0.42"/>
<polygon points="285.8,761.8 291.6,761.4 284.2,759.7 278.5,760.1" fill="#f4302d" stroke="#151510" stroke-opacity="0.85" stroke-width="0.42"/>
<polygon points="61.7,802.2 68.8,798.0 63.1,799.8 56.0,804.0" fill="#59ff4f" stroke="#151510" stroke-opacity="0.85" stroke-width="0.42"/>
<polygon points="74.6,796.4 81.6,792.4 75.8,794.1 68.8,798.0" fill="#8dff51" stroke="#151510" stroke-opacity="0.85" stroke-width="0.42"/>
<polygon points="87.5,791.0 94.5,787.3 88.6,788.7 81.6,792.4" fill="#bcff53" stroke="#151510" stroke-opacity="0.85" stroke-width="0.42"/>
<polygon points="100.5,786.1 107.4,782.5 101.4,783.8 94.5,787.3" fill="#e6ff56" stroke="#151510" stroke-opacity="0.85" stroke-width="0.42"/>
<polygon points="126.7,777.4 133.5,774.3 127.2,775.2 120.4,778.2" fill="#ffcb44" stroke="#151510" stroke-opacity="0.85" stroke-width="0.42"/>
<polygon points="139.9,773.6 146.6,770.8 140.2,771.5 133.5,774.3" fill="#ffa43a" stroke="#151510" stroke-opacity="0.85" stroke-width="0.42"/>
<polygon points="166.3,767.5 172.9,765.2 166.3,765.4 159.7,767.8" fill="#ff5e2e" stroke="#151510" stroke-opacity="0.85" stroke-width="0.42"/>
<polygon points="192.8,763.1 199.3,761.2 192.5,761.1 186.1,763.0" fill="#ff312d" stroke="#151510" stroke-opacity="0.85" stroke-width="0.42"/>
<polygon points="206.1,761.6 212.5,759.9 205.6,759.6 199.3,761.2" fill="#ff302d" stroke="#151510" stroke-opacity="0.85" stroke-width="0.42"/>
<polygon points="232.7,759.9 238.9,758.7 231.9,757.9 225.7,759.1" fill="#fd302c" stroke="#151510" stroke-opacity="0.85" stroke-width="0.42"/>
<polygon points="246.0,759.7 252.1,758.7 245.0,757.7 238.9,758.7" fill="#fb302c" stroke="#151510" stroke-opacity="0.85" stroke-width="0.42"/>
<polygon points="259.3,760.0 265.3,759.2 258.1,757.9 252.1,758.7" fill="#f9302c" stroke="#151510" stroke-opacity="0.85" stroke-width="0.42"/>
<polygon points="272.6,760.7 278.5,760.1 271.2,758.6 265.3,759.2" fill="#f7302c" stroke="#151510" stroke-opacity="0.85" stroke-width="0.42"/>
<polygon points="54.6,806.7 61.7,802.2 56.0,804.0 48.9,808.5" fill="#54ff5e" stroke="#151510" stroke-opacity="0.85" stroke-width="0.42"/>
<polygon points="80.5,795.1 87.5,791.0 81.6,792.4 74.6,796.4" fill="#adff53" stroke="#151510" stroke-opacity="0.85" stroke-width="0.42"/>
<polygon points="106.7,785.0 113.6,781.5 107.4,782.5 100.5,786.1" fill="#fffe53" stroke="#151510" stroke-opacity="0.85" stroke-width="0.42"/>
<polygon points="119.8,780.7 126.7,777.4 120.4,778.2 113.6,781.5" fill="#ffd647" stroke="#151510" stroke-opacity="0.85" stroke-width="0.42"/>
<polygon points="146.3,773.2 153.1,770.4 146.6,770.8 139.9,773.6" fill="#ff8733" stroke="#151510" stroke-opacity="0.85" stroke-width="0.42"/>
<polygon points="159.6,770.1 166.3,767.5 159.7,767.8 153.1,770.4" fill="#ff642e" stroke="#151510" stroke-opacity="0.85" stroke-width="0.42"/>
<polygon points="173.0,767.5 179.6,765.1 172.9,765.2 166.3,767.5" fill="#ff482d" stroke="#151510" stroke-opacity="0.85" stroke-width="0.42"/>
<polygon points="186.3,765.3 192.8,763.1 186.1,763.0 179.6,765.1" fill="#ff312d" stroke="#151510" stroke-opacity="0.85" stroke-width="0.42"/>
<polygon points="213.1,762.2 219.4,760.5 212.5,759.9 206.1,761.6" fill="#ff302c" stroke="#151510" stroke-opacity="0.85" stroke-width="0.42"/>
<polygon points="226.5,761.4 232.7,759.9 225.7,759.1 219.4,760.5" fill="#ff302c" stroke="#151510" stroke-opacity="0.85" stroke-width="0.42"/>
<polygon points="253.3,761.0 259.3,760.0 252.1,758.7 246.0,759.7" fill="#fb302c" stroke="#151510" stroke-opacity="0.85" stroke-width="0.42"/>
<polygon points="280.0,762.4 285.8,761.8 278.5,760.1 272.6,760.7" fill="#f6302c" stroke="#151510" stroke-opacity="0.85" stroke-width="0.42"/>
<polygon points="67.5,800.7 74.6,796.4 68.8,798.0 61.7,802.2" fill="#7bff50" stroke="#151510" stroke-opacity="0.85" stroke-width="0.42"/>
<polygon points="93.5,789.8 100.5,786.1 94.5,787.3 87.5,791.0" fill="#d9ff55" stroke="#151510" stroke-opacity="0.85" stroke-width="0.42"/>
<polygon points="133.1,776.7 139.9,773.6 133.5,774.3 126.7,777.4" fill="#ffae3d" stroke="#151510" stroke-opacity="0.85" stroke-width="0.42"/>
<polygon points="199.7,763.6 206.1,761.6 199.3,761.2 192.8,763.1" fill="#ff302c" stroke="#151510" stroke-opacity="0.85" stroke-width="0.42"/>
<polygon points="239.9,761.0 246.0,759.7 238.9,758.7 232.7,759.9" fill="#fd302c" stroke="#151510" stroke-opacity="0.85" stroke-width="0.42"/>
<polygon points="266.6,761.5 272.6,760.7 265.3,759.2 259.3,760.0" fill="#f9302c" stroke="#151510" stroke-opacity="0.85" stroke-width="0.42"/>
<polygon points="73.4,799.4 80.5,795.1 74.6,796.4 67.5,800.7" fill="#9bff52" stroke="#151510" stroke-opacity="0.85" stroke-width="0.42"/>
<polygon points="99.7,788.9 106.7,785.0 100.5,786.1 93.5,789.8" fill="#f3ff56" stroke="#151510" stroke-opacity="0.85" stroke-width="0.42"/>
<polygon points="166.3,770.2 173.0,767.5 166.3,767.5 159.6,770.1" fill="#ff4e2d" stroke="#151510" stroke-opacity="0.85" stroke-width="0.42"/>
<polygon points="233.6,762.5 239.9,761.0 232.7,759.9 226.5,761.4" fill="#fe302c" stroke="#151510" stroke-opacity="0.85" stroke-width="0.42"/>
<polygon points="260.6,762.6 266.6,761.5 259.3,760.0 253.3,761.0" fill="#fa302c" stroke="#151510" stroke-opacity="0.85" stroke-width="0.42"/>
<polygon points="60.3,805.2 67.5,800.7 61.7,802.2 54.6,806.7" fill="#67ff4f" stroke="#151510" stroke-opacity="0.85" stroke-width="0.42"/>
<polygon points="86.5,793.9 93.5,789.8 87.5,791.0 80.5,795.1" fill="#caff54" stroke="#151510" stroke-opacity="0.85" stroke-width="0.42"/>
<polygon points="112.9,784.3 119.8,780.7 113.6,781.5 106.7,785.0" fill="#ffe44b" stroke="#151510" stroke-opacity="0.85" stroke-width="0.42"/>
<polygon points="126.2,780.1 133.1,776.7 126.7,777.4 119.8,780.7" fill="#ffbb40" stroke="#151510" stroke-opacity="0.85" stroke-width="0.42"/>
<polygon points="139.5,776.3 146.3,773.2 139.9,773.6 133.1,776.7" fill="#ff9236" stroke="#151510" stroke-opacity="0.85" stroke-width="0.42"/>
<polygon points="152.9,773.0 159.6,770.1 153.1,770.4 146.3,773.2" fill="#ff6c2e" stroke="#151510" stroke-opacity="0.85" stroke-width="0.42"/>
<polygon points="179.7,767.7 186.3,765.3 179.6,765.1 173.0,767.5" fill="#ff352d" stroke="#151510" stroke-opacity="0.85" stroke-width="0.42"/>
<polygon points="193.2,765.7 199.7,763.6 192.8,763.1 186.3,765.3" fill="#ff302d" stroke="#151510" stroke-opacity="0.85" stroke-width="0.42"/>
<polygon points="206.7,764.2 213.1,762.2 206.1,761.6 199.7,763.6" fill="#ff302c" stroke="#151510" stroke-opacity="0.85" stroke-width="0.42"/>
<polygon points="220.1,763.1 226.5,761.4 219.4,760.5 213.1,762.2" fill="#ff302c" stroke="#151510" stroke-opacity="0.85" stroke-width="0.42"/>
<polygon points="247.1,762.3 253.3,761.0 246.0,759.7 239.9,761.0" fill="#fd302c" stroke="#151510" stroke-opacity="0.85" stroke-width="0.42"/>
<polygon points="274.0,763.3 280.0,762.4 272.6,760.7 266.6,761.5" fill="#f8302c" stroke="#151510" stroke-opacity="0.85" stroke-width="0.42"/>
<polygon points="66.2,803.9 73.4,799.4 67.5,800.7 60.3,805.2" fill="#87ff51" stroke="#151510" stroke-opacity="0.85" stroke-width="0.42"/>
<polygon points="79.3,798.2 86.5,793.9 80.5,795.1 73.4,799.4" fill="#b8ff53" stroke="#151510" stroke-opacity="0.85" stroke-width="0.42"/>
<polygon points="92.6,793.0 99.7,788.9 93.5,789.8 86.5,793.9" fill="#e4ff56" stroke="#151510" stroke-opacity="0.85" stroke-width="0.42"/>
<polygon points="105.9,788.1 112.9,784.3 106.7,785.0 99.7,788.9" fill="#fff250" stroke="#151510" stroke-opacity="0.85" stroke-width="0.42"/>
<polygon points="132.6,779.7 139.5,776.3 133.1,776.7 126.2,780.1" fill="#ffa039" stroke="#151510" stroke-opacity="0.85" stroke-width="0.42"/>
<polygon points="159.5,773.1 166.3,770.2 159.6,770.1 152.9,773.0" fill="#ff562e" stroke="#151510" stroke-opacity="0.85" stroke-width="0.42"/>
<polygon points="173.1,770.4 179.7,767.7 173.0,767.5 166.3,770.2" fill="#ff3b2d" stroke="#151510" stroke-opacity="0.85" stroke-width="0.42"/>
<polygon points="200.2,766.4 206.7,764.2 199.7,763.6 193.2,765.7" fill="#ff302c" stroke="#151510" stroke-opacity="0.85" stroke-width="0.42"/>
<polygon points="227.3,764.3 233.6,762.5 226.5,761.4 220.1,763.1" fill="#ff302c" stroke="#151510" stroke-opacity="0.85" stroke-width="0.42"/>
<polygon points="240.9,763.9 247.1,762.3 239.9,761.0 233.6,762.5" fill="#fe302c" stroke="#151510" stroke-opacity="0.85" stroke-width="0.42"/>
<polygon points="254.4,763.9 260.6,762.6 253.3,761.0 247.1,762.3" fill="#fc302c" stroke="#151510" stroke-opacity="0.85" stroke-width="0.42"/>
<polygon points="268.0,764.4 274.0,763.3 266.6,761.5 260.6,762.6" fill="#fa302c" stroke="#151510" stroke-opacity="0.85" stroke-width="0.42"/>
<polygon points="119.2,783.7 126.2,780.1 119.8,780.7 112.9,784.3" fill="#ffc944" stroke="#151510" stroke-opacity="0.85" stroke-width="0.42"/>
<polygon points="146.1,776.2 152.9,773.0 146.3,773.2 139.5,776.3" fill="#ff772f" stroke="#151510" stroke-opacity="0.85" stroke-width="0.42"/>
<polygon points="186.6,768.2 193.2,765.7 186.3,765.3 179.7,767.7" fill="#ff302d" stroke="#151510" stroke-opacity="0.85" stroke-width="0.42"/>
<polygon points="213.7,765.1 220.1,763.1 213.1,762.2 206.7,764.2" fill="#ff302c" stroke="#151510" stroke-opacity="0.85" stroke-width="0.42"/>
<polygon points="72.1,802.8 79.3,798.2 73.4,799.4 66.2,803.9" fill="#a5ff52" stroke="#151510" stroke-opacity="0.85" stroke-width="0.42"/>
<polygon points="85.4,797.3 92.6,793.0 86.5,793.9 79.3,798.2" fill="#d3ff55" stroke="#151510" stroke-opacity="0.85" stroke-width="0.42"/>
<polygon points="98.8,792.2 105.9,788.1 99.7,788.9 92.6,793.0" fill="#fcff55" stroke="#151510" stroke-opacity="0.85" stroke-width="0.42"/>
<polygon points="112.2,787.6 119.2,783.7 112.9,784.3 105.9,788.1" fill="#ffd948" stroke="#151510" stroke-opacity="0.85" stroke-width="0.42"/>
<polygon points="125.6,783.4 132.6,779.7 126.2,780.1 119.2,783.7" fill="#ffaf3d" stroke="#151510" stroke-opacity="0.85" stroke-width="0.42"/>
<polygon points="139.2,779.6 146.1,776.2 139.5,776.3 132.6,779.7" fill="#ff8633" stroke="#151510" stroke-opacity="0.85" stroke-width="0.42"/>
<polygon points="152.7,776.2 159.5,773.1 152.9,773.0 146.1,776.2" fill="#ff612e" stroke="#151510" stroke-opacity="0.85" stroke-width="0.42"/>
<polygon points="166.3,773.4 173.1,770.4 166.3,770.2 159.5,773.1" fill="#ff432d" stroke="#151510" stroke-opacity="0.85" stroke-width="0.42"/>
<polygon points="179.9,770.9 186.6,768.2 179.7,767.7 173.1,770.4" fill="#ff312d" stroke="#151510" stroke-opacity="0.85" stroke-width="0.42"/>
<polygon points="193.6,768.9 200.2,766.4 193.2,765.7 186.6,768.2" fill="#ff302c" stroke="#151510" stroke-opacity="0.85" stroke-width="0.42"/>
<polygon points="207.2,767.4 213.7,765.1 206.7,764.2 200.2,766.4" fill="#ff302c" stroke="#151510" stroke-opacity="0.85" stroke-width="0.42"/>
<polygon points="220.9,766.3 227.3,764.3 220.1,763.1 213.7,765.1" fill="#ff302c" stroke="#151510" stroke-opacity="0.85" stroke-width="0.42"/>
<polygon points="234.5,765.7 240.9,763.9 233.6,762.5 227.3,764.3" fill="#ff302c" stroke="#151510" stroke-opacity="0.85" stroke-width="0.42"/>
<polygon points="248.2,765.5 254.4,763.9 247.1,762.3 240.9,763.9" fill="#fe302c" stroke="#151510" stroke-opacity="0.85" stroke-width="0.42"/>
<polygon points="261.8,765.8 268.0,764.4 260.6,762.6 254.4,763.9" fill="#fc302c" stroke="#151510" stroke-opacity="0.85" stroke-width="0.42"/>
<polygon points="78.2,802.0 85.4,797.3 79.3,798.2 72.1,802.8" fill="#c0ff54" stroke="#151510" stroke-opacity="0.85" stroke-width="0.42"/>
<polygon points="145.8,779.7 152.7,776.2 146.1,776.2 139.2,779.6" fill="#ff6d2e" stroke="#151510" stroke-opacity="0.85" stroke-width="0.42"/>
<polygon points="186.9,771.7 193.6,768.9 186.6,768.2 179.9,770.9" fill="#ff302c" stroke="#151510" stroke-opacity="0.85" stroke-width="0.42"/>
<polygon points="255.6,767.4 261.8,765.8 254.4,763.9 248.2,765.5" fill="#fd302c" stroke="#151510" stroke-opacity="0.85" stroke-width="0.42"/>
<polygon points="91.6,796.7 98.8,792.2 92.6,793.0 85.4,797.3" fill="#ebff56" stroke="#151510" stroke-opacity="0.85" stroke-width="0.42"/>
<polygon points="105.1,791.8 112.2,787.6 105.9,788.1 98.8,792.2" fill="#ffeb4d" stroke="#151510" stroke-opacity="0.85" stroke-width="0.42"/>
<polygon points="118.6,787.3 125.6,783.4 119.2,783.7 112.2,787.6" fill="#ffc141" stroke="#151510" stroke-opacity="0.85" stroke-width="0.42"/>
<polygon points="132.2,783.3 139.2,779.6 132.6,779.7 125.6,783.4" fill="#ff9637" stroke="#151510" stroke-opacity="0.85" stroke-width="0.42"/>
<polygon points="159.5,776.6 166.3,773.4 159.5,773.1 152.7,776.2" fill="#ff4e2d" stroke="#151510" stroke-opacity="0.85" stroke-width="0.42"/>
<polygon points="173.2,773.9 179.9,770.9 173.1,770.4 166.3,773.4" fill="#ff322d" stroke="#151510" stroke-opacity="0.85" stroke-width="0.42"/>
<polygon points="200.6,769.9 207.2,767.4 200.2,766.4 193.6,768.9" fill="#ff302c" stroke="#151510" stroke-opacity="0.85" stroke-width="0.42"/>
<polygon points="214.4,768.6 220.9,766.3 213.7,765.1 207.2,767.4" fill="#ff302c" stroke="#151510" stroke-opacity="0.85" stroke-width="0.42"/>
<polygon points="228.1,767.7 234.5,765.7 227.3,764.3 220.9,766.3" fill="#ff302c" stroke="#151510" stroke-opacity="0.85" stroke-width="0.42"/>
<polygon points="241.9,767.3 248.2,765.5 240.9,763.9 234.5,765.7" fill="#ff302c" stroke="#151510" stroke-opacity="0.85" stroke-width="0.42"/>
<polygon points="84.4,801.3 91.6,796.7 85.4,797.3 78.2,802.0" fill="#d8ff55" stroke="#151510" stroke-opacity="0.85" stroke-width="0.42"/>
<polygon points="111.5,791.5 118.6,787.3 112.2,787.6 105.1,791.8" fill="#ffd447" stroke="#151510" stroke-opacity="0.85" stroke-width="0.42"/>
<polygon points="138.8,783.4 145.8,779.7 139.2,779.6 132.2,783.3" fill="#ff7f31" stroke="#151510" stroke-opacity="0.85" stroke-width="0.42"/>
<polygon points="152.5,780.1 159.5,776.6 152.7,776.2 145.8,779.7" fill="#ff5b2e" stroke="#151510" stroke-opacity="0.85" stroke-width="0.42"/>
<polygon points="180.1,774.7 186.9,771.7 179.9,770.9 173.2,773.9" fill="#ff302d" stroke="#151510" stroke-opacity="0.85" stroke-width="0.42"/>
<polygon points="193.9,772.7 200.6,769.9 193.6,768.9 186.9,771.7" fill="#ff302c" stroke="#151510" stroke-opacity="0.85" stroke-width="0.42"/>
<polygon points="221.6,770.0 228.1,767.7 220.9,766.3 214.4,768.6" fill="#ff302c" stroke="#151510" stroke-opacity="0.85" stroke-width="0.42"/>
<polygon points="249.3,769.2 255.6,767.4 248.2,765.5 241.9,767.3" fill="#fe302c" stroke="#151510" stroke-opacity="0.85" stroke-width="0.42"/>
<polygon points="97.9,796.2 105.1,791.8 98.8,792.2 91.6,796.7" fill="#fffd53" stroke="#151510" stroke-opacity="0.85" stroke-width="0.42"/>
<polygon points="125.1,787.2 132.2,783.3 125.6,783.4 118.6,787.3" fill="#ffa93b" stroke="#151510" stroke-opacity="0.85" stroke-width="0.42"/>
<polygon points="166.3,777.1 173.2,773.9 166.3,773.4 159.5,776.6" fill="#ff3d2d" stroke="#151510" stroke-opacity="0.85" stroke-width="0.42"/>
<polygon points="207.8,771.1 214.4,768.6 207.2,767.4 200.6,769.9" fill="#ff302c" stroke="#151510" stroke-opacity="0.85" stroke-width="0.42"/>
<polygon points="235.4,769.4 241.9,767.3 234.5,765.7 228.1,767.7" fill="#ff302c" stroke="#151510" stroke-opacity="0.85" stroke-width="0.42"/>
<polygon points="104.3,796.0 111.5,791.5 105.1,791.8 97.9,796.2" fill="#ffe74c" stroke="#151510" stroke-opacity="0.85" stroke-width="0.42"/>
<polygon points="131.7,787.4 138.8,783.4 132.2,783.3 125.1,787.2" fill="#ff9236" stroke="#151510" stroke-opacity="0.85" stroke-width="0.42"/>
<polygon points="201.1,773.9 207.8,771.1 200.6,769.9 193.9,772.7" fill="#ff302c" stroke="#151510" stroke-opacity="0.85" stroke-width="0.42"/>
<polygon points="228.9,771.8 235.4,769.4 228.1,767.7 221.6,770.0" fill="#ff302c" stroke="#151510" stroke-opacity="0.85" stroke-width="0.42"/>
<polygon points="90.6,800.9 97.9,796.2 91.6,796.7 84.4,801.3" fill="#eeff56" stroke="#151510" stroke-opacity="0.85" stroke-width="0.42"/>
<polygon points="118.0,791.5 125.1,787.2 118.6,787.3 111.5,791.5" fill="#ffbd40" stroke="#151510" stroke-opacity="0.85" stroke-width="0.42"/>
<polygon points="145.5,783.8 152.5,780.1 145.8,779.7 138.8,783.4" fill="#ff6a2e" stroke="#151510" stroke-opacity="0.85" stroke-width="0.42"/>
<polygon points="159.4,780.7 166.3,777.1 159.5,776.6 152.5,780.1" fill="#ff4a2d" stroke="#151510" stroke-opacity="0.85" stroke-width="0.42"/>
<polygon points="173.2,778.0 180.1,774.7 173.2,773.9 166.3,777.1" fill="#ff312d" stroke="#151510" stroke-opacity="0.85" stroke-width="0.42"/>
<polygon points="187.1,775.7 193.9,772.7 186.9,771.7 180.1,774.7" fill="#ff302c" stroke="#151510" stroke-opacity="0.85" stroke-width="0.42"/>
<polygon points="215.0,772.6 221.6,770.0 214.4,768.6 207.8,771.1" fill="#ff302c" stroke="#151510" stroke-opacity="0.85" stroke-width="0.42"/>
<polygon points="242.9,771.4 249.3,769.2 241.9,767.3 235.4,769.4" fill="#ff302c" stroke="#151510" stroke-opacity="0.85" stroke-width="0.42"/>
<polygon points="97.0,800.8 104.3,796.0 97.9,796.2 90.6,800.9" fill="#fffc53" stroke="#151510" stroke-opacity="0.85" stroke-width="0.42"/>
<polygon points="110.7,796.0 118.0,791.5 111.5,791.5 104.3,796.0" fill="#ffd246" stroke="#151510" stroke-opacity="0.85" stroke-width="0.42"/>
<polygon points="124.6,791.7 131.7,787.4 125.1,787.2 118.0,791.5" fill="#ffa83b" stroke="#151510" stroke-opacity="0.85" stroke-width="0.42"/>
<polygon points="138.4,787.9 145.5,783.8 138.8,783.4 131.7,787.4" fill="#ff7d31" stroke="#151510" stroke-opacity="0.85" stroke-width="0.42"/>
<polygon points="166.3,781.5 173.2,778.0 166.3,777.1 159.4,780.7" fill="#ff3c2d" stroke="#151510" stroke-opacity="0.85" stroke-width="0.42"/>
<polygon points="194.3,777.0 201.1,773.9 193.9,772.7 187.1,775.7" fill="#ff302c" stroke="#151510" stroke-opacity="0.85" stroke-width="0.42"/>
<polygon points="208.3,775.5 215.0,772.6 207.8,771.1 201.1,773.9" fill="#ff302c" stroke="#151510" stroke-opacity="0.85" stroke-width="0.42"/>
<polygon points="222.3,774.4 228.9,771.8 221.6,770.0 215.0,772.6" fill="#ff302c" stroke="#151510" stroke-opacity="0.85" stroke-width="0.42"/>
<polygon points="236.4,773.8 242.9,771.4 235.4,769.4 228.9,771.8" fill="#ff302c" stroke="#151510" stroke-opacity="0.85" stroke-width="0.42"/>
<polygon points="152.3,784.5 159.4,780.7 152.5,780.1 145.5,783.8" fill="#ff5a2e" stroke="#151510" stroke-opacity="0.85" stroke-width="0.42"/>
<polygon points="180.3,779.1 187.1,775.7 180.1,774.7 173.2,778.0" fill="#ff302d" stroke="#151510" stroke-opacity="0.85" stroke-width="0.42"/>
<polygon points="103.4,800.8 110.7,796.0 104.3,796.0 97.0,800.8" fill="#ffe84d" stroke="#151510" stroke-opacity="0.85" stroke-width="0.42"/>
<polygon points="117.3,796.3 124.6,791.7 118.0,791.5 110.7,796.0" fill="#ffbe41" stroke="#151510" stroke-opacity="0.85" stroke-width="0.42"/>
<polygon points="131.3,792.2 138.4,787.9 131.7,787.4 124.6,791.7" fill="#ff9436" stroke="#151510" stroke-opacity="0.85" stroke-width="0.42"/>
<polygon points="159.3,785.4 166.3,781.5 159.4,780.7 152.3,784.5" fill="#ff4c2d" stroke="#151510" stroke-opacity="0.85" stroke-width="0.42"/>
<polygon points="173.3,782.7 180.3,779.1 173.2,778.0 166.3,781.5" fill="#ff312d" stroke="#151510" stroke-opacity="0.85" stroke-width="0.42"/>
<polygon points="201.5,778.6 208.3,775.5 201.1,773.9 194.3,777.0" fill="#ff302c" stroke="#151510" stroke-opacity="0.85" stroke-width="0.42"/>
<polygon points="215.6,777.3 222.3,774.4 215.0,772.6 208.3,775.5" fill="#ff302c" stroke="#151510" stroke-opacity="0.85" stroke-width="0.42"/>
<polygon points="229.8,776.4 236.4,773.8 228.9,771.8 222.3,774.4" fill="#ff302c" stroke="#151510" stroke-opacity="0.85" stroke-width="0.42"/>
<polygon points="145.2,788.6 152.3,784.5 145.5,783.8 138.4,787.9" fill="#ff6b2e" stroke="#151510" stroke-opacity="0.85" stroke-width="0.42"/>
<polygon points="187.4,780.4 194.3,777.0 187.1,775.7 180.3,779.1" fill="#ff302c" stroke="#151510" stroke-opacity="0.85" stroke-width="0.42"/>
<polygon points="110.0,801.2 117.3,796.3 110.7,796.0 103.4,800.8" fill="#ffd647" stroke="#151510" stroke-opacity="0.85" stroke-width="0.42"/>
<polygon points="223.1,779.4 229.8,776.4 222.3,774.4 215.6,777.3" fill="#ff302c" stroke="#151510" stroke-opacity="0.85" stroke-width="0.42"/>
<polygon points="124.0,796.8 131.3,792.2 124.6,791.7 117.3,796.3" fill="#ffac3c" stroke="#151510" stroke-opacity="0.85" stroke-width="0.42"/>
<polygon points="152.2,789.5 159.3,785.4 152.3,784.5 145.2,788.6" fill="#ff5e2e" stroke="#151510" stroke-opacity="0.85" stroke-width="0.42"/>
<polygon points="166.3,786.6 173.3,782.7 166.3,781.5 159.3,785.4" fill="#ff402d" stroke="#151510" stroke-opacity="0.85" stroke-width="0.42"/>
<polygon points="180.5,784.1 187.4,780.4 180.3,779.1 173.3,782.7" fill="#ff312d" stroke="#151510" stroke-opacity="0.85" stroke-width="0.42"/>
<polygon points="208.9,780.5 215.6,777.3 208.3,775.5 201.5,778.6" fill="#ff302c" stroke="#151510" stroke-opacity="0.85" stroke-width="0.42"/>
<polygon points="138.1,793.0 145.2,788.6 138.4,787.9 131.3,792.2" fill="#ff8232" stroke="#151510" stroke-opacity="0.85" stroke-width="0.42"/>
<polygon points="194.7,782.0 201.5,778.6 194.3,777.0 187.4,780.4" fill="#ff302c" stroke="#151510" stroke-opacity="0.85" stroke-width="0.42"/>
<polygon points="116.7,801.8 124.0,796.8 117.3,796.3 110.0,801.2" fill="#ffc442" stroke="#151510" stroke-opacity="0.85" stroke-width="0.42"/>
<polygon points="145.0,794.0 152.2,789.5 145.2,788.6 138.1,793.0" fill="#ff722e" stroke="#151510" stroke-opacity="0.85" stroke-width="0.42"/>
<polygon points="159.2,790.8 166.3,786.6 159.3,785.4 152.2,789.5" fill="#ff522d" stroke="#151510" stroke-opacity="0.85" stroke-width="0.42"/>
<polygon points="173.4,788.0 180.5,784.1 173.3,782.7 166.3,786.6" fill="#ff372d" stroke="#151510" stroke-opacity="0.85" stroke-width="0.42"/>
<polygon points="187.7,785.7 194.7,782.0 187.4,780.4 180.5,784.1" fill="#ff302d" stroke="#151510" stroke-opacity="0.85" stroke-width="0.42"/>
<polygon points="216.3,782.6 223.1,779.4 215.6,777.3 208.9,780.5" fill="#ff302c" stroke="#151510" stroke-opacity="0.85" stroke-width="0.42"/>
<polygon points="130.8,797.6 138.1,793.0 131.3,792.2 124.0,796.8" fill="#ff9b38" stroke="#151510" stroke-opacity="0.85" stroke-width="0.42"/>
<polygon points="202.0,783.9 208.9,780.5 201.5,778.6 194.7,782.0" fill="#ff302c" stroke="#151510" stroke-opacity="0.85" stroke-width="0.42"/>
<polygon points="137.7,798.7 145.0,794.0 138.1,793.0 130.8,797.6" fill="#ff8c34" stroke="#151510" stroke-opacity="0.85" stroke-width="0.42"/>
<polygon points="195.0,787.7 202.0,783.9 194.7,782.0 187.7,785.7" fill="#ff302c" stroke="#151510" stroke-opacity="0.85" stroke-width="0.42"/>
<polygon points="123.4,802.6 130.8,797.6 124.0,796.8 116.7,801.8" fill="#ffb53e" stroke="#151510" stroke-opacity="0.85" stroke-width="0.42"/>
<polygon points="152.0,795.2 159.2,790.8 152.2,789.5 145.0,794.0" fill="#ff672e" stroke="#151510" stroke-opacity="0.85" stroke-width="0.42"/>
<polygon points="166.3,792.2 173.4,788.0 166.3,786.6 159.2,790.8" fill="#ff492d" stroke="#151510" stroke-opacity="0.85" stroke-width="0.42"/>
<polygon points="180.7,789.7 187.7,785.7 180.5,784.1 173.4,788.0" fill="#ff312d" stroke="#151510" stroke-opacity="0.85" stroke-width="0.42"/>
<polygon points="209.4,786.1 216.3,782.6 208.9,780.5 202.0,783.9" fill="#ff302c" stroke="#151510" stroke-opacity="0.85" stroke-width="0.42"/>
<polygon points="130.3,803.7 137.7,798.7 130.8,797.6 123.4,802.6" fill="#ffa73b" stroke="#151510" stroke-opacity="0.85" stroke-width="0.42"/>
<polygon points="144.7,800.0 152.0,795.2 145.0,794.0 137.7,798.7" fill="#ff7f31" stroke="#151510" stroke-opacity="0.85" stroke-width="0.42"/>
<polygon points="188.0,791.7 195.0,787.7 187.7,785.7 180.7,789.7" fill="#ff312d" stroke="#151510" stroke-opacity="0.85" stroke-width="0.42"/>
<polygon points="202.5,789.9 209.4,786.1 202.0,783.9 195.0,787.7" fill="#ff302c" stroke="#151510" stroke-opacity="0.85" stroke-width="0.42"/>
<polygon points="159.1,796.8 166.3,792.2 159.2,790.8 152.0,795.2" fill="#ff5e2e" stroke="#151510" stroke-opacity="0.85" stroke-width="0.42"/>
<polygon points="173.5,794.0 180.7,789.7 173.4,788.0 166.3,792.2" fill="#ff432d" stroke="#151510" stroke-opacity="0.85" stroke-width="0.42"/>
<polygon points="137.3,805.1 144.7,800.0 137.7,798.7 130.3,803.7" fill="#ff9b38" stroke="#151510" stroke-opacity="0.85" stroke-width="0.42"/>
<polygon points="151.8,801.6 159.1,796.8 152.0,795.2 144.7,800.0" fill="#ff752f" stroke="#151510" stroke-opacity="0.85" stroke-width="0.42"/>
<polygon points="166.3,798.6 173.5,794.0 166.3,792.2 159.1,796.8" fill="#ff582e" stroke="#151510" stroke-opacity="0.85" stroke-width="0.42"/>
<polygon points="180.9,796.1 188.0,791.7 180.7,789.7 173.5,794.0" fill="#ff3f2d" stroke="#151510" stroke-opacity="0.85" stroke-width="0.42"/>
<polygon points="195.4,794.0 202.5,789.9 195.0,787.7 188.0,791.7" fill="#ff312d" stroke="#151510" stroke-opacity="0.85" stroke-width="0.42"/>
<polygon points="159.0,803.5 166.3,798.6 159.1,796.8 151.8,801.6" fill="#ff6f2e" stroke="#151510" stroke-opacity="0.85" stroke-width="0.42"/>
<polygon points="173.6,800.7 180.9,796.1 173.5,794.0 166.3,798.6" fill="#ff542d" stroke="#151510" stroke-opacity="0.85" stroke-width="0.42"/>
<polygon points="144.4,806.7 151.8,801.6 144.7,800.0 137.3,805.1" fill="#ff9236" stroke="#151510" stroke-opacity="0.85" stroke-width="0.42"/>
<polygon points="188.3,798.4 195.4,794.0 188.0,791.7 180.9,796.1" fill="#ff3e2d" stroke="#151510" stroke-opacity="0.85" stroke-width="0.42"/>
<polygon points="166.3,805.7 173.6,800.7 166.3,798.6 159.0,803.5" fill="#ff6b2e" stroke="#151510" stroke-opacity="0.85" stroke-width="0.42"/>
<polygon points="151.6,808.7 159.0,803.5 151.8,801.6 144.4,806.7" fill="#ff8b34" stroke="#151510" stroke-opacity="0.85" stroke-width="0.42"/>
<polygon points="181.0,803.1 188.3,798.4 180.9,796.1 173.6,800.7" fill="#ff532d" stroke="#151510" stroke-opacity="0.85" stroke-width="0.42"/>
<polygon points="158.9,810.9 166.3,805.7 159.0,803.5 151.6,808.7" fill="#ff8733" stroke="#151510" stroke-opacity="0.85" stroke-width="0.42"/>
<polygon points="173.7,808.1 181.0,803.1 173.6,800.7 166.3,805.7" fill="#ff6a2e" stroke="#151510" stroke-opacity="0.85" stroke-width="0.42"/>
<polygon points="166.3,813.4 173.7,808.1 166.3,805.7 158.9,810.9" fill="#ff8633" stroke="#151510" stroke-opacity="0.85" stroke-width="0.42"/>
<circle cx="37.9" cy="812.5" r="2.7" fill="#a8100c" stroke="#7a0a08" stroke-width="0.4"/>
<circle cx="166.3" cy="813.4" r="2.7" fill="#f6c9c9" stroke="#b88" stroke-width="0.5"/>
<circle cx="297.3" cy="761.3" r="2.7" fill="#f6c9c9" stroke="#b88" stroke-width="0.5"/>
<circle cx="166.3" cy="765.4" r="2.7" fill="#a8100c" stroke="#7a0a08" stroke-width="0.4"/>
</g>
<text x="30.9" y="728.0" font-size="5.4" text-anchor="end" fill="#262626"  textLength="7.6" lengthAdjust="spacingAndGlyphs">120</text>
<text x="32.2" y="754.0" font-size="5.4" text-anchor="end" fill="#262626"  textLength="7.6" lengthAdjust="spacingAndGlyphs">100</text>
<text x="33.4" y="779.9" font-size="5.4" text-anchor="end" fill="#262626"  textLength="5.0" lengthAdjust="spacingAndGlyphs">80</text>
<text x="34.7" y="805.9" font-size="5.4" text-anchor="end" fill="#262626"  textLength="5.0" lengthAdjust="spacingAndGlyphs">60</text>
<text x="35.9" y="831.9" font-size="5.4" text-anchor="end" fill="#262626"  textLength="5.0" lengthAdjust="spacingAndGlyphs">40</text>
<text x="37.2" y="857.9" font-size="5.4" text-anchor="end" fill="#262626"  textLength="5.0" lengthAdjust="spacingAndGlyphs">20</text>
<text x="39.3" y="905.2" font-size="5.4" text-anchor="end" fill="#262626"  textLength="7.6" lengthAdjust="spacingAndGlyphs">150</text>
<text x="64.1" y="917.1" font-size="5.4" text-anchor="end" fill="#262626"  textLength="7.6" lengthAdjust="spacingAndGlyphs">130</text>
<text x="89.0" y="929.0" font-size="5.4" text-anchor="end" fill="#262626"  textLength="7.2" lengthAdjust="spacingAndGlyphs">110</text>
<text x="113.8" y="940.9" font-size="5.4" text-anchor="end" fill="#262626"  textLength="5.0" lengthAdjust="spacingAndGlyphs">90</text>
<text x="138.7" y="952.8" font-size="5.4" text-anchor="end" fill="#262626"  textLength="5.0" lengthAdjust="spacingAndGlyphs">70</text>
<text x="163.5" y="964.7" font-size="5.4" text-anchor="end" fill="#262626"  textLength="5.0" lengthAdjust="spacingAndGlyphs">50</text>
<text x="168.9" y="964.7" font-size="5.4" text-anchor="start" fill="#262626" >1</text>
<text x="193.8" y="952.8" font-size="5.4" text-anchor="start" fill="#262626"  textLength="6.3" lengthAdjust="spacingAndGlyphs">6.8</text>
<text x="218.6" y="940.9" font-size="5.4" text-anchor="start" fill="#262626"  textLength="8.8" lengthAdjust="spacingAndGlyphs">12.6</text>
<text x="243.5" y="929.1" font-size="5.4" text-anchor="start" fill="#262626"  textLength="8.8" lengthAdjust="spacingAndGlyphs">18.4</text>
<text x="268.3" y="917.2" font-size="5.4" text-anchor="start" fill="#262626"  textLength="8.8" lengthAdjust="spacingAndGlyphs">24.2</text>
<text x="293.2" y="905.3" font-size="5.4" text-anchor="start" fill="#262626"  textLength="5.0" lengthAdjust="spacingAndGlyphs">30</text>
<text x="74.4" y="941.3" font-size="6.0" text-anchor="middle" fill="#262626"  textLength="48.5" lengthAdjust="spacingAndGlyphs">C: Cu2+ dose (mg/L)</text>
<text x="256.3" y="939.3" font-size="6.0" text-anchor="middle" fill="#262626"  textLength="30.7" lengthAdjust="spacingAndGlyphs">B: Time (min)</text>
<text x="14.2" y="817.0" font-size="5.9" text-anchor="middle" fill="#262626" transform="rotate(-90 14.2 817.0)"  textLength="52.7" lengthAdjust="spacingAndGlyphs">Cu2+ ions removal (%)</text>
<defs><linearGradient id="lg3" x1="0" x2="0" y1="1" y2="0"><stop offset="0" stop-color="#0000f0"/><stop offset="0.12" stop-color="#0010e0"/><stop offset="0.5" stop-color="#00d818"/><stop offset="0.9" stop-color="#e01000"/><stop offset="1" stop-color="#d80000"/></linearGradient></defs>
<rect x="18.8" y="808" width="7.1" height="18.9" fill="url(#lg3)"/>
<text x="24.2" y="832.2" font-size="5.3" text-anchor="end" fill="#2a2aa0" transform="rotate(-90 24.2 832.2)"  textLength="9.2" lengthAdjust="spacingAndGlyphs">38.6</text>
<text x="24.2" y="805.6" font-size="5.3" text-anchor="start" fill="#b02020" transform="rotate(-90 24.2 805.6)"  textLength="12.6" lengthAdjust="spacingAndGlyphs">97.48</text>
<defs><radialGradient id="rg4" gradientUnits="userSpaceOnUse" cx="0" cy="0" r="1" gradientTransform="matrix(442.0307 0.0000 -27.8438 360.3793 672.674 120.519)"><stop offset="0.0000" stop-color="#ff0000"/><stop offset="0.0208" stop-color="#ff0000"/><stop offset="0.0417" stop-color="#ff0000"/><stop offset="0.0625" stop-color="#ff0000"/><stop offset="0.0833" stop-color="#ff0000"/><stop offset="0.1042" stop-color="#ff0000"/><stop offset="0.1250" stop-color="#ff0000"/><stop offset="0.1458" stop-color="#ff0000"/><stop offset="0.1667" stop-color="#ff0000"/><stop offset="0.1756" stop-color="#ff0000"/><stop offset="0.1875" stop-color="#ff0500"/><stop offset="0.2083" stop-color="#ff0d00"/><stop offset="0.2292" stop-color="#ff1700"/><stop offset="0.2500" stop-color="#ff2200"/><stop offset="0.2708" stop-color="#ff2d00"/><stop offset="0.2917" stop-color="#ff3a00"/><stop offset="0.3125" stop-color="#ff4800"/><stop offset="0.3333" stop-color="#ff5600"/><stop offset="0.3542" stop-color="#ff6500"/><stop offset="0.3750" stop-color="#ff7600"/><stop offset="0.3958" stop-color="#ff8700"/><stop offset="0.4167" stop-color="#ff9900"/><stop offset="0.4375" stop-color="#ffac00"/><stop offset="0.4583" stop-color="#ffc000"/><stop offset="0.4792" stop-color="#ffd500"/><stop offset="0.5000" stop-color="#ffeb00"/><stop offset="0.5187" stop-color="#ffff00"/><stop offset="0.5208" stop-color="#fdff00"/><stop offset="0.5417" stop-color="#e5ff00"/><stop offset="0.5625" stop-color="#ccff00"/><stop offset="0.5833" stop-color="#b3ff00"/><stop offset="0.6042" stop-color="#98ff00"/><stop offset="0.6250" stop-color="#7dff00"/><stop offset="0.6458" stop-color="#61ff00"/><stop offset="0.6667" stop-color="#43ff00"/><stop offset="0.6875" stop-color="#25ff00"/><stop offset="0.7083" stop-color="#06ff00"/><stop offset="0.7123" stop-color="#00ff00"/><stop offset="0.7292" stop-color="#00ff1a"/><stop offset="0.7500" stop-color="#00ff3b"/><stop offset="0.7708" stop-color="#00ff5d"/><stop offset="0.7917" stop-color="#00ff80"/><stop offset="0.8125" stop-color="#00ffa4"/><stop offset="0.8333" stop-color="#00ffc8"/><stop offset="0.8542" stop-color="#00ffee"/><stop offset="0.8635" stop-color="#00ffff"/><stop offset="0.8750" stop-color="#00eaff"/><stop offset="0.8958" stop-color="#00c2ff"/><stop offset="0.9167" stop-color="#009aff"/><stop offset="0.9375" stop-color="#0070ff"/><stop offset="0.9583" stop-color="#0046ff"/><stop offset="0.9792" stop-color="#001bff"/><stop offset="0.9919" stop-color="#0000ff"/><stop offset="1.0000" stop-color="#0000ff"/></radialGradient><clipPath id="cp4"><rect x="397.6" y="14.0" width="280.4" height="263.3"/></clipPath></defs>
<rect x="397.6" y="14.0" width="280.4" height="263.3" fill="url(#rg4)" stroke="#444" stroke-width="0.5"/>
<g clip-path="url(#cp4)" fill="none" stroke="#140a00" stroke-opacity="0.78" stroke-width="0.62"><circle r="1" transform="matrix(304.8427 0.0000 -19.2022 248.5325 672.674 120.519)" vector-effect="non-scaling-stroke"/><circle r="1" transform="matrix(247.5984 0.0000 -15.5964 201.8623 672.674 120.519)" vector-effect="non-scaling-stroke"/><circle r="1" transform="matrix(172.2814 0.0000 -10.8521 140.4578 672.674 120.519)" vector-effect="non-scaling-stroke"/></g>
<rect x="400.3" y="17.0" width="6.8" height="4.0" fill="#fff" stroke="#2a2a2a" stroke-width="0.5"/>
<text x="403.7" y="20.2" font-size="3.2" text-anchor="middle" fill="#222" >70</text>
<rect x="405.8" y="253.8" width="6.8" height="4.0" fill="#fff" stroke="#2a2a2a" stroke-width="0.5"/>
<text x="409.2" y="257.0" font-size="3.2" text-anchor="middle" fill="#222" >70</text>
<rect x="424.3" y="155.0" width="6.8" height="4.0" fill="#fff" stroke="#2a2a2a" stroke-width="0.5"/>
<text x="427.7" y="158.2" font-size="3.2" text-anchor="middle" fill="#222" >80</text>
<rect x="508.8" y="174.5" width="6.8" height="4.0" fill="#fff" stroke="#2a2a2a" stroke-width="0.5"/>
<text x="512.2" y="177.7" font-size="3.2" text-anchor="middle" fill="#222" >90</text>
<circle cx="397.6" cy="14.0" r="2.7" fill="#a8100c"/>
<circle cx="678.0" cy="14.0" r="2.7" fill="#a8100c"/>
<circle cx="397.6" cy="277.3" r="2.7" fill="#a8100c"/>
<circle cx="678.0" cy="277.3" r="2.7" fill="#a8100c"/>
<circle cx="537.8" cy="145.7" r="2.7" fill="#a8100c"/>
<text x="531.5" y="146.8" font-size="3" text-anchor="middle" fill="#600" >5</text>
<path d="M397.6 277.3v6.5" stroke="#444" stroke-width="0.5"/>
<text x="397.6" y="291.3" font-size="5.3" text-anchor="middle" fill="#262626" >2</text>
<path d="M467.7 277.3v6.5" stroke="#444" stroke-width="0.5"/>
<text x="467.7" y="291.3" font-size="5.3" text-anchor="middle" fill="#262626" >3</text>
<path d="M537.8 277.3v6.5" stroke="#444" stroke-width="0.5"/>
<text x="537.8" y="291.3" font-size="5.3" text-anchor="middle" fill="#262626" >4</text>
<path d="M607.9 277.3v6.5" stroke="#444" stroke-width="0.5"/>
<text x="607.9" y="291.3" font-size="5.3" text-anchor="middle" fill="#262626" >5</text>
<path d="M678.0 277.3v6.5" stroke="#444" stroke-width="0.5"/>
<text x="678.0" y="291.3" font-size="5.3" text-anchor="middle" fill="#262626" >6</text>
<path d="M397.6 277.3h-6.7" stroke="#444" stroke-width="0.5"/>
<text x="387.8" y="279.2" font-size="5.3" text-anchor="end" fill="#262626" >1</text>
<path d="M397.6 224.6h-6.7" stroke="#444" stroke-width="0.5"/>
<text x="387.8" y="226.5" font-size="5.3" text-anchor="end" fill="#262626"  textLength="6.2" lengthAdjust="spacingAndGlyphs">6.8</text>
<path d="M397.6 172.0h-6.7" stroke="#444" stroke-width="0.5"/>
<text x="387.8" y="173.9" font-size="5.3" text-anchor="end" fill="#262626"  textLength="8.7" lengthAdjust="spacingAndGlyphs">12.6</text>
<path d="M397.6 119.3h-6.7" stroke="#444" stroke-width="0.5"/>
<text x="387.8" y="121.2" font-size="5.3" text-anchor="end" fill="#262626"  textLength="8.7" lengthAdjust="spacingAndGlyphs">18.4</text>
<path d="M397.6 66.7h-6.7" stroke="#444" stroke-width="0.5"/>
<text x="387.8" y="68.6" font-size="5.3" text-anchor="end" fill="#262626"  textLength="8.7" lengthAdjust="spacingAndGlyphs">24.2</text>
<path d="M397.6 14.0h-6.7" stroke="#444" stroke-width="0.5"/>
<text x="387.8" y="15.9" font-size="5.3" text-anchor="end" fill="#262626"  textLength="5.0" lengthAdjust="spacingAndGlyphs">30</text>
<text x="538.6" y="302.3" font-size="6.9" text-anchor="middle" fill="#262626"  textLength="56.0" lengthAdjust="spacingAndGlyphs">A: NSM dose (g/L)</text>
<text x="369.0" y="125.0" font-size="6.6" text-anchor="middle" fill="#262626" transform="rotate(-90 369.0 125.0)"  textLength="36.1" lengthAdjust="spacingAndGlyphs">B: Time (min)</text>
<text x="495.2" y="10.5" font-size="8.5" text-anchor="start" fill="#222"  textLength="84.8" lengthAdjust="spacingAndGlyphs">Cu2+ ions removal (%)</text>
<defs><linearGradient id="lg5" x1="0" x2="1" y1="0" y2="0"><stop offset="0" stop-color="#0000f0"/><stop offset="0.12" stop-color="#0010e0"/><stop offset="0.5" stop-color="#00d818"/><stop offset="0.9" stop-color="#e01000"/><stop offset="1" stop-color="#d80000"/></linearGradient></defs>
<rect x="595" y="2.9" width="19.3" height="6.7" fill="url(#lg5)"/>
<text x="591.7" y="8.3" font-size="5.3" text-anchor="end" fill="#2a2aa0"  textLength="9.7" lengthAdjust="spacingAndGlyphs">38.6</text>
<text x="616.7" y="8.3" font-size="5.3" text-anchor="start" fill="#b02020"  textLength="12.4" lengthAdjust="spacingAndGlyphs">97.48</text>
<defs><radialGradient id="rg6" gradientUnits="userSpaceOnUse" cx="0" cy="0" r="1" gradientTransform="matrix(450.5319 0.0000 -458.0670 478.0972 567.722 594.030)"><stop offset="0.0000" stop-color="#ff0000"/><stop offset="0.0208" stop-color="#ff0000"/><stop offset="0.0417" stop-color="#ff0000"/><stop offset="0.0625" stop-color="#ff0000"/><stop offset="0.0833" stop-color="#ff0000"/><stop offset="0.1042" stop-color="#ff0000"/><stop offset="0.1250" stop-color="#ff0000"/><stop offset="0.1458" stop-color="#ff0000"/><stop offset="0.1667" stop-color="#ff0000"/><stop offset="0.1875" stop-color="#ff0000"/><stop offset="0.2083" stop-color="#ff0000"/><stop offset="0.2292" stop-color="#ff0000"/><stop offset="0.2500" stop-color="#ff0000"/><stop offset="0.2708" stop-color="#ff0000"/><stop offset="0.2735" stop-color="#ff0000"/><stop offset="0.2917" stop-color="#ff0c00"/><stop offset="0.3125" stop-color="#ff1a00"/><stop offset="0.3333" stop-color="#ff2900"/><stop offset="0.3542" stop-color="#ff3900"/><stop offset="0.3750" stop-color="#ff4a00"/><stop offset="0.3958" stop-color="#ff5c00"/><stop offset="0.4167" stop-color="#ff6f00"/><stop offset="0.4375" stop-color="#ff8300"/><stop offset="0.4583" stop-color="#ff9800"/><stop offset="0.4792" stop-color="#ffae00"/><stop offset="0.5000" stop-color="#ffc400"/><stop offset="0.5208" stop-color="#ffdc00"/><stop offset="0.5417" stop-color="#fff500"/><stop offset="0.5497" stop-color="#ffff00"/><stop offset="0.5625" stop-color="#efff00"/><stop offset="0.5833" stop-color="#d4ff00"/><stop offset="0.6042" stop-color="#b9ff00"/><stop offset="0.6250" stop-color="#9cff00"/><stop offset="0.6458" stop-color="#7eff00"/><stop offset="0.6667" stop-color="#60ff00"/><stop offset="0.6875" stop-color="#40ff00"/><stop offset="0.7083" stop-color="#1fff00"/><stop offset="0.7278" stop-color="#00ff00"/><stop offset="0.7292" stop-color="#00ff02"/><stop offset="0.7500" stop-color="#00ff25"/><stop offset="0.7708" stop-color="#00ff48"/><stop offset="0.7917" stop-color="#00ff6d"/><stop offset="0.8125" stop-color="#00ff92"/><stop offset="0.8333" stop-color="#00ffb9"/><stop offset="0.8542" stop-color="#00ffe0"/><stop offset="0.8701" stop-color="#00ffff"/><stop offset="0.8750" stop-color="#00f5ff"/><stop offset="0.8958" stop-color="#00ccff"/><stop offset="0.9167" stop-color="#00a2ff"/><stop offset="0.9375" stop-color="#0076ff"/><stop offset="0.9583" stop-color="#004aff"/><stop offset="0.9792" stop-color="#001dff"/><stop offset="0.9922" stop-color="#0000ff"/><stop offset="1.0000" stop-color="#0000ff"/></radialGradient><clipPath id="cp6"><rect x="392.7" y="368.6" width="279.00000000000006" height="246.0"/></clipPath></defs>
<rect x="392.7" y="368.6" width="279.0" height="246.0" fill="url(#rg6)" stroke="#444" stroke-width="0.5"/>
<g clip-path="url(#cp6)" fill="none" stroke="#140a00" stroke-opacity="0.78" stroke-width="0.62"><circle r="1" transform="matrix(364.3164 0.0000 -370.4096 386.6068 567.722 594.030)" vector-effect="non-scaling-stroke"/><circle r="1" transform="matrix(264.5770 0.0000 -269.0020 280.7649 567.722 594.030)" vector-effect="non-scaling-stroke"/><circle r="1" transform="matrix(85.2965 0.0000 -86.7231 90.5153 567.722 594.030)" vector-effect="non-scaling-stroke"/></g>
<rect x="437.6" y="395.8" width="6.8" height="4.0" fill="#fff" stroke="#2a2a2a" stroke-width="0.5"/>
<text x="441.0" y="399.0" font-size="3.2" text-anchor="middle" fill="#222" >60</text>
<rect x="500.8" y="430.9" width="6.8" height="4.0" fill="#fff" stroke="#2a2a2a" stroke-width="0.5"/>
<text x="504.2" y="434.1" font-size="3.2" text-anchor="middle" fill="#222" >80</text>
<rect x="547.7" y="537.5" width="9.0" height="4.0" fill="#fff" stroke="#2a2a2a" stroke-width="0.5"/>
<text x="552.2" y="540.7" font-size="3.2" text-anchor="middle" fill="#222" >100</text>
<rect x="648.7" y="589.8" width="9.0" height="4.0" fill="#fff" stroke="#2a2a2a" stroke-width="0.5"/>
<text x="653.2" y="593.0" font-size="3.2" text-anchor="middle" fill="#222" >100</text>
<circle cx="392.7" cy="368.6" r="2.7" fill="#a8100c"/>
<circle cx="671.7" cy="368.6" r="2.7" fill="#a8100c"/>
<circle cx="392.7" cy="614.6" r="2.7" fill="#a8100c"/>
<circle cx="671.7" cy="614.6" r="2.7" fill="#a8100c"/>
<circle cx="532.2" cy="491.6" r="2.7" fill="#a8100c"/>
<text x="525.9" y="492.8" font-size="3" text-anchor="middle" fill="#600" >5</text>
<path d="M392.7 614.6v6.5" stroke="#444" stroke-width="0.5"/>
<text x="392.7" y="627.1" font-size="5.3" text-anchor="middle" fill="#262626" >2</text>
<path d="M462.4 614.6v6.5" stroke="#444" stroke-width="0.5"/>
<text x="462.4" y="627.1" font-size="5.3" text-anchor="middle" fill="#262626" >3</text>
<path d="M532.2 614.6v6.5" stroke="#444" stroke-width="0.5"/>
<text x="532.2" y="627.1" font-size="5.3" text-anchor="middle" fill="#262626" >4</text>
<path d="M602.0 614.6v6.5" stroke="#444" stroke-width="0.5"/>
<text x="602.0" y="627.1" font-size="5.3" text-anchor="middle" fill="#262626" >5</text>
<path d="M671.7 614.6v6.5" stroke="#444" stroke-width="0.5"/>
<text x="671.7" y="627.1" font-size="5.3" text-anchor="middle" fill="#262626" >6</text>
<path d="M392.7 614.6h-6.7" stroke="#444" stroke-width="0.5"/>
<text x="382.9" y="616.5" font-size="5.3" text-anchor="end" fill="#262626"  textLength="5.0" lengthAdjust="spacingAndGlyphs">50</text>
<path d="M392.7 565.4h-6.7" stroke="#444" stroke-width="0.5"/>
<text x="382.9" y="567.3" font-size="5.3" text-anchor="end" fill="#262626"  textLength="5.0" lengthAdjust="spacingAndGlyphs">70</text>
<path d="M392.7 516.2h-6.7" stroke="#444" stroke-width="0.5"/>
<text x="382.9" y="518.1" font-size="5.3" text-anchor="end" fill="#262626"  textLength="5.0" lengthAdjust="spacingAndGlyphs">90</text>
<path d="M392.7 467.0h-6.7" stroke="#444" stroke-width="0.5"/>
<text x="382.9" y="468.9" font-size="5.3" text-anchor="end" fill="#262626"  textLength="7.1" lengthAdjust="spacingAndGlyphs">110</text>
<path d="M392.7 417.8h-6.7" stroke="#444" stroke-width="0.5"/>
<text x="382.9" y="419.7" font-size="5.3" text-anchor="end" fill="#262626"  textLength="7.4" lengthAdjust="spacingAndGlyphs">130</text>
<path d="M392.7 368.6h-6.7" stroke="#444" stroke-width="0.5"/>
<text x="382.9" y="370.5" font-size="5.3" text-anchor="end" fill="#262626"  textLength="7.4" lengthAdjust="spacingAndGlyphs">150</text>
<text x="535.6" y="636.6" font-size="6.9" text-anchor="middle" fill="#262626"  textLength="56.0" lengthAdjust="spacingAndGlyphs">A: NSM dose (g/L)</text>
<text x="366.5" y="496.0" font-size="6.6" text-anchor="middle" fill="#262626" transform="rotate(-90 366.5 496.0)"  textLength="54.0" lengthAdjust="spacingAndGlyphs">C: Cu2+ dose (mg/L)</text>
<text x="489.3" y="364.9" font-size="8.5" text-anchor="start" fill="#222"  textLength="83.5" lengthAdjust="spacingAndGlyphs">Cu2+ ions removal (%)</text>
<defs><linearGradient id="lg7" x1="0" x2="1" y1="0" y2="0"><stop offset="0" stop-color="#0000f0"/><stop offset="0.12" stop-color="#0010e0"/><stop offset="0.5" stop-color="#00d818"/><stop offset="0.9" stop-color="#e01000"/><stop offset="1" stop-color="#d80000"/></linearGradient></defs>
<rect x="589.8" y="359" width="18.7" height="6.6" fill="url(#lg7)"/>
<text x="586.5" y="364.3" font-size="5.3" text-anchor="end" fill="#2a2aa0"  textLength="9.7" lengthAdjust="spacingAndGlyphs">38.6</text>
<text x="610.9" y="364.3" font-size="5.3" text-anchor="start" fill="#b02020"  textLength="12.4" lengthAdjust="spacingAndGlyphs">97.48</text>
<defs><radialGradient id="rg8" gradientUnits="userSpaceOnUse" cx="0" cy="0" r="1" gradientTransform="matrix(401.3555 0.0000 16.8482 337.5104 553.238 949.754)"><stop offset="0.0000" stop-color="#ff0000"/><stop offset="0.0208" stop-color="#ff0000"/><stop offset="0.0417" stop-color="#ff0000"/><stop offset="0.0625" stop-color="#ff0000"/><stop offset="0.0833" stop-color="#ff0000"/><stop offset="0.1042" stop-color="#ff0000"/><stop offset="0.1250" stop-color="#ff0000"/><stop offset="0.1458" stop-color="#ff0000"/><stop offset="0.1667" stop-color="#ff0000"/><stop offset="0.1875" stop-color="#ff0000"/><stop offset="0.2083" stop-color="#ff0000"/><stop offset="0.2292" stop-color="#ff0000"/><stop offset="0.2500" stop-color="#ff0000"/><stop offset="0.2708" stop-color="#ff0000"/><stop offset="0.2745" stop-color="#ff0000"/><stop offset="0.2917" stop-color="#ff0b00"/><stop offset="0.3125" stop-color="#ff1900"/><stop offset="0.3333" stop-color="#ff2800"/><stop offset="0.3542" stop-color="#ff3800"/><stop offset="0.3750" stop-color="#ff4900"/><stop offset="0.3958" stop-color="#ff5b00"/><stop offset="0.4167" stop-color="#ff6e00"/><stop offset="0.4375" stop-color="#ff8200"/><stop offset="0.4583" stop-color="#ff9700"/><stop offset="0.4792" stop-color="#ffad00"/><stop offset="0.5000" stop-color="#ffc400"/><stop offset="0.5208" stop-color="#ffdc00"/><stop offset="0.5417" stop-color="#fff500"/><stop offset="0.5501" stop-color="#ffff00"/><stop offset="0.5625" stop-color="#f0ff00"/><stop offset="0.5833" stop-color="#d5ff00"/><stop offset="0.6042" stop-color="#b9ff00"/><stop offset="0.6250" stop-color="#9cff00"/><stop offset="0.6458" stop-color="#7fff00"/><stop offset="0.6667" stop-color="#60ff00"/><stop offset="0.6875" stop-color="#40ff00"/><stop offset="0.7083" stop-color="#20ff00"/><stop offset="0.7280" stop-color="#00ff00"/><stop offset="0.7292" stop-color="#00ff02"/><stop offset="0.7500" stop-color="#00ff25"/><stop offset="0.7708" stop-color="#00ff48"/><stop offset="0.7917" stop-color="#00ff6d"/><stop offset="0.8125" stop-color="#00ff92"/><stop offset="0.8333" stop-color="#00ffb9"/><stop offset="0.8542" stop-color="#00ffe0"/><stop offset="0.8702" stop-color="#00ffff"/><stop offset="0.8750" stop-color="#00f6ff"/><stop offset="0.8958" stop-color="#00ccff"/><stop offset="0.9167" stop-color="#00a2ff"/><stop offset="0.9375" stop-color="#0077ff"/><stop offset="0.9583" stop-color="#004aff"/><stop offset="0.9792" stop-color="#001dff"/><stop offset="0.9922" stop-color="#0000ff"/><stop offset="1.0000" stop-color="#0000ff"/></radialGradient><clipPath id="cp8"><rect x="382.9" y="703.6" width="289.1" height="247.39999999999998"/></clipPath></defs>
<rect x="382.9" y="703.6" width="289.1" height="247.4" fill="url(#rg8)" stroke="#444" stroke-width="0.5"/>
<g clip-path="url(#cp8)" fill="none" stroke="#140a00" stroke-opacity="0.78" stroke-width="0.62"><circle r="1" transform="matrix(324.6036 0.0000 13.6263 272.9676 553.238 949.754)" vector-effect="non-scaling-stroke"/><circle r="1" transform="matrix(283.7129 0.0000 11.9097 238.5816 553.238 949.754)" vector-effect="non-scaling-stroke"/><circle r="1" transform="matrix(235.8359 0.0000 9.9000 198.3206 553.238 949.754)" vector-effect="non-scaling-stroke"/><circle r="1" transform="matrix(175.3400 0.0000 7.3605 147.4480 553.238 949.754)" vector-effect="non-scaling-stroke"/><circle r="1" transform="matrix(76.6138 0.0000 3.2161 64.4265 553.238 949.754)" vector-effect="non-scaling-stroke"/></g>
<rect x="390.3" y="705.0" width="6.8" height="4.0" fill="#fff" stroke="#2a2a2a" stroke-width="0.5"/>
<text x="393.7" y="708.2" font-size="3.2" text-anchor="middle" fill="#222" >60</text>
<rect x="516.3" y="709.0" width="6.8" height="4.0" fill="#fff" stroke="#2a2a2a" stroke-width="0.5"/>
<text x="519.7" y="712.2" font-size="3.2" text-anchor="middle" fill="#222" >70</text>
<rect x="513.3" y="750.5" width="6.8" height="4.0" fill="#fff" stroke="#2a2a2a" stroke-width="0.5"/>
<text x="516.7" y="753.7" font-size="3.2" text-anchor="middle" fill="#222" >80</text>
<rect x="495.3" y="806.0" width="6.8" height="4.0" fill="#fff" stroke="#2a2a2a" stroke-width="0.5"/>
<text x="498.7" y="809.2" font-size="3.2" text-anchor="middle" fill="#222" >90</text>
<rect x="548.2" y="884.0" width="9.0" height="4.0" fill="#fff" stroke="#2a2a2a" stroke-width="0.5"/>
<text x="552.7" y="887.2" font-size="3.2" text-anchor="middle" fill="#222" >100</text>
<circle cx="382.9" cy="703.6" r="2.7" fill="#a8100c"/>
<circle cx="672.0" cy="703.6" r="2.7" fill="#a8100c"/>
<circle cx="382.9" cy="951.0" r="2.7" fill="#a8100c"/>
<circle cx="672.0" cy="951.0" r="2.7" fill="#a8100c"/>
<circle cx="527.5" cy="827.3" r="2.7" fill="#a8100c"/>
<text x="521.2" y="828.5" font-size="3" text-anchor="middle" fill="#600" >5</text>
<path d="M382.9 951.0v6.5" stroke="#444" stroke-width="0.5"/>
<text x="382.9" y="963.5" font-size="5.3" text-anchor="middle" fill="#262626" >1</text>
<path d="M440.7 951.0v6.5" stroke="#444" stroke-width="0.5"/>
<text x="440.7" y="963.5" font-size="5.3" text-anchor="middle" fill="#262626"  textLength="6.6" lengthAdjust="spacingAndGlyphs">6.8</text>
<path d="M498.5 951.0v6.5" stroke="#444" stroke-width="0.5"/>
<text x="498.5" y="963.5" font-size="5.3" text-anchor="middle" fill="#262626"  textLength="9.3" lengthAdjust="spacingAndGlyphs">12.6</text>
<path d="M556.4 951.0v6.5" stroke="#444" stroke-width="0.5"/>
<text x="556.4" y="963.5" font-size="5.3" text-anchor="middle" fill="#262626"  textLength="9.3" lengthAdjust="spacingAndGlyphs">18.4</text>
<path d="M614.2 951.0v6.5" stroke="#444" stroke-width="0.5"/>
<text x="614.2" y="963.5" font-size="5.3" text-anchor="middle" fill="#262626"  textLength="9.3" lengthAdjust="spacingAndGlyphs">24.2</text>
<path d="M672.0 951.0v6.5" stroke="#444" stroke-width="0.5"/>
<text x="672.0" y="963.5" font-size="5.3" text-anchor="middle" fill="#262626"  textLength="5.3" lengthAdjust="spacingAndGlyphs">30</text>
<path d="M382.9 951.0h-6.7" stroke="#444" stroke-width="0.5"/>
<text x="373.1" y="952.9" font-size="5.3" text-anchor="end" fill="#262626"  textLength="5.0" lengthAdjust="spacingAndGlyphs">50</text>
<path d="M382.9 901.5h-6.7" stroke="#444" stroke-width="0.5"/>
<text x="373.1" y="903.4" font-size="5.3" text-anchor="end" fill="#262626"  textLength="5.0" lengthAdjust="spacingAndGlyphs">70</text>
<path d="M382.9 852.0h-6.7" stroke="#444" stroke-width="0.5"/>
<text x="373.1" y="853.9" font-size="5.3" text-anchor="end" fill="#262626"  textLength="5.0" lengthAdjust="spacingAndGlyphs">90</text>
<path d="M382.9 802.6h-6.7" stroke="#444" stroke-width="0.5"/>
<text x="373.1" y="804.5" font-size="5.3" text-anchor="end" fill="#262626"  textLength="7.1" lengthAdjust="spacingAndGlyphs">110</text>
<path d="M382.9 753.1h-6.7" stroke="#444" stroke-width="0.5"/>
<text x="373.1" y="755.0" font-size="5.3" text-anchor="end" fill="#262626"  textLength="7.4" lengthAdjust="spacingAndGlyphs">130</text>
<path d="M382.9 703.6h-6.7" stroke="#444" stroke-width="0.5"/>
<text x="373.1" y="705.5" font-size="5.3" text-anchor="end" fill="#262626"  textLength="7.4" lengthAdjust="spacingAndGlyphs">150</text>
<text x="537.5" y="971.1" font-size="6.9" text-anchor="middle" fill="#262626"  textLength="40.0" lengthAdjust="spacingAndGlyphs">B: Time (min)</text>
<text x="355.0" y="825.7" font-size="6.6" text-anchor="middle" fill="#262626" transform="rotate(-90 355.0 825.7)"  textLength="54.6" lengthAdjust="spacingAndGlyphs">C: Cu2+ dose (mg/L)</text>
<text x="482.8" y="699.9" font-size="8.5" text-anchor="start" fill="#222"  textLength="87.2" lengthAdjust="spacingAndGlyphs">Cu2+ ions removal (%)</text>
<defs><linearGradient id="lg9" x1="0" x2="1" y1="0" y2="0"><stop offset="0" stop-color="#0000f0"/><stop offset="0.12" stop-color="#0010e0"/><stop offset="0.5" stop-color="#00d818"/><stop offset="0.9" stop-color="#e01000"/><stop offset="1" stop-color="#d80000"/></linearGradient></defs>
<rect x="591" y="694" width="19.8" height="6.6" fill="url(#lg9)"/>
<text x="587.7" y="699.3" font-size="5.3" text-anchor="end" fill="#2a2aa0"  textLength="9.7" lengthAdjust="spacingAndGlyphs">38.6</text>
<text x="613.2" y="699.3" font-size="5.3" text-anchor="start" fill="#b02020"  textLength="12.4" lengthAdjust="spacingAndGlyphs">97.48</text>
<text x="162.2" y="337.8" font-family="Liberation Serif, serif" font-weight="bold" font-size="19" text-anchor="middle" fill="#111">A</text>
<text x="516.9" y="340.7" font-family="Liberation Serif, serif" font-weight="bold" font-size="19" text-anchor="middle" fill="#111">B</text>
<text x="162.2" y="665.5" font-family="Liberation Serif, serif" font-weight="bold" font-size="19" text-anchor="middle" fill="#111">C</text>
<text x="516.9" y="670.5" font-family="Liberation Serif, serif" font-weight="bold" font-size="19" text-anchor="middle" fill="#111">D</text>
<text x="160.7" y="997.8" font-family="Liberation Serif, serif" font-weight="bold" font-size="19" text-anchor="middle" fill="#111">E</text>
<text x="516.2" y="1007.3" font-family="Liberation Serif, serif" font-weight="bold" font-size="19" text-anchor="middle" fill="#111">F</text>
</svg>
</body></html>
